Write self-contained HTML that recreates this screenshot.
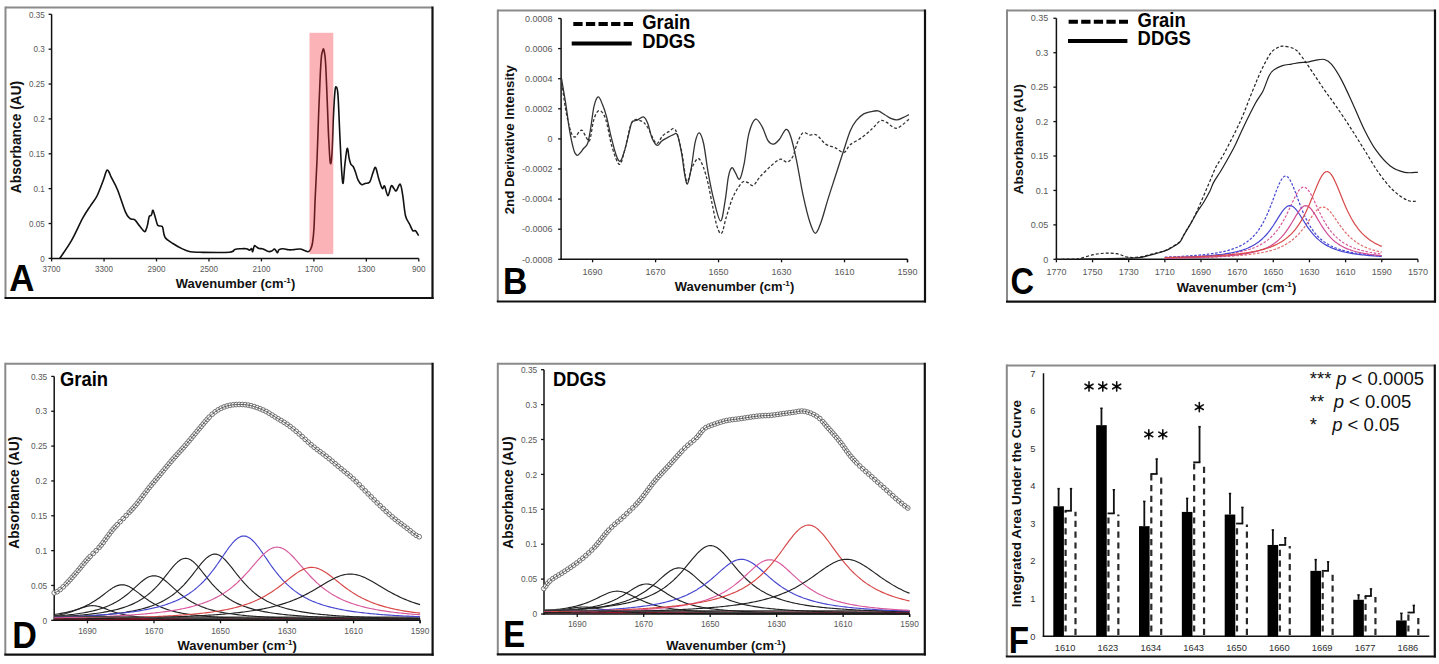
<!DOCTYPE html>
<html><head><meta charset="utf-8"><title>Figure</title>
<style>
html,body{margin:0;padding:0;background:#fff;overflow:hidden;}
svg{display:block;}
text{font-family:"Liberation Sans", sans-serif;}
</style></head>
<body>
<svg width="1439" height="664" viewBox="0 0 1439 664">
<rect width="1439" height="664" fill="#fff"/>
<line x1="5.5" y1="7.5" x2="432.5" y2="7.5" stroke="#8a8a8a" stroke-width="2" stroke-linecap="butt"/>
<line x1="5.5" y1="6.5" x2="5.5" y2="298" stroke="#8a8a8a" stroke-width="2" stroke-linecap="butt"/>
<line x1="432.5" y1="6.5" x2="432.5" y2="299" stroke="#111" stroke-width="2.2" stroke-linecap="butt"/>
<line x1="4.5" y1="298" x2="433.5" y2="298" stroke="#111" stroke-width="2.2" stroke-linecap="butt"/>
<line x1="51.6" y1="14.31" x2="51.6" y2="259.15" stroke="#111" stroke-width="1.5" stroke-linecap="butt"/>
<line x1="50.85" y1="258.4" x2="418.8" y2="258.4" stroke="#111" stroke-width="1.5" stroke-linecap="butt"/>
<line x1="48.6" y1="258.4" x2="51.6" y2="258.4" stroke="#111" stroke-width="1.3" stroke-linecap="butt"/>
<text transform="translate(44.8 261.6) scale(0.9 1)" x="0" y="0" font-size="9" text-anchor="end" fill="#585858">0</text>
<line x1="48.6" y1="223.53" x2="51.6" y2="223.53" stroke="#111" stroke-width="1.3" stroke-linecap="butt"/>
<text transform="translate(44.8 226.73) scale(0.9 1)" x="0" y="0" font-size="9" text-anchor="end" fill="#585858">0.05</text>
<line x1="48.6" y1="188.66" x2="51.6" y2="188.66" stroke="#111" stroke-width="1.3" stroke-linecap="butt"/>
<text transform="translate(44.8 191.86) scale(0.9 1)" x="0" y="0" font-size="9" text-anchor="end" fill="#585858">0.1</text>
<line x1="48.6" y1="153.79" x2="51.6" y2="153.79" stroke="#111" stroke-width="1.3" stroke-linecap="butt"/>
<text transform="translate(44.8 156.99) scale(0.9 1)" x="0" y="0" font-size="9" text-anchor="end" fill="#585858">0.15</text>
<line x1="48.6" y1="118.92" x2="51.6" y2="118.92" stroke="#111" stroke-width="1.3" stroke-linecap="butt"/>
<text transform="translate(44.8 122.12) scale(0.9 1)" x="0" y="0" font-size="9" text-anchor="end" fill="#585858">0.2</text>
<line x1="48.6" y1="84.05" x2="51.6" y2="84.05" stroke="#111" stroke-width="1.3" stroke-linecap="butt"/>
<text transform="translate(44.8 87.25) scale(0.9 1)" x="0" y="0" font-size="9" text-anchor="end" fill="#585858">0.25</text>
<line x1="48.6" y1="49.18" x2="51.6" y2="49.18" stroke="#111" stroke-width="1.3" stroke-linecap="butt"/>
<text transform="translate(44.8 52.38) scale(0.9 1)" x="0" y="0" font-size="9" text-anchor="end" fill="#585858">0.3</text>
<line x1="48.6" y1="14.31" x2="51.6" y2="14.31" stroke="#111" stroke-width="1.3" stroke-linecap="butt"/>
<text transform="translate(44.8 17.51) scale(0.9 1)" x="0" y="0" font-size="9" text-anchor="end" fill="#585858">0.35</text>
<line x1="51.6" y1="258.4" x2="51.6" y2="261.4" stroke="#111" stroke-width="1.3" stroke-linecap="butt"/>
<text transform="translate(51.6 272.2) scale(0.9 1)" x="0" y="0" font-size="9" text-anchor="middle" fill="#585858">3700</text>
<line x1="104.06" y1="258.4" x2="104.06" y2="261.4" stroke="#111" stroke-width="1.3" stroke-linecap="butt"/>
<text transform="translate(104.06 272.2) scale(0.9 1)" x="0" y="0" font-size="9" text-anchor="middle" fill="#585858">3300</text>
<line x1="156.51" y1="258.4" x2="156.51" y2="261.4" stroke="#111" stroke-width="1.3" stroke-linecap="butt"/>
<text transform="translate(156.51 272.2) scale(0.9 1)" x="0" y="0" font-size="9" text-anchor="middle" fill="#585858">2900</text>
<line x1="208.97" y1="258.4" x2="208.97" y2="261.4" stroke="#111" stroke-width="1.3" stroke-linecap="butt"/>
<text transform="translate(208.97 272.2) scale(0.9 1)" x="0" y="0" font-size="9" text-anchor="middle" fill="#585858">2500</text>
<line x1="261.43" y1="258.4" x2="261.43" y2="261.4" stroke="#111" stroke-width="1.3" stroke-linecap="butt"/>
<text transform="translate(261.43 272.2) scale(0.9 1)" x="0" y="0" font-size="9" text-anchor="middle" fill="#585858">2100</text>
<line x1="313.89" y1="258.4" x2="313.89" y2="261.4" stroke="#111" stroke-width="1.3" stroke-linecap="butt"/>
<text transform="translate(313.89 272.2) scale(0.9 1)" x="0" y="0" font-size="9" text-anchor="middle" fill="#585858">1700</text>
<line x1="366.34" y1="258.4" x2="366.34" y2="261.4" stroke="#111" stroke-width="1.3" stroke-linecap="butt"/>
<text transform="translate(366.34 272.2) scale(0.9 1)" x="0" y="0" font-size="9" text-anchor="middle" fill="#585858">1300</text>
<line x1="418.8" y1="258.4" x2="418.8" y2="261.4" stroke="#111" stroke-width="1.3" stroke-linecap="butt"/>
<text transform="translate(418.8 272.2) scale(0.9 1)" x="0" y="0" font-size="9" text-anchor="middle" fill="#585858">900</text>
<text x="20.9" y="137" font-size="13.75" text-anchor="middle" font-weight="bold" fill="#111" transform="rotate(-90 20.9 137)" >Absorbance (AU)</text>
<text x="235.5" y="287.8" font-size="13" font-weight="bold" text-anchor="middle" fill="#111">Wavenumber (cm<tspan font-size="8.1" dy="-5">-1</tspan><tspan dy="5">)</tspan></text>
<text transform="translate(9.16 291.2) scale(0.947 1)" x="0" y="0" font-size="36.8" font-weight="bold" fill="#000">A</text>
<path d="M59.6,258.7 C61.6,255.65 67.75,247.15 71.6,240.4 C75.45,233.65 79.53,224 82.7,218.2 C85.87,212.4 88.22,209.3 90.6,205.6 C92.98,201.9 94.88,200.22 97,196 C99.12,191.78 101.88,184.05 103.3,180.3 C104.72,176.55 104.87,175.2 105.5,173.5 C106.13,171.8 106.52,170.35 107.1,170.1 C107.68,169.85 108.32,170.83 109,172 C109.68,173.17 109.78,174.15 111.2,177.1 C112.62,180.05 115.13,183.9 117.5,189.7 C119.87,195.5 123.4,207.18 125.4,211.9 C127.4,216.62 128.43,216.78 129.5,218 C130.57,219.22 130.9,218.9 131.8,219.2 C132.7,219.5 133.58,218.65 134.9,219.8 C136.22,220.95 138.12,224.15 139.7,226.1 C141.28,228.05 143.3,231.02 144.4,231.5 C145.5,231.98 145.77,230.15 146.3,229 C146.83,227.85 147.12,226.67 147.6,224.6 C148.08,222.53 148.67,218.08 149.2,216.6 C149.73,215.12 150.37,216.13 150.8,215.7 C151.23,215.27 151.43,214.9 151.8,214 C152.17,213.1 152.38,209.6 153,210.3 C153.62,211 154.72,215.72 155.5,218.2 C156.28,220.68 156.75,223.88 157.7,225.2 C158.65,226.52 160.35,225.68 161.2,226.1 C162.05,226.52 162.17,225.85 162.8,227.7 C163.43,229.55 163.32,234.57 165,237.2 C166.68,239.83 170,241.55 172.9,243.5 C175.8,245.45 179.5,247.52 182.4,248.9 C185.3,250.28 187.37,251.23 190.3,251.8 C193.23,252.37 193.47,252.23 200,252.3 C206.53,252.37 223.7,252.68 229.5,252.2 C235.3,251.72 232.87,249.98 234.8,249.4 C236.73,248.82 239.17,248.82 241.1,248.7 C243.03,248.58 245,248.47 246.4,248.7 C247.8,248.93 248.63,250.13 249.5,250.1 C250.37,250.07 251.07,248.23 251.6,248.5 C252.13,248.77 252.25,252.13 252.7,251.7 C253.15,251.27 253.68,246.7 254.3,245.9 C254.92,245.1 255.62,246.47 256.4,246.9 C257.18,247.33 258.03,248.2 259,248.5 C259.97,248.8 261.15,248.43 262.2,248.7 C263.25,248.97 264.25,249.63 265.3,250.1 C266.35,250.57 267.43,251.33 268.5,251.5 C269.57,251.67 270.73,251.52 271.7,251.1 C272.67,250.68 273.6,249.08 274.3,249 C275,248.92 275.37,249.98 275.9,250.6 C276.43,251.22 276.97,252.87 277.5,252.7 C278.03,252.53 278.13,250.27 279.1,249.6 C280.07,248.93 281.73,248.67 283.3,248.7 C284.87,248.73 286.75,249.65 288.5,249.8 C290.25,249.95 291.87,249.73 293.8,249.6 C295.73,249.47 298.33,248.87 300.1,249 C301.87,249.13 303.08,249.93 304.4,250.4 C305.72,250.87 306.98,251.95 308,251.8 C309.02,251.65 309.75,250.97 310.5,249.5 C311.25,248.03 311.92,246.58 312.5,243 C313.08,239.42 313.57,235.17 314,228 C314.43,220.83 314.6,211.25 315.1,200 C315.6,188.75 316.4,175.12 317,160.5 C317.6,145.88 318.17,126.37 318.7,112.3 C319.23,98.23 319.75,85.33 320.2,76.1 C320.65,66.87 321,61.08 321.4,56.9 C321.8,52.72 322.2,52.22 322.6,51 C323,49.78 323.32,47.82 323.8,49.6 C324.28,51.38 324.93,53.27 325.5,61.7 C326.07,70.13 326.68,87.75 327.2,100.2 C327.72,112.65 328.08,125.95 328.6,136.4 C329.12,146.85 329.73,160.08 330.3,162.9 C330.87,165.72 331.48,160.93 332,153.3 C332.52,145.67 332.92,127.35 333.4,117.1 C333.88,106.85 334.42,96.82 334.9,91.8 C335.38,86.78 335.78,86.4 336.3,87 C336.82,87.6 337.4,87.17 338,95.4 C338.6,103.63 339.3,123.95 339.9,136.4 C340.5,148.85 341.07,162.27 341.6,170.1 C342.13,177.93 342.57,184.2 343.1,183.4 C343.63,182.6 344.12,171.13 344.8,165.3 C345.48,159.47 346.48,149.6 347.2,148.4 C347.92,147.2 348.5,155.48 349.1,158.1 C349.7,160.72 350.12,162.7 350.8,164.1 C351.48,165.5 352.4,165.1 353.2,166.5 C354,167.9 354.8,170.28 355.6,172.5 C356.4,174.72 357,177.78 358,179.8 C359,181.82 360.43,184 361.6,184.6 C362.77,185.2 363.65,183.85 365,183.4 C366.35,182.95 368.37,183.7 369.7,181.9 C371.03,180.1 372.02,174.98 373,172.6 C373.98,170.22 374.62,166.48 375.6,167.6 C376.58,168.72 377.78,175.82 378.9,179.3 C380.02,182.78 381.35,187.4 382.3,188.5 C383.25,189.6 383.67,184.68 384.6,185.9 C385.53,187.12 386.8,195.8 387.9,195.8 C389,195.8 390.2,187.12 391.2,185.9 C392.2,184.68 393.07,187.67 393.9,188.5 C394.73,189.33 395.15,191.62 396.2,190.9 C397.25,190.18 399.1,183.38 400.2,184.2 C401.3,185.02 401.92,190.55 402.8,195.8 C403.68,201.05 404.38,211 405.5,215.7 C406.62,220.4 408.28,221.5 409.5,224 C410.72,226.5 411.82,229.58 412.8,230.7 C413.78,231.82 414.42,229.88 415.4,230.7 C416.38,231.52 418.15,234.78 418.7,235.6" fill="none" stroke="#111" stroke-width="1.6" stroke-linejoin="round" />
<rect x="309.5" y="32.8" width="23.8" height="221.3" fill="#f5323d" fill-opacity="0.37"/>
<line x1="497.8" y1="10.5" x2="925" y2="10.5" stroke="#8a8a8a" stroke-width="2" stroke-linecap="butt"/>
<line x1="497.8" y1="9.5" x2="497.8" y2="301.5" stroke="#8a8a8a" stroke-width="2" stroke-linecap="butt"/>
<line x1="925" y1="9.5" x2="925" y2="302.5" stroke="#111" stroke-width="2.2" stroke-linecap="butt"/>
<line x1="496.8" y1="301.5" x2="926" y2="301.5" stroke="#111" stroke-width="2.2" stroke-linecap="butt"/>
<line x1="561.1" y1="18.5" x2="561.1" y2="260.05" stroke="#111" stroke-width="1.5" stroke-linecap="butt"/>
<line x1="560.35" y1="259.3" x2="907.5" y2="259.3" stroke="#111" stroke-width="1.5" stroke-linecap="butt"/>
<line x1="558.1" y1="259.3" x2="561.1" y2="259.3" stroke="#111" stroke-width="1.3" stroke-linecap="butt"/>
<text transform="translate(552.6 262.5) scale(1.0 1)" x="0" y="0" font-size="9" text-anchor="end" fill="#585858">-0.0008</text>
<line x1="558.1" y1="229.2" x2="561.1" y2="229.2" stroke="#111" stroke-width="1.3" stroke-linecap="butt"/>
<text transform="translate(552.6 232.4) scale(1.0 1)" x="0" y="0" font-size="9" text-anchor="end" fill="#585858">-0.0006</text>
<line x1="558.1" y1="199.1" x2="561.1" y2="199.1" stroke="#111" stroke-width="1.3" stroke-linecap="butt"/>
<text transform="translate(552.6 202.3) scale(1.0 1)" x="0" y="0" font-size="9" text-anchor="end" fill="#585858">-0.0004</text>
<line x1="558.1" y1="169" x2="561.1" y2="169" stroke="#111" stroke-width="1.3" stroke-linecap="butt"/>
<text transform="translate(552.6 172.2) scale(1.0 1)" x="0" y="0" font-size="9" text-anchor="end" fill="#585858">-0.0002</text>
<line x1="558.1" y1="138.9" x2="561.1" y2="138.9" stroke="#111" stroke-width="1.3" stroke-linecap="butt"/>
<text transform="translate(552.6 142.1) scale(1.0 1)" x="0" y="0" font-size="9" text-anchor="end" fill="#585858">0</text>
<line x1="558.1" y1="108.8" x2="561.1" y2="108.8" stroke="#111" stroke-width="1.3" stroke-linecap="butt"/>
<text transform="translate(552.6 112) scale(1.0 1)" x="0" y="0" font-size="9" text-anchor="end" fill="#585858">0.0002</text>
<line x1="558.1" y1="78.7" x2="561.1" y2="78.7" stroke="#111" stroke-width="1.3" stroke-linecap="butt"/>
<text transform="translate(552.6 81.9) scale(1.0 1)" x="0" y="0" font-size="9" text-anchor="end" fill="#585858">0.0004</text>
<line x1="558.1" y1="48.6" x2="561.1" y2="48.6" stroke="#111" stroke-width="1.3" stroke-linecap="butt"/>
<text transform="translate(552.6 51.8) scale(1.0 1)" x="0" y="0" font-size="9" text-anchor="end" fill="#585858">0.0006</text>
<line x1="558.1" y1="18.5" x2="561.1" y2="18.5" stroke="#111" stroke-width="1.3" stroke-linecap="butt"/>
<text transform="translate(552.6 21.7) scale(1.0 1)" x="0" y="0" font-size="9" text-anchor="end" fill="#585858">0.0008</text>
<line x1="592.59" y1="259.3" x2="592.59" y2="262.3" stroke="#111" stroke-width="1.3" stroke-linecap="butt"/>
<text transform="translate(592.59 275) scale(1.0 1)" x="0" y="0" font-size="9" text-anchor="middle" fill="#585858">1690</text>
<line x1="655.57" y1="259.3" x2="655.57" y2="262.3" stroke="#111" stroke-width="1.3" stroke-linecap="butt"/>
<text transform="translate(655.57 275) scale(1.0 1)" x="0" y="0" font-size="9" text-anchor="middle" fill="#585858">1670</text>
<line x1="718.55" y1="259.3" x2="718.55" y2="262.3" stroke="#111" stroke-width="1.3" stroke-linecap="butt"/>
<text transform="translate(718.55 275) scale(1.0 1)" x="0" y="0" font-size="9" text-anchor="middle" fill="#585858">1650</text>
<line x1="781.54" y1="259.3" x2="781.54" y2="262.3" stroke="#111" stroke-width="1.3" stroke-linecap="butt"/>
<text transform="translate(781.54 275) scale(1.0 1)" x="0" y="0" font-size="9" text-anchor="middle" fill="#585858">1630</text>
<line x1="844.52" y1="259.3" x2="844.52" y2="262.3" stroke="#111" stroke-width="1.3" stroke-linecap="butt"/>
<text transform="translate(844.52 275) scale(1.0 1)" x="0" y="0" font-size="9" text-anchor="middle" fill="#585858">1610</text>
<line x1="907.5" y1="259.3" x2="907.5" y2="262.3" stroke="#111" stroke-width="1.3" stroke-linecap="butt"/>
<text transform="translate(907.5 275) scale(1.0 1)" x="0" y="0" font-size="9" text-anchor="middle" fill="#585858">1590</text>
<line x1="907.5" y1="259.3" x2="907.5" y2="262.3" stroke="#111" stroke-width="1.3" stroke-linecap="butt"/>
<text x="514.3" y="139.7" font-size="13.3" text-anchor="middle" font-weight="bold" fill="#111" transform="rotate(-90 514.3 139.7)" >2nd Derivative Intensity</text>
<text x="734.5" y="291.3" font-size="13" font-weight="bold" text-anchor="middle" fill="#111">Wavenumber (cm<tspan font-size="8.1" dy="-5">-1</tspan><tspan dy="5">)</tspan></text>
<text transform="translate(502.9 294) scale(0.925 1)" x="0" y="0" font-size="36.5" font-weight="bold" fill="#000">B</text>
<line x1="573.3" y1="24.1" x2="633" y2="24.1" stroke="#000" stroke-width="4" stroke-dasharray="9.3 3.3" stroke-linecap="butt"/>
<line x1="571.7" y1="43.4" x2="631.7" y2="43.4" stroke="#000" stroke-width="4" stroke-linecap="butt"/>
<text transform="translate(642.2 28.8) scale(1 1.06)" x="0" y="0" font-size="18.4" font-weight="bold" fill="#000">Grain</text>
<text transform="translate(642.2 47.7) scale(1 1.06)" x="0" y="0" font-size="18.4" font-weight="bold" fill="#000">DDGS</text>
<path d="M561.3,77.9 C562,81.95 564.08,93.23 565.5,102.2 C566.92,111.17 568.38,123.63 569.8,131.7 C571.22,139.77 572.78,146.67 574,150.6 C575.22,154.53 576.05,154.95 577.1,155.3 C578.15,155.65 579.23,153.83 580.3,152.7 C581.37,151.57 582.27,150.07 583.5,148.5 C584.73,146.93 586.48,146.8 587.7,143.3 C588.92,139.8 589.75,133.65 590.8,127.5 C591.85,121.35 592.77,111.5 594,106.4 C595.23,101.3 596.8,97.25 598.2,96.9 C599.6,96.55 601,100.97 602.4,104.3 C603.8,107.63 605.18,111.63 606.6,116.9 C608.02,122.17 609.32,129.57 610.9,135.9 C612.48,142.23 614.53,150.68 616.1,154.9 C617.67,159.12 618.88,161.92 620.3,161.2 C621.72,160.48 623.18,155.17 624.6,150.6 C626.02,146.03 627.57,138.53 628.8,133.8 C630.03,129.07 630.6,124.48 632,122.2 C633.4,119.92 635.28,120.98 637.2,120.1 C639.12,119.22 641.75,116.38 643.5,116.9 C645.25,117.42 646.28,119.68 647.7,123.2 C649.12,126.72 650.42,134.3 652,138 C653.58,141.7 655.62,144.87 657.2,145.4 C658.78,145.93 659.92,142.43 661.5,141.2 C663.08,139.97 664.78,139.07 666.7,138 C668.62,136.93 671.23,135.33 673,134.8 C674.77,134.27 675.88,131.82 677.3,134.8 C678.72,137.78 680.28,146.2 681.5,152.7 C682.72,159.2 683.62,168.58 684.6,173.8 C685.58,179.02 686.33,184.7 687.4,184 C688.47,183.3 689.7,176.57 691,169.6 C692.3,162.63 693.83,148.33 695.2,142.2 C696.57,136.07 697.8,132.58 699.2,132.8 C700.6,133.02 702.12,136.92 703.6,143.5 C705.08,150.08 706.42,162.98 708.1,172.3 C709.78,181.62 711.63,191.3 713.7,199.4 C715.77,207.5 718.62,220.52 720.5,220.9 C722.38,221.28 723.68,209.05 725,201.7 C726.32,194.35 727.27,182.45 728.4,176.8 C729.53,171.15 730.67,168.55 731.8,167.8 C732.93,167.05 733.88,170.42 735.2,172.3 C736.52,174.18 738.2,180.6 739.7,179.1 C741.2,177.6 742.68,170.83 744.2,163.3 C745.72,155.77 746.92,141.25 748.8,133.9 C750.68,126.55 753.25,120.33 755.5,119.2 C757.75,118.07 760.22,123.52 762.3,127.1 C764.38,130.68 766.12,137.87 768,140.7 C769.88,143.53 771.72,144.3 773.6,144.1 C775.48,143.9 777.23,141.95 779.3,139.5 C781.37,137.05 784.12,129.95 786,129.4 C787.88,128.85 788.9,131.3 790.6,136.2 C792.3,141.1 794.13,149.02 796.2,158.8 C798.27,168.58 800.73,184.37 803,194.9 C805.27,205.43 807.73,215.6 809.8,222 C811.87,228.4 813.52,233.3 815.4,233.3 C817.28,233.3 819.02,227.65 821.1,222 C823.18,216.35 825.57,206.9 827.9,199.4 C830.23,191.9 832.65,184.6 835.1,177 C837.55,169.4 840.1,161.43 842.6,153.8 C845.1,146.17 847.83,136.72 850.1,131.2 C852.37,125.68 853.93,123.58 856.2,120.7 C858.47,117.82 861.2,115.42 863.7,113.9 C866.2,112.38 868.82,112.1 871.2,111.6 C873.58,111.1 875.73,110.38 878,110.9 C880.27,111.42 882.67,113.45 884.8,114.7 C886.93,115.95 888.78,117.53 890.8,118.4 C892.82,119.27 894.88,120.02 896.9,119.9 C898.92,119.78 900.9,118.57 902.9,117.7 C904.9,116.83 907.9,115.2 908.9,114.7" fill="none" stroke="#333" stroke-width="1.3" stroke-linejoin="round" />
<path d="M561.3,77.9 C562,83 563.92,99.53 565.5,108.5 C567.08,117.47 569.22,126.95 570.8,131.7 C572.38,136.45 573.6,137 575,137 C576.4,137 577.97,132.77 579.2,131.7 C580.43,130.63 581.17,129.55 582.4,130.6 C583.63,131.65 585.37,136.42 586.6,138 C587.83,139.58 588.57,143.27 589.8,140.1 C591.03,136.93 592.42,123.92 594,119 C595.58,114.08 597.37,110.6 599.3,110.6 C601.23,110.6 603.5,113.03 605.6,119 C607.7,124.97 609.62,138.85 611.9,146.4 C614.18,153.95 617.18,163.6 619.3,164.3 C621.42,165 622.48,157.62 624.6,150.6 C626.72,143.58 629.2,127.12 632,122.2 C634.8,117.28 638.78,120.22 641.4,121.1 C644.02,121.98 645.23,123.8 647.7,127.5 C650.17,131.2 653.73,141.9 656.2,143.3 C658.67,144.7 660.4,137.83 662.5,135.9 C664.6,133.97 666.68,132.75 668.8,131.7 C670.92,130.65 673.08,126.45 675.2,129.6 C677.32,132.75 679.58,142 681.5,150.6 C683.42,159.2 684.95,178.38 686.7,181.2 C688.45,184.02 690.07,171.28 692,167.5 C693.93,163.72 696.37,158.45 698.3,158.5 C700.23,158.55 701.97,163.62 703.6,167.8 C705.23,171.98 706.6,177.2 708.1,183.6 C709.6,190 711.1,199.03 712.6,206.2 C714.1,213.37 715.6,222.08 717.1,226.6 C718.6,231.12 720.08,234.82 721.6,233.3 C723.12,231.78 724.32,223.52 726.2,217.5 C728.08,211.48 730.27,203.03 732.9,197.2 C735.53,191.37 739.55,184.95 742,182.5 C744.45,180.05 745.72,182.02 747.6,182.5 C749.48,182.98 751.23,186.35 753.3,185.4 C755.37,184.45 756.98,180.12 760,176.8 C763.02,173.48 768,168.43 771.4,165.5 C774.8,162.57 777.77,159.77 780.4,159.2 C783.03,158.63 785.13,162.55 787.2,162.1 C789.27,161.65 791.12,159.7 792.8,156.5 C794.48,153.3 795.6,146.85 797.3,142.9 C799,138.95 800.92,134.12 803,132.8 C805.08,131.48 807.53,134.63 809.8,135 C812.07,135.37 813.97,133.48 816.6,135 C819.23,136.52 822.6,142.02 825.6,144.1 C828.6,146.18 831.52,146.13 834.6,147.5 C837.68,148.87 841.52,152.75 844.1,152.3 C846.68,151.85 847.08,147.3 850.1,144.8 C853.12,142.3 858.43,140.07 862.2,137.3 C865.97,134.53 869.68,130.97 872.7,128.2 C875.72,125.43 878.03,121.7 880.3,120.7 C882.57,119.7 884.3,121.2 886.3,122.2 C888.3,123.2 890.53,125.7 892.3,126.7 C894.07,127.7 895.13,128.57 896.9,128.2 C898.67,127.83 900.9,126 902.9,124.5 C904.9,123 907.9,120.08 908.9,119.2" fill="none" stroke="#333" stroke-width="1.3" stroke-dasharray="3 2" stroke-linejoin="round" />
<line x1="1007" y1="10.5" x2="1435" y2="10.5" stroke="#8a8a8a" stroke-width="2" stroke-linecap="butt"/>
<line x1="1007" y1="9.5" x2="1007" y2="301.6" stroke="#8a8a8a" stroke-width="2" stroke-linecap="butt"/>
<line x1="1435" y1="9.5" x2="1435" y2="302.6" stroke="#111" stroke-width="2.2" stroke-linecap="butt"/>
<line x1="1006" y1="301.6" x2="1436" y2="301.6" stroke="#111" stroke-width="2.2" stroke-linecap="butt"/>
<line x1="1056.4" y1="18.29" x2="1056.4" y2="260.05" stroke="#111" stroke-width="1.5" stroke-linecap="butt"/>
<line x1="1055.65" y1="259.3" x2="1417.9" y2="259.3" stroke="#111" stroke-width="1.5" stroke-linecap="butt"/>
<line x1="1053.4" y1="259.3" x2="1056.4" y2="259.3" stroke="#111" stroke-width="1.3" stroke-linecap="butt"/>
<text transform="translate(1048.2 262.5) scale(1.0 1)" x="0" y="0" font-size="9" text-anchor="end" fill="#585858">0</text>
<line x1="1053.4" y1="224.87" x2="1056.4" y2="224.87" stroke="#111" stroke-width="1.3" stroke-linecap="butt"/>
<text transform="translate(1048.2 228.07) scale(1.0 1)" x="0" y="0" font-size="9" text-anchor="end" fill="#585858">0.05</text>
<line x1="1053.4" y1="190.44" x2="1056.4" y2="190.44" stroke="#111" stroke-width="1.3" stroke-linecap="butt"/>
<text transform="translate(1048.2 193.64) scale(1.0 1)" x="0" y="0" font-size="9" text-anchor="end" fill="#585858">0.1</text>
<line x1="1053.4" y1="156.01" x2="1056.4" y2="156.01" stroke="#111" stroke-width="1.3" stroke-linecap="butt"/>
<text transform="translate(1048.2 159.21) scale(1.0 1)" x="0" y="0" font-size="9" text-anchor="end" fill="#585858">0.15</text>
<line x1="1053.4" y1="121.58" x2="1056.4" y2="121.58" stroke="#111" stroke-width="1.3" stroke-linecap="butt"/>
<text transform="translate(1048.2 124.78) scale(1.0 1)" x="0" y="0" font-size="9" text-anchor="end" fill="#585858">0.2</text>
<line x1="1053.4" y1="87.15" x2="1056.4" y2="87.15" stroke="#111" stroke-width="1.3" stroke-linecap="butt"/>
<text transform="translate(1048.2 90.35) scale(1.0 1)" x="0" y="0" font-size="9" text-anchor="end" fill="#585858">0.25</text>
<line x1="1053.4" y1="52.72" x2="1056.4" y2="52.72" stroke="#111" stroke-width="1.3" stroke-linecap="butt"/>
<text transform="translate(1048.2 55.92) scale(1.0 1)" x="0" y="0" font-size="9" text-anchor="end" fill="#585858">0.3</text>
<line x1="1053.4" y1="18.29" x2="1056.4" y2="18.29" stroke="#111" stroke-width="1.3" stroke-linecap="butt"/>
<text transform="translate(1048.2 21.49) scale(1.0 1)" x="0" y="0" font-size="9" text-anchor="end" fill="#585858">0.35</text>
<line x1="1056.4" y1="259.3" x2="1056.4" y2="262.3" stroke="#111" stroke-width="1.3" stroke-linecap="butt"/>
<text transform="translate(1056.4 275.4) scale(1.0 1)" x="0" y="0" font-size="9" text-anchor="middle" fill="#585858">1770</text>
<line x1="1092.55" y1="259.3" x2="1092.55" y2="262.3" stroke="#111" stroke-width="1.3" stroke-linecap="butt"/>
<text transform="translate(1092.55 275.4) scale(1.0 1)" x="0" y="0" font-size="9" text-anchor="middle" fill="#585858">1750</text>
<line x1="1128.7" y1="259.3" x2="1128.7" y2="262.3" stroke="#111" stroke-width="1.3" stroke-linecap="butt"/>
<text transform="translate(1128.7 275.4) scale(1.0 1)" x="0" y="0" font-size="9" text-anchor="middle" fill="#585858">1730</text>
<line x1="1164.85" y1="259.3" x2="1164.85" y2="262.3" stroke="#111" stroke-width="1.3" stroke-linecap="butt"/>
<text transform="translate(1164.85 275.4) scale(1.0 1)" x="0" y="0" font-size="9" text-anchor="middle" fill="#585858">1710</text>
<line x1="1201" y1="259.3" x2="1201" y2="262.3" stroke="#111" stroke-width="1.3" stroke-linecap="butt"/>
<text transform="translate(1201 275.4) scale(1.0 1)" x="0" y="0" font-size="9" text-anchor="middle" fill="#585858">1690</text>
<line x1="1237.15" y1="259.3" x2="1237.15" y2="262.3" stroke="#111" stroke-width="1.3" stroke-linecap="butt"/>
<text transform="translate(1237.15 275.4) scale(1.0 1)" x="0" y="0" font-size="9" text-anchor="middle" fill="#585858">1670</text>
<line x1="1273.3" y1="259.3" x2="1273.3" y2="262.3" stroke="#111" stroke-width="1.3" stroke-linecap="butt"/>
<text transform="translate(1273.3 275.4) scale(1.0 1)" x="0" y="0" font-size="9" text-anchor="middle" fill="#585858">1650</text>
<line x1="1309.45" y1="259.3" x2="1309.45" y2="262.3" stroke="#111" stroke-width="1.3" stroke-linecap="butt"/>
<text transform="translate(1309.45 275.4) scale(1.0 1)" x="0" y="0" font-size="9" text-anchor="middle" fill="#585858">1630</text>
<line x1="1345.6" y1="259.3" x2="1345.6" y2="262.3" stroke="#111" stroke-width="1.3" stroke-linecap="butt"/>
<text transform="translate(1345.6 275.4) scale(1.0 1)" x="0" y="0" font-size="9" text-anchor="middle" fill="#585858">1610</text>
<line x1="1381.75" y1="259.3" x2="1381.75" y2="262.3" stroke="#111" stroke-width="1.3" stroke-linecap="butt"/>
<text transform="translate(1381.75 275.4) scale(1.0 1)" x="0" y="0" font-size="9" text-anchor="middle" fill="#585858">1590</text>
<line x1="1417.9" y1="259.3" x2="1417.9" y2="262.3" stroke="#111" stroke-width="1.3" stroke-linecap="butt"/>
<text transform="translate(1417.9 275.4) scale(1.0 1)" x="0" y="0" font-size="9" text-anchor="middle" fill="#585858">1570</text>
<text x="1022.8" y="139" font-size="13.5" text-anchor="middle" font-weight="bold" fill="#111" transform="rotate(-90 1022.8 139)" >Absorbance (AU)</text>
<text x="1236.5" y="291.5" font-size="13" font-weight="bold" text-anchor="middle" fill="#111">Wavenumber (cm<tspan font-size="8.1" dy="-5">-1</tspan><tspan dy="5">)</tspan></text>
<text transform="translate(1010.5 293.8) scale(0.9 1)" x="0" y="0" font-size="36.2" font-weight="bold" fill="#000">C</text>
<line x1="1068.6" y1="21.8" x2="1128" y2="21.8" stroke="#000" stroke-width="4" stroke-dasharray="9.3 3.3" stroke-linecap="butt"/>
<line x1="1068" y1="41" x2="1127.4" y2="41" stroke="#000" stroke-width="4" stroke-linecap="butt"/>
<text transform="translate(1137.6 26.8) scale(1 1.06)" x="0" y="0" font-size="18.4" font-weight="bold" fill="#000">Grain</text>
<text transform="translate(1137.6 45.4) scale(1 1.06)" x="0" y="0" font-size="18.4" font-weight="bold" fill="#000">DDGS</text>
<path d="M1164.85,257.1 L1166.66,257.03 L1168.47,256.97 L1170.27,256.89 L1172.08,256.82 L1173.89,256.74 L1175.7,256.66 L1177.5,256.57 L1179.31,256.48 L1181.12,256.39 L1182.93,256.29 L1184.73,256.18 L1186.54,256.07 L1188.35,255.96 L1190.16,255.83 L1191.96,255.7 L1193.77,255.57 L1195.58,255.42 L1197.39,255.27 L1199.19,255.11 L1201,254.94 L1202.81,254.76 L1204.62,254.56 L1206.42,254.36 L1208.23,254.14 L1210.04,253.9 L1211.85,253.65 L1213.65,253.39 L1215.46,253.1 L1217.27,252.79 L1219.08,252.47 L1220.88,252.11 L1222.69,251.73 L1224.5,251.32 L1226.31,250.88 L1228.11,250.4 L1229.92,249.87 L1231.73,249.31 L1233.54,248.69 L1235.34,248.02 L1237.15,247.29 L1238.96,246.48 L1240.77,245.6 L1242.57,244.63 L1244.38,243.57 L1246.19,242.39 L1248,241.09 L1249.8,239.65 L1251.61,238.05 L1253.42,236.27 L1255.23,234.3 L1257.03,232.1 L1258.84,229.65 L1260.65,226.93 L1262.46,223.91 L1264.26,220.56 L1266.07,216.88 L1267.88,212.85 L1269.69,208.49 L1271.49,203.86 L1273.3,199.02 L1275.11,194.1 L1276.91,189.31 L1278.72,184.86 L1280.53,181.05 L1282.34,178.15 L1284.14,176.42 L1285.95,176.01 L1287.76,176.96 L1289.57,179.18 L1291.38,182.48 L1293.18,186.58 L1294.99,191.2 L1296.8,196.07 L1298.61,200.97 L1300.41,205.74 L1302.22,210.27 L1304.03,214.5 L1305.84,218.39 L1307.64,221.94 L1309.45,225.15 L1311.26,228.05 L1313.07,230.66 L1314.87,233.01 L1316.68,235.11 L1318.49,237.01 L1320.3,238.71 L1322.1,240.24 L1323.91,241.63 L1325.72,242.88 L1327.53,244.01 L1329.33,245.03 L1331.14,245.97 L1332.95,246.81 L1334.76,247.59 L1336.56,248.3 L1338.37,248.95 L1340.18,249.54 L1341.99,250.09 L1343.79,250.59 L1345.6,251.06 L1347.41,251.49 L1349.22,251.89 L1351.02,252.26 L1352.83,252.6 L1354.64,252.92 L1356.45,253.22 L1358.25,253.5 L1360.06,253.76 L1361.87,254 L1363.68,254.23 L1365.48,254.44 L1367.29,254.64 L1369.1,254.83 L1370.91,255.01 L1372.71,255.18 L1374.52,255.33 L1376.33,255.48 L1378.14,255.62 L1379.94,255.76 L1381.75,255.88" fill="none" stroke="#4646d2" stroke-width="1.2" stroke-dasharray="2.6 1.6" stroke-linejoin="round" />
<path d="M1164.85,257.58 L1166.66,257.53 L1168.47,257.49 L1170.27,257.44 L1172.08,257.39 L1173.89,257.34 L1175.7,257.28 L1177.5,257.22 L1179.31,257.17 L1181.12,257.1 L1182.93,257.04 L1184.73,256.97 L1186.54,256.9 L1188.35,256.83 L1190.16,256.75 L1191.96,256.67 L1193.77,256.59 L1195.58,256.5 L1197.39,256.41 L1199.19,256.31 L1201,256.21 L1202.81,256.1 L1204.62,255.99 L1206.42,255.87 L1208.23,255.75 L1210.04,255.62 L1211.85,255.48 L1213.65,255.33 L1215.46,255.18 L1217.27,255.01 L1219.08,254.84 L1220.88,254.66 L1222.69,254.46 L1224.5,254.25 L1226.31,254.03 L1228.11,253.79 L1229.92,253.54 L1231.73,253.27 L1233.54,252.99 L1235.34,252.68 L1237.15,252.35 L1238.96,252 L1240.77,251.62 L1242.57,251.21 L1244.38,250.76 L1246.19,250.29 L1248,249.77 L1249.8,249.21 L1251.61,248.6 L1253.42,247.94 L1255.23,247.22 L1257.03,246.44 L1258.84,245.58 L1260.65,244.64 L1262.46,243.62 L1264.26,242.49 L1266.07,241.24 L1267.88,239.88 L1269.69,238.37 L1271.49,236.71 L1273.3,234.87 L1275.11,232.85 L1276.91,230.62 L1278.72,228.17 L1280.53,225.48 L1282.34,222.54 L1284.14,219.35 L1285.95,215.93 L1287.76,212.28 L1289.57,208.47 L1291.38,204.57 L1293.18,200.69 L1294.99,196.97 L1296.8,193.59 L1298.61,190.73 L1300.41,188.59 L1302.22,187.32 L1304.03,187.02 L1305.84,187.71 L1307.64,189.35 L1309.45,191.8 L1311.26,194.89 L1313.07,198.43 L1314.87,202.23 L1316.68,206.14 L1318.49,210.01 L1320.3,213.76 L1322.1,217.32 L1323.91,220.66 L1325.72,223.75 L1327.53,226.58 L1329.33,229.18 L1331.14,231.54 L1332.95,233.68 L1334.76,235.63 L1336.56,237.39 L1338.37,238.99 L1340.18,240.44 L1341.99,241.76 L1343.79,242.95 L1345.6,244.04 L1347.41,245.03 L1349.22,245.94 L1351.02,246.76 L1352.83,247.52 L1354.64,248.21 L1356.45,248.85 L1358.25,249.44 L1360.06,249.98 L1361.87,250.48 L1363.68,250.95 L1365.48,251.37 L1367.29,251.77 L1369.1,252.14 L1370.91,252.49 L1372.71,252.81 L1374.52,253.1 L1376.33,253.38 L1378.14,253.65 L1379.94,253.89 L1381.75,254.12" fill="none" stroke="#d8559a" stroke-width="1.2" stroke-dasharray="2.6 1.6" stroke-linejoin="round" />
<path d="M1164.85,258.18 L1166.66,258.16 L1168.47,258.13 L1170.27,258.11 L1172.08,258.08 L1173.89,258.05 L1175.7,258.02 L1177.5,257.99 L1179.31,257.95 L1181.12,257.92 L1182.93,257.89 L1184.73,257.85 L1186.54,257.81 L1188.35,257.77 L1190.16,257.73 L1191.96,257.69 L1193.77,257.65 L1195.58,257.6 L1197.39,257.55 L1199.19,257.5 L1201,257.45 L1202.81,257.4 L1204.62,257.34 L1206.42,257.28 L1208.23,257.22 L1210.04,257.16 L1211.85,257.09 L1213.65,257.02 L1215.46,256.94 L1217.27,256.87 L1219.08,256.78 L1220.88,256.7 L1222.69,256.61 L1224.5,256.51 L1226.31,256.41 L1228.11,256.31 L1229.92,256.2 L1231.73,256.08 L1233.54,255.96 L1235.34,255.83 L1237.15,255.69 L1238.96,255.55 L1240.77,255.39 L1242.57,255.23 L1244.38,255.05 L1246.19,254.87 L1248,254.67 L1249.8,254.46 L1251.61,254.23 L1253.42,253.99 L1255.23,253.74 L1257.03,253.46 L1258.84,253.17 L1260.65,252.85 L1262.46,252.51 L1264.26,252.14 L1266.07,251.74 L1267.88,251.31 L1269.69,250.85 L1271.49,250.35 L1273.3,249.8 L1275.11,249.21 L1276.91,248.57 L1278.72,247.87 L1280.53,247.1 L1282.34,246.27 L1284.14,245.35 L1285.95,244.35 L1287.76,243.25 L1289.57,242.05 L1291.38,240.74 L1293.18,239.3 L1294.99,237.72 L1296.8,236 L1298.61,234.13 L1300.41,232.1 L1302.22,229.91 L1304.03,227.58 L1305.84,225.12 L1307.64,222.55 L1309.45,219.92 L1311.26,217.3 L1313.07,214.77 L1314.87,212.42 L1316.68,210.37 L1318.49,208.72 L1320.3,207.58 L1322.1,207.02 L1323.91,207.08 L1325.72,207.76 L1327.53,209.01 L1329.33,210.75 L1331.14,212.87 L1332.95,215.26 L1334.76,217.82 L1336.56,220.45 L1338.37,223.07 L1340.18,225.62 L1341.99,228.06 L1343.79,230.36 L1345.6,232.52 L1347.41,234.51 L1349.22,236.36 L1351.02,238.05 L1352.83,239.6 L1354.64,241.01 L1356.45,242.3 L1358.25,243.48 L1360.06,244.56 L1361.87,245.54 L1363.68,246.44 L1365.48,247.26 L1367.29,248.01 L1369.1,248.7 L1370.91,249.34 L1372.71,249.92 L1374.52,250.45 L1376.33,250.95 L1378.14,251.4 L1379.94,251.82 L1381.75,252.21" fill="none" stroke="#e06a6a" stroke-width="1.2" stroke-dasharray="2.6 1.6" stroke-linejoin="round" />
<path d="M1164.85,257.73 L1166.66,257.69 L1168.47,257.64 L1170.27,257.59 L1172.08,257.54 L1173.89,257.49 L1175.7,257.43 L1177.5,257.37 L1179.31,257.31 L1181.12,257.25 L1182.93,257.18 L1184.73,257.11 L1186.54,257.04 L1188.35,256.96 L1190.16,256.88 L1191.96,256.79 L1193.77,256.7 L1195.58,256.6 L1197.39,256.5 L1199.19,256.4 L1201,256.28 L1202.81,256.17 L1204.62,256.04 L1206.42,255.91 L1208.23,255.76 L1210.04,255.61 L1211.85,255.45 L1213.65,255.28 L1215.46,255.1 L1217.27,254.91 L1219.08,254.7 L1220.88,254.48 L1222.69,254.24 L1224.5,253.98 L1226.31,253.71 L1228.11,253.41 L1229.92,253.09 L1231.73,252.75 L1233.54,252.38 L1235.34,251.98 L1237.15,251.54 L1238.96,251.07 L1240.77,250.55 L1242.57,249.99 L1244.38,249.37 L1246.19,248.7 L1248,247.96 L1249.8,247.16 L1251.61,246.27 L1253.42,245.29 L1255.23,244.21 L1257.03,243.03 L1258.84,241.72 L1260.65,240.27 L1262.46,238.68 L1264.26,236.92 L1266.07,235 L1267.88,232.89 L1269.69,230.59 L1271.49,228.12 L1273.3,225.47 L1275.11,222.69 L1276.91,219.81 L1278.72,216.91 L1280.53,214.08 L1282.34,211.45 L1284.14,209.16 L1285.95,207.34 L1287.76,206.12 L1289.57,205.6 L1291.38,205.83 L1293.18,206.77 L1294.99,208.36 L1296.8,210.48 L1298.61,213 L1300.41,215.76 L1302.22,218.64 L1304.03,221.54 L1305.84,224.37 L1307.64,227.08 L1309.45,229.63 L1311.26,231.99 L1313.07,234.18 L1314.87,236.17 L1316.68,238 L1318.49,239.65 L1320.3,241.15 L1322.1,242.52 L1323.91,243.75 L1325.72,244.87 L1327.53,245.89 L1329.33,246.81 L1331.14,247.65 L1332.95,248.41 L1334.76,249.11 L1336.56,249.75 L1338.37,250.33 L1340.18,250.86 L1341.99,251.35 L1343.79,251.81 L1345.6,252.22 L1347.41,252.6 L1349.22,252.96 L1351.02,253.29 L1352.83,253.59 L1354.64,253.87 L1356.45,254.14 L1358.25,254.38 L1360.06,254.61 L1361.87,254.82 L1363.68,255.02 L1365.48,255.21 L1367.29,255.39 L1369.1,255.55 L1370.91,255.7 L1372.71,255.85 L1374.52,255.99 L1376.33,256.12 L1378.14,256.24 L1379.94,256.35 L1381.75,256.46" fill="none" stroke="#4646d2" stroke-width="1.2" stroke-linejoin="round" />
<path d="M1164.85,258.2 L1166.66,258.17 L1168.47,258.14 L1170.27,258.11 L1172.08,258.08 L1173.89,258.04 L1175.7,258.01 L1177.5,257.97 L1179.31,257.94 L1181.12,257.9 L1182.93,257.86 L1184.73,257.81 L1186.54,257.77 L1188.35,257.72 L1190.16,257.68 L1191.96,257.63 L1193.77,257.57 L1195.58,257.52 L1197.39,257.46 L1199.19,257.4 L1201,257.34 L1202.81,257.27 L1204.62,257.2 L1206.42,257.12 L1208.23,257.05 L1210.04,256.96 L1211.85,256.88 L1213.65,256.79 L1215.46,256.69 L1217.27,256.59 L1219.08,256.48 L1220.88,256.36 L1222.69,256.24 L1224.5,256.11 L1226.31,255.98 L1228.11,255.83 L1229.92,255.67 L1231.73,255.51 L1233.54,255.33 L1235.34,255.14 L1237.15,254.94 L1238.96,254.72 L1240.77,254.48 L1242.57,254.23 L1244.38,253.96 L1246.19,253.66 L1248,253.34 L1249.8,253 L1251.61,252.63 L1253.42,252.22 L1255.23,251.78 L1257.03,251.29 L1258.84,250.77 L1260.65,250.19 L1262.46,249.55 L1264.26,248.86 L1266.07,248.09 L1267.88,247.24 L1269.69,246.3 L1271.49,245.27 L1273.3,244.12 L1275.11,242.84 L1276.91,241.43 L1278.72,239.85 L1280.53,238.11 L1282.34,236.18 L1284.14,234.06 L1285.95,231.72 L1287.76,229.18 L1289.57,226.44 L1291.38,223.52 L1293.18,220.48 L1294.99,217.4 L1296.8,214.38 L1298.61,211.57 L1300.41,209.13 L1302.22,207.22 L1304.03,206.01 L1305.84,205.59 L1307.64,206.01 L1309.45,207.22 L1311.26,209.13 L1313.07,211.57 L1314.87,214.38 L1316.68,217.4 L1318.49,220.48 L1320.3,223.52 L1322.1,226.44 L1323.91,229.18 L1325.72,231.72 L1327.53,234.06 L1329.33,236.18 L1331.14,238.11 L1332.95,239.85 L1334.76,241.43 L1336.56,242.84 L1338.37,244.12 L1340.18,245.27 L1341.99,246.3 L1343.79,247.24 L1345.6,248.09 L1347.41,248.86 L1349.22,249.55 L1351.02,250.19 L1352.83,250.77 L1354.64,251.29 L1356.45,251.78 L1358.25,252.22 L1360.06,252.63 L1361.87,253 L1363.68,253.34 L1365.48,253.66 L1367.29,253.96 L1369.1,254.23 L1370.91,254.48 L1372.71,254.72 L1374.52,254.94 L1376.33,255.14 L1378.14,255.33 L1379.94,255.51 L1381.75,255.67" fill="none" stroke="#d04a94" stroke-width="1.2" stroke-linejoin="round" />
<path d="M1164.85,257.6 L1166.66,257.56 L1168.47,257.52 L1170.27,257.48 L1172.08,257.44 L1173.89,257.4 L1175.7,257.35 L1177.5,257.31 L1179.31,257.26 L1181.12,257.21 L1182.93,257.16 L1184.73,257.11 L1186.54,257.05 L1188.35,256.99 L1190.16,256.93 L1191.96,256.87 L1193.77,256.81 L1195.58,256.74 L1197.39,256.67 L1199.19,256.6 L1201,256.52 L1202.81,256.44 L1204.62,256.36 L1206.42,256.27 L1208.23,256.19 L1210.04,256.09 L1211.85,255.99 L1213.65,255.89 L1215.46,255.79 L1217.27,255.67 L1219.08,255.56 L1220.88,255.43 L1222.69,255.3 L1224.5,255.17 L1226.31,255.03 L1228.11,254.88 L1229.92,254.72 L1231.73,254.55 L1233.54,254.38 L1235.34,254.19 L1237.15,254 L1238.96,253.79 L1240.77,253.57 L1242.57,253.34 L1244.38,253.1 L1246.19,252.84 L1248,252.56 L1249.8,252.27 L1251.61,251.95 L1253.42,251.62 L1255.23,251.27 L1257.03,250.89 L1258.84,250.48 L1260.65,250.04 L1262.46,249.57 L1264.26,249.07 L1266.07,248.53 L1267.88,247.95 L1269.69,247.32 L1271.49,246.64 L1273.3,245.91 L1275.11,245.11 L1276.91,244.25 L1278.72,243.31 L1280.53,242.29 L1282.34,241.17 L1284.14,239.95 L1285.95,238.62 L1287.76,237.16 L1289.57,235.56 L1291.38,233.81 L1293.18,231.89 L1294.99,229.77 L1296.8,227.45 L1298.61,224.91 L1300.41,222.12 L1302.22,219.07 L1304.03,215.75 L1305.84,212.15 L1307.64,208.29 L1309.45,204.17 L1311.26,199.85 L1313.07,195.38 L1314.87,190.86 L1316.68,186.42 L1318.49,182.23 L1320.3,178.47 L1322.1,175.36 L1323.91,173.07 L1325.72,171.77 L1327.53,171.55 L1329.33,172.43 L1331.14,174.33 L1332.95,177.14 L1334.76,180.66 L1336.56,184.7 L1338.37,189.06 L1340.18,193.57 L1341.99,198.07 L1343.79,202.47 L1345.6,206.67 L1347.41,210.64 L1349.22,214.34 L1351.02,217.77 L1352.83,220.93 L1354.64,223.82 L1356.45,226.46 L1358.25,228.87 L1360.06,231.06 L1361.87,233.06 L1363.68,234.88 L1365.48,236.54 L1367.29,238.05 L1369.1,239.43 L1370.91,240.7 L1372.71,241.85 L1374.52,242.91 L1376.33,243.88 L1378.14,244.78 L1379.94,245.6 L1381.75,246.36" fill="none" stroke="#d84848" stroke-width="1.2" stroke-linejoin="round" />
<path d="M1080,259.2 C1084,259.13 1095.87,258.97 1104,258.8 C1112.13,258.63 1122.63,258.45 1128.8,258.2 C1134.97,257.95 1136.93,257.95 1141,257.3 C1145.07,256.65 1150.03,255.1 1153.2,254.3 C1156.37,253.5 1157.62,253.23 1160,252.5 C1162.38,251.77 1164.98,251.05 1167.5,249.9 C1170.02,248.75 1172.97,246.98 1175.1,245.6 C1177.23,244.22 1178.92,243.22 1180.3,241.6 C1181.68,239.98 1182.27,237.9 1183.4,235.9 C1184.53,233.9 1185.73,231.9 1187.1,229.6 C1188.47,227.3 1189.83,225.17 1191.6,222.1 C1193.37,219.03 1195.68,214.52 1197.7,211.2 C1199.72,207.88 1201.7,205.47 1203.7,202.2 C1205.7,198.93 1208.07,194.87 1209.7,191.6 C1211.33,188.33 1211.75,185.87 1213.5,182.6 C1215.25,179.33 1218.07,175.52 1220.2,172 C1222.33,168.48 1223.83,165.92 1226.3,161.5 C1228.77,157.08 1232.17,151.18 1235,145.5 C1237.83,139.82 1239.9,134.43 1243.3,127.4 C1246.7,120.37 1252.13,109.32 1255.4,103.3 C1258.67,97.28 1260.65,95.82 1262.9,91.3 C1265.15,86.78 1267.13,79.73 1268.9,76.2 C1270.67,72.67 1271.23,71.87 1273.5,70.1 C1275.77,68.33 1279.5,66.6 1282.5,65.6 C1285.5,64.6 1288.58,64.6 1291.5,64.1 C1294.42,63.6 1297.37,62.92 1300,62.6 C1302.63,62.28 1304.65,62.62 1307.3,62.2 C1309.95,61.78 1313.03,60.55 1315.9,60.1 C1318.77,59.65 1321.88,58.78 1324.5,59.5 C1327.12,60.22 1328.75,60.97 1331.6,64.4 C1334.45,67.83 1338.02,73.43 1341.6,80.1 C1345.18,86.77 1349.27,96.05 1353.1,104.4 C1356.93,112.75 1360.78,122.57 1364.6,130.2 C1368.42,137.83 1371.72,144.23 1376,150.2 C1380.28,156.17 1385.53,162.32 1390.3,166 C1395.07,169.68 1400,171.25 1404.6,172.3 C1409.2,173.35 1415.68,172.3 1417.9,172.3" fill="none" stroke="#222" stroke-width="1.2" stroke-linejoin="round" />
<path d="M1056.4,259.3 C1059.5,259.25 1071.07,259.13 1075,259 C1078.93,258.87 1077.13,259.18 1080,258.5 C1082.87,257.82 1088.13,255.78 1092.2,254.9 C1096.27,254.02 1100.33,253.4 1104.4,253.2 C1108.47,253 1112.53,253.02 1116.6,253.7 C1120.67,254.38 1124.73,256.78 1128.8,257.3 C1132.87,257.82 1136.93,257.4 1141,256.8 C1145.07,256.2 1150.03,254.47 1153.2,253.7 C1156.37,252.93 1157.62,252.88 1160,252.2 C1162.38,251.52 1164.98,250.78 1167.5,249.6 C1170.02,248.42 1172.97,246.48 1175.1,245.1 C1177.23,243.72 1178.92,242.88 1180.3,241.3 C1181.68,239.72 1182.27,237.6 1183.4,235.6 C1184.53,233.6 1185.73,231.6 1187.1,229.3 C1188.47,227 1190.03,224.68 1191.6,221.8 C1193.17,218.92 1194.73,215.77 1196.5,212 C1198.27,208.23 1200.5,203.1 1202.2,199.2 C1203.9,195.3 1205.2,192.12 1206.7,188.6 C1208.2,185.08 1209.7,181.62 1211.2,178.1 C1212.7,174.58 1214.2,170.52 1215.7,167.5 C1217.2,164.48 1218.62,162.67 1220.2,160 C1221.78,157.33 1221.85,157.93 1225.2,151.5 C1228.55,145.07 1235.77,131.43 1240.3,121.4 C1244.83,111.37 1248.88,99.85 1252.4,91.3 C1255.92,82.75 1258.4,76.38 1261.4,70.1 C1264.4,63.82 1267.97,57.18 1270.4,53.6 C1272.83,50.02 1273.98,49.83 1276,48.6 C1278.02,47.37 1279.4,46.13 1282.5,46.2 C1285.6,46.27 1291.42,47.28 1294.6,49 C1297.78,50.72 1298.53,52.52 1301.6,56.5 C1304.67,60.48 1309.18,67.3 1313,72.9 C1316.82,78.5 1320.68,84.6 1324.5,90.1 C1328.32,95.6 1331.62,99.7 1335.9,105.9 C1340.18,112.1 1345.42,119.92 1350.2,127.3 C1354.98,134.68 1359.82,142.57 1364.6,150.2 C1369.38,157.83 1374.13,166.42 1378.9,173.1 C1383.67,179.78 1388.43,185.77 1393.2,190.3 C1397.97,194.83 1403.38,198.48 1407.5,200.3 C1411.62,202.12 1416.17,201.05 1417.9,201.2" fill="none" stroke="#222" stroke-width="1.2" stroke-dasharray="3 2" stroke-linejoin="round" />
<line x1="5.3" y1="363.8" x2="432.6" y2="363.8" stroke="#8a8a8a" stroke-width="2" stroke-linecap="butt"/>
<line x1="5.3" y1="362.8" x2="5.3" y2="654.7" stroke="#8a8a8a" stroke-width="2" stroke-linecap="butt"/>
<line x1="432.6" y1="362.8" x2="432.6" y2="655.7" stroke="#111" stroke-width="2.2" stroke-linecap="butt"/>
<line x1="4.3" y1="654.7" x2="433.6" y2="654.7" stroke="#111" stroke-width="2.2" stroke-linecap="butt"/>
<line x1="54.2" y1="376.42" x2="54.2" y2="621.05" stroke="#111" stroke-width="1.5" stroke-linecap="butt"/>
<line x1="51.2" y1="620.3" x2="54.2" y2="620.3" stroke="#111" stroke-width="1.3" stroke-linecap="butt"/>
<text transform="translate(47.2 623.5) scale(0.93 1)" x="0" y="0" font-size="9" text-anchor="end" fill="#585858">0</text>
<line x1="51.2" y1="585.46" x2="54.2" y2="585.46" stroke="#111" stroke-width="1.3" stroke-linecap="butt"/>
<text transform="translate(47.2 588.66) scale(0.93 1)" x="0" y="0" font-size="9" text-anchor="end" fill="#585858">0.05</text>
<line x1="51.2" y1="550.62" x2="54.2" y2="550.62" stroke="#111" stroke-width="1.3" stroke-linecap="butt"/>
<text transform="translate(47.2 553.82) scale(0.93 1)" x="0" y="0" font-size="9" text-anchor="end" fill="#585858">0.1</text>
<line x1="51.2" y1="515.78" x2="54.2" y2="515.78" stroke="#111" stroke-width="1.3" stroke-linecap="butt"/>
<text transform="translate(47.2 518.98) scale(0.93 1)" x="0" y="0" font-size="9" text-anchor="end" fill="#585858">0.15</text>
<line x1="51.2" y1="480.94" x2="54.2" y2="480.94" stroke="#111" stroke-width="1.3" stroke-linecap="butt"/>
<text transform="translate(47.2 484.14) scale(0.93 1)" x="0" y="0" font-size="9" text-anchor="end" fill="#585858">0.2</text>
<line x1="51.2" y1="446.1" x2="54.2" y2="446.1" stroke="#111" stroke-width="1.3" stroke-linecap="butt"/>
<text transform="translate(47.2 449.3) scale(0.93 1)" x="0" y="0" font-size="9" text-anchor="end" fill="#585858">0.25</text>
<line x1="51.2" y1="411.26" x2="54.2" y2="411.26" stroke="#111" stroke-width="1.3" stroke-linecap="butt"/>
<text transform="translate(47.2 414.46) scale(0.93 1)" x="0" y="0" font-size="9" text-anchor="end" fill="#585858">0.3</text>
<line x1="51.2" y1="376.42" x2="54.2" y2="376.42" stroke="#111" stroke-width="1.3" stroke-linecap="butt"/>
<text transform="translate(47.2 379.62) scale(0.93 1)" x="0" y="0" font-size="9" text-anchor="end" fill="#585858">0.35</text>
<line x1="87.46" y1="620.3" x2="87.46" y2="623.3" stroke="#111" stroke-width="1.3" stroke-linecap="butt"/>
<text transform="translate(87.46 633.7) scale(0.93 1)" x="0" y="0" font-size="9" text-anchor="middle" fill="#585858">1690</text>
<line x1="153.99" y1="620.3" x2="153.99" y2="623.3" stroke="#111" stroke-width="1.3" stroke-linecap="butt"/>
<text transform="translate(153.99 633.7) scale(0.93 1)" x="0" y="0" font-size="9" text-anchor="middle" fill="#585858">1670</text>
<line x1="220.52" y1="620.3" x2="220.52" y2="623.3" stroke="#111" stroke-width="1.3" stroke-linecap="butt"/>
<text transform="translate(220.52 633.7) scale(0.93 1)" x="0" y="0" font-size="9" text-anchor="middle" fill="#585858">1650</text>
<line x1="287.05" y1="620.3" x2="287.05" y2="623.3" stroke="#111" stroke-width="1.3" stroke-linecap="butt"/>
<text transform="translate(287.05 633.7) scale(0.93 1)" x="0" y="0" font-size="9" text-anchor="middle" fill="#585858">1630</text>
<line x1="353.57" y1="620.3" x2="353.57" y2="623.3" stroke="#111" stroke-width="1.3" stroke-linecap="butt"/>
<text transform="translate(353.57 633.7) scale(0.93 1)" x="0" y="0" font-size="9" text-anchor="middle" fill="#585858">1610</text>
<line x1="420.1" y1="620.3" x2="420.1" y2="623.3" stroke="#111" stroke-width="1.3" stroke-linecap="butt"/>
<text transform="translate(420.1 633.7) scale(0.93 1)" x="0" y="0" font-size="9" text-anchor="middle" fill="#585858">1590</text>
<line x1="420.1" y1="620.3" x2="420.1" y2="623.3" stroke="#111" stroke-width="1.3" stroke-linecap="butt"/>
<text x="19.4" y="492.6" font-size="13.75" text-anchor="middle" font-weight="bold" fill="#111" transform="rotate(-90 19.4 492.6)" >Absorbance (AU)</text>
<text x="237.2" y="650" font-size="13" font-weight="bold" text-anchor="middle" fill="#111">Wavenumber (cm<tspan font-size="8.1" dy="-5">-1</tspan><tspan dy="5">)</tspan></text>
<text transform="translate(12.2 648.1) scale(0.93 1)" x="0" y="0" font-size="36.7" font-weight="bold" fill="#000">D</text>
<text transform="translate(60 385.8) scale(1 1.06)" x="0" y="0" font-size="18.4" font-weight="bold" fill="#000">Grain</text>
<line x1="54.2" y1="618.8" x2="420.1" y2="618.8" stroke="#c01030" stroke-width="2.2" stroke-linecap="butt"/>
<line x1="54.2" y1="617.1" x2="420.1" y2="617.1" stroke="#333" stroke-width="1.2" stroke-linecap="butt"/>
<path d="M54.2,615.93 L55.86,615.66 L57.53,615.36 L59.19,615.03 L60.85,614.68 L62.52,614.3 L64.18,613.89 L65.84,613.46 L67.51,612.98 L69.17,612.48 L70.83,611.94 L72.5,611.38 L74.16,610.78 L75.82,610.17 L77.48,609.54 L79.15,608.91 L80.81,608.28 L82.47,607.69 L84.14,607.13 L85.8,606.64 L87.46,606.23 L89.13,605.92 L90.79,605.73 L92.45,605.67 L94.12,605.73 L95.78,605.92 L97.44,606.23 L99.11,606.64 L100.77,607.13 L102.43,607.69 L104.1,608.28 L105.76,608.91 L107.42,609.54 L109.09,610.17 L110.75,610.78 L112.41,611.38 L114.07,611.94 L115.74,612.48 L117.4,612.98 L119.06,613.46 L120.73,613.89 L122.39,614.3 L124.05,614.68 L125.72,615.03 L127.38,615.36 L129.04,615.66 L130.71,615.93 L132.37,616.19 L134.03,616.43 L135.7,616.65 L137.36,616.85 L139.02,617.04 L140.69,617.21 L142.35,617.37 L144.01,617.52 L145.68,617.66 L147.34,617.79 L149,617.92 L150.66,618.03 L152.33,618.14 L153.99,618.23 L155.65,618.33 L157.32,618.41 L158.98,618.5 L160.64,618.57 L162.31,618.64 L163.97,618.71 L165.63,618.78 L167.3,618.84 L168.96,618.89 L170.62,618.95 L172.29,619 L173.95,619.05 L175.61,619.09 L177.28,619.13 L178.94,619.18 L180.6,619.21 L182.27,619.25 L183.93,619.29 L185.59,619.32 L187.25,619.35 L188.92,619.38 L190.58,619.41 L192.24,619.44 L193.91,619.47 L195.57,619.49 L197.23,619.51 L198.9,619.54 L200.56,619.56 L202.22,619.58 L203.89,619.6 L205.55,619.62 L207.21,619.64 L208.88,619.66 L210.54,619.67 L212.2,619.69 L213.87,619.71 L215.53,619.72 L217.19,619.74 L218.86,619.75 L220.52,619.77 L222.18,619.78 L223.84,619.79 L225.51,619.8 L227.17,619.81 L228.83,619.83 L230.5,619.84 L232.16,619.85 L233.82,619.86 L235.49,619.87 L237.15,619.88 L238.81,619.89 L240.48,619.9 L242.14,619.9 L243.8,619.91 L245.47,619.92 L247.13,619.93 L248.79,619.94 L250.46,619.94 L252.12,619.95 L253.78,619.96 L255.44,619.97 L257.11,619.97 L258.77,619.98 L260.43,619.98 L262.1,619.99 L263.76,620 L265.42,620 L267.09,620.01 L268.75,620.01 L270.41,620.02 L272.08,620.02 L273.74,620.03 L275.4,620.03 L277.07,620.04 L278.73,620.04 L280.39,620.05 L282.06,620.05 L283.72,620.06 L285.38,620.06 L287.05,620.06 L288.71,620.07 L290.37,620.07 L292.04,620.07 L293.7,620.08 L295.36,620.08 L297.02,620.09 L298.69,620.09 L300.35,620.09 L302.01,620.1 L303.68,620.1 L305.34,620.1 L307,620.1 L308.67,620.11 L310.33,620.11 L311.99,620.11 L313.66,620.12 L315.32,620.12 L316.98,620.12 L318.65,620.12 L320.31,620.13 L321.97,620.13 L323.64,620.13 L325.3,620.13 L326.96,620.14 L328.62,620.14 L330.29,620.14 L331.95,620.14 L333.61,620.15 L335.28,620.15 L336.94,620.15 L338.6,620.15 L340.27,620.15 L341.93,620.16 L343.59,620.16 L345.26,620.16 L346.92,620.16 L348.58,620.16 L350.25,620.16 L351.91,620.17 L353.57,620.17 L355.24,620.17 L356.9,620.17 L358.56,620.17 L360.23,620.17 L361.89,620.18 L363.55,620.18 L365.21,620.18 L366.88,620.18 L368.54,620.18 L370.2,620.18 L371.87,620.18 L373.53,620.19 L375.19,620.19 L376.86,620.19 L378.52,620.19 L380.18,620.19 L381.85,620.19 L383.51,620.19 L385.17,620.19 L386.84,620.2 L388.5,620.2 L390.16,620.2 L391.83,620.2 L393.49,620.2 L395.15,620.2 L396.82,620.2 L398.48,620.2 L400.14,620.2 L401.81,620.21 L403.47,620.21 L405.13,620.21 L406.79,620.21 L408.46,620.21 L410.12,620.21 L411.78,620.21 L413.45,620.21 L415.11,620.21 L416.77,620.21 L418.44,620.21 L420.1,620.22" fill="none" stroke="#222" stroke-width="1.15" stroke-linejoin="round" />
<path d="M54.2,614.51 L55.86,614.27 L57.53,614.01 L59.19,613.73 L60.85,613.44 L62.52,613.13 L64.18,612.8 L65.84,612.45 L67.51,612.07 L69.17,611.68 L70.83,611.25 L72.5,610.8 L74.16,610.32 L75.82,609.8 L77.48,609.25 L79.15,608.67 L80.81,608.04 L82.47,607.37 L84.14,606.66 L85.8,605.89 L87.46,605.08 L89.13,604.22 L90.79,603.3 L92.45,602.33 L94.12,601.31 L95.78,600.23 L97.44,599.1 L99.11,597.92 L100.77,596.7 L102.43,595.44 L104.1,594.17 L105.76,592.89 L107.42,591.62 L109.09,590.38 L110.75,589.2 L112.41,588.11 L114.07,587.12 L115.74,586.28 L117.4,585.6 L119.06,585.12 L120.73,584.83 L122.39,584.77 L124.05,584.92 L125.72,585.29 L127.38,585.85 L129.04,586.6 L130.71,587.5 L132.37,588.53 L134.03,589.66 L135.7,590.87 L137.36,592.12 L139.02,593.4 L140.69,594.68 L142.35,595.95 L144.01,597.19 L145.68,598.4 L147.34,599.56 L149,600.67 L150.66,601.72 L152.33,602.73 L153.99,603.68 L155.65,604.57 L157.32,605.41 L158.98,606.2 L160.64,606.95 L162.31,607.64 L163.97,608.29 L165.63,608.91 L167.3,609.48 L168.96,610.01 L170.62,610.51 L172.29,610.98 L173.95,611.43 L175.61,611.84 L177.28,612.23 L178.94,612.59 L180.6,612.93 L182.27,613.26 L183.93,613.56 L185.59,613.84 L187.25,614.11 L188.92,614.37 L190.58,614.6 L192.24,614.83 L193.91,615.04 L195.57,615.24 L197.23,615.44 L198.9,615.62 L200.56,615.79 L202.22,615.95 L203.89,616.1 L205.55,616.25 L207.21,616.39 L208.88,616.52 L210.54,616.65 L212.2,616.77 L213.87,616.88 L215.53,616.99 L217.19,617.1 L218.86,617.2 L220.52,617.29 L222.18,617.38 L223.84,617.47 L225.51,617.55 L227.17,617.63 L228.83,617.71 L230.5,617.78 L232.16,617.85 L233.82,617.92 L235.49,617.99 L237.15,618.05 L238.81,618.11 L240.48,618.17 L242.14,618.22 L243.8,618.27 L245.47,618.32 L247.13,618.37 L248.79,618.42 L250.46,618.47 L252.12,618.51 L253.78,618.55 L255.44,618.6 L257.11,618.64 L258.77,618.67 L260.43,618.71 L262.1,618.75 L263.76,618.78 L265.42,618.82 L267.09,618.85 L268.75,618.88 L270.41,618.91 L272.08,618.94 L273.74,618.97 L275.4,619 L277.07,619.02 L278.73,619.05 L280.39,619.07 L282.06,619.1 L283.72,619.12 L285.38,619.14 L287.05,619.17 L288.71,619.19 L290.37,619.21 L292.04,619.23 L293.7,619.25 L295.36,619.27 L297.02,619.29 L298.69,619.31 L300.35,619.33 L302.01,619.34 L303.68,619.36 L305.34,619.38 L307,619.39 L308.67,619.41 L310.33,619.42 L311.99,619.44 L313.66,619.45 L315.32,619.47 L316.98,619.48 L318.65,619.49 L320.31,619.51 L321.97,619.52 L323.64,619.53 L325.3,619.55 L326.96,619.56 L328.62,619.57 L330.29,619.58 L331.95,619.59 L333.61,619.6 L335.28,619.61 L336.94,619.62 L338.6,619.63 L340.27,619.64 L341.93,619.65 L343.59,619.66 L345.26,619.67 L346.92,619.68 L348.58,619.69 L350.25,619.7 L351.91,619.71 L353.57,619.72 L355.24,619.72 L356.9,619.73 L358.56,619.74 L360.23,619.75 L361.89,619.75 L363.55,619.76 L365.21,619.77 L366.88,619.78 L368.54,619.78 L370.2,619.79 L371.87,619.8 L373.53,619.8 L375.19,619.81 L376.86,619.82 L378.52,619.82 L380.18,619.83 L381.85,619.83 L383.51,619.84 L385.17,619.85 L386.84,619.85 L388.5,619.86 L390.16,619.86 L391.83,619.87 L393.49,619.87 L395.15,619.88 L396.82,619.88 L398.48,619.89 L400.14,619.89 L401.81,619.9 L403.47,619.9 L405.13,619.91 L406.79,619.91 L408.46,619.92 L410.12,619.92 L411.78,619.92 L413.45,619.93 L415.11,619.93 L416.77,619.94 L418.44,619.94 L420.1,619.95" fill="none" stroke="#222" stroke-width="1.15" stroke-linejoin="round" />
<path d="M54.2,616.24 L55.86,616.11 L57.53,615.98 L59.19,615.84 L60.85,615.7 L62.52,615.55 L64.18,615.39 L65.84,615.22 L67.51,615.05 L69.17,614.86 L70.83,614.67 L72.5,614.47 L74.16,614.26 L75.82,614.04 L77.48,613.8 L79.15,613.55 L80.81,613.29 L82.47,613.02 L84.14,612.72 L85.8,612.42 L87.46,612.09 L89.13,611.75 L90.79,611.38 L92.45,610.99 L94.12,610.58 L95.78,610.15 L97.44,609.69 L99.11,609.2 L100.77,608.68 L102.43,608.12 L104.1,607.53 L105.76,606.91 L107.42,606.24 L109.09,605.53 L110.75,604.78 L112.41,603.97 L114.07,603.12 L115.74,602.21 L117.4,601.25 L119.06,600.23 L120.73,599.15 L122.39,598 L124.05,596.8 L125.72,595.53 L127.38,594.21 L129.04,592.83 L130.71,591.4 L132.37,589.92 L134.03,588.42 L135.7,586.9 L137.36,585.38 L139.02,583.88 L140.69,582.42 L142.35,581.03 L144.01,579.75 L145.68,578.59 L147.34,577.6 L149,576.79 L150.66,576.19 L152.33,575.83 L153.99,575.7 L155.65,575.83 L157.32,576.19 L158.98,576.79 L160.64,577.6 L162.31,578.59 L163.97,579.75 L165.63,581.03 L167.3,582.42 L168.96,583.88 L170.62,585.38 L172.29,586.9 L173.95,588.42 L175.61,589.92 L177.28,591.4 L178.94,592.83 L180.6,594.21 L182.27,595.53 L183.93,596.8 L185.59,598 L187.25,599.15 L188.92,600.23 L190.58,601.25 L192.24,602.21 L193.91,603.12 L195.57,603.97 L197.23,604.78 L198.9,605.53 L200.56,606.24 L202.22,606.91 L203.89,607.53 L205.55,608.12 L207.21,608.68 L208.88,609.2 L210.54,609.69 L212.2,610.15 L213.87,610.58 L215.53,610.99 L217.19,611.38 L218.86,611.75 L220.52,612.09 L222.18,612.42 L223.84,612.72 L225.51,613.02 L227.17,613.29 L228.83,613.55 L230.5,613.8 L232.16,614.04 L233.82,614.26 L235.49,614.47 L237.15,614.67 L238.81,614.86 L240.48,615.05 L242.14,615.22 L243.8,615.39 L245.47,615.55 L247.13,615.7 L248.79,615.84 L250.46,615.98 L252.12,616.11 L253.78,616.24 L255.44,616.36 L257.11,616.47 L258.77,616.58 L260.43,616.69 L262.1,616.79 L263.76,616.89 L265.42,616.98 L267.09,617.07 L268.75,617.16 L270.41,617.24 L272.08,617.32 L273.74,617.4 L275.4,617.47 L277.07,617.54 L278.73,617.61 L280.39,617.68 L282.06,617.74 L283.72,617.8 L285.38,617.86 L287.05,617.92 L288.71,617.97 L290.37,618.03 L292.04,618.08 L293.7,618.13 L295.36,618.18 L297.02,618.22 L298.69,618.27 L300.35,618.31 L302.01,618.36 L303.68,618.4 L305.34,618.44 L307,618.48 L308.67,618.51 L310.33,618.55 L311.99,618.58 L313.66,618.62 L315.32,618.65 L316.98,618.68 L318.65,618.72 L320.31,618.75 L321.97,618.78 L323.64,618.8 L325.3,618.83 L326.96,618.86 L328.62,618.89 L330.29,618.91 L331.95,618.94 L333.61,618.96 L335.28,618.98 L336.94,619.01 L338.6,619.03 L340.27,619.05 L341.93,619.07 L343.59,619.09 L345.26,619.12 L346.92,619.13 L348.58,619.15 L350.25,619.17 L351.91,619.19 L353.57,619.21 L355.24,619.23 L356.9,619.24 L358.56,619.26 L360.23,619.28 L361.89,619.29 L363.55,619.31 L365.21,619.32 L366.88,619.34 L368.54,619.35 L370.2,619.37 L371.87,619.38 L373.53,619.39 L375.19,619.41 L376.86,619.42 L378.52,619.43 L380.18,619.45 L381.85,619.46 L383.51,619.47 L385.17,619.48 L386.84,619.49 L388.5,619.5 L390.16,619.52 L391.83,619.53 L393.49,619.54 L395.15,619.55 L396.82,619.56 L398.48,619.57 L400.14,619.58 L401.81,619.59 L403.47,619.6 L405.13,619.6 L406.79,619.61 L408.46,619.62 L410.12,619.63 L411.78,619.64 L413.45,619.65 L415.11,619.66 L416.77,619.66 L418.44,619.67 L420.1,619.68" fill="none" stroke="#222" stroke-width="1.15" stroke-linejoin="round" />
<path d="M54.2,616.91 L55.86,616.83 L57.53,616.74 L59.19,616.65 L60.85,616.56 L62.52,616.46 L64.18,616.37 L65.84,616.26 L67.51,616.16 L69.17,616.04 L70.83,615.93 L72.5,615.81 L74.16,615.68 L75.82,615.55 L77.48,615.42 L79.15,615.28 L80.81,615.13 L82.47,614.98 L84.14,614.82 L85.8,614.65 L87.46,614.47 L89.13,614.29 L90.79,614.1 L92.45,613.9 L94.12,613.69 L95.78,613.47 L97.44,613.24 L99.11,613 L100.77,612.74 L102.43,612.47 L104.1,612.19 L105.76,611.9 L107.42,611.59 L109.09,611.26 L110.75,610.92 L112.41,610.55 L114.07,610.17 L115.74,609.76 L117.4,609.34 L119.06,608.88 L120.73,608.4 L122.39,607.9 L124.05,607.36 L125.72,606.79 L127.38,606.18 L129.04,605.54 L130.71,604.86 L132.37,604.14 L134.03,603.37 L135.7,602.55 L137.36,601.67 L139.02,600.75 L140.69,599.76 L142.35,598.71 L144.01,597.59 L145.68,596.41 L147.34,595.15 L149,593.81 L150.66,592.39 L152.33,590.88 L153.99,589.29 L155.65,587.62 L157.32,585.86 L158.98,584.02 L160.64,582.1 L162.31,580.11 L163.97,578.06 L165.63,575.97 L167.3,573.85 L168.96,571.74 L170.62,569.65 L172.29,567.62 L173.95,565.7 L175.61,563.91 L177.28,562.3 L178.94,560.92 L180.6,559.79 L182.27,558.96 L183.93,558.46 L185.59,558.28 L187.25,558.46 L188.92,558.96 L190.58,559.79 L192.24,560.92 L193.91,562.3 L195.57,563.91 L197.23,565.7 L198.9,567.62 L200.56,569.65 L202.22,571.74 L203.89,573.85 L205.55,575.97 L207.21,578.06 L208.88,580.11 L210.54,582.1 L212.2,584.02 L213.87,585.86 L215.53,587.62 L217.19,589.29 L218.86,590.88 L220.52,592.39 L222.18,593.81 L223.84,595.15 L225.51,596.41 L227.17,597.59 L228.83,598.71 L230.5,599.76 L232.16,600.75 L233.82,601.67 L235.49,602.55 L237.15,603.37 L238.81,604.14 L240.48,604.86 L242.14,605.54 L243.8,606.18 L245.47,606.79 L247.13,607.36 L248.79,607.9 L250.46,608.4 L252.12,608.88 L253.78,609.34 L255.44,609.76 L257.11,610.17 L258.77,610.55 L260.43,610.92 L262.1,611.26 L263.76,611.59 L265.42,611.9 L267.09,612.19 L268.75,612.47 L270.41,612.74 L272.08,613 L273.74,613.24 L275.4,613.47 L277.07,613.69 L278.73,613.9 L280.39,614.1 L282.06,614.29 L283.72,614.47 L285.38,614.65 L287.05,614.82 L288.71,614.98 L290.37,615.13 L292.04,615.28 L293.7,615.42 L295.36,615.55 L297.02,615.68 L298.69,615.81 L300.35,615.93 L302.01,616.04 L303.68,616.16 L305.34,616.26 L307,616.37 L308.67,616.46 L310.33,616.56 L311.99,616.65 L313.66,616.74 L315.32,616.83 L316.98,616.91 L318.65,616.99 L320.31,617.07 L321.97,617.14 L323.64,617.21 L325.3,617.28 L326.96,617.35 L328.62,617.41 L330.29,617.48 L331.95,617.54 L333.61,617.6 L335.28,617.65 L336.94,617.71 L338.6,617.76 L340.27,617.82 L341.93,617.87 L343.59,617.91 L345.26,617.96 L346.92,618.01 L348.58,618.05 L350.25,618.1 L351.91,618.14 L353.57,618.18 L355.24,618.22 L356.9,618.26 L358.56,618.3 L360.23,618.33 L361.89,618.37 L363.55,618.4 L365.21,618.44 L366.88,618.47 L368.54,618.5 L370.2,618.53 L371.87,618.57 L373.53,618.59 L375.19,618.62 L376.86,618.65 L378.52,618.68 L380.18,618.71 L381.85,618.73 L383.51,618.76 L385.17,618.78 L386.84,618.81 L388.5,618.83 L390.16,618.85 L391.83,618.88 L393.49,618.9 L395.15,618.92 L396.82,618.94 L398.48,618.96 L400.14,618.98 L401.81,619 L403.47,619.02 L405.13,619.04 L406.79,619.06 L408.46,619.08 L410.12,619.1 L411.78,619.11 L413.45,619.13 L415.11,619.15 L416.77,619.16 L418.44,619.18 L420.1,619.19" fill="none" stroke="#222" stroke-width="1.15" stroke-linejoin="round" />
<path d="M54.2,617.58 L55.86,617.52 L57.53,617.47 L59.19,617.41 L60.85,617.35 L62.52,617.29 L64.18,617.22 L65.84,617.16 L67.51,617.09 L69.17,617.02 L70.83,616.95 L72.5,616.87 L74.16,616.8 L75.82,616.72 L77.48,616.63 L79.15,616.55 L80.81,616.46 L82.47,616.37 L84.14,616.27 L85.8,616.18 L87.46,616.08 L89.13,615.97 L90.79,615.86 L92.45,615.75 L94.12,615.63 L95.78,615.51 L97.44,615.38 L99.11,615.25 L100.77,615.11 L102.43,614.97 L104.1,614.82 L105.76,614.67 L107.42,614.51 L109.09,614.34 L110.75,614.17 L112.41,613.99 L114.07,613.8 L115.74,613.6 L117.4,613.39 L119.06,613.18 L120.73,612.95 L122.39,612.72 L124.05,612.47 L125.72,612.21 L127.38,611.94 L129.04,611.65 L130.71,611.36 L132.37,611.04 L134.03,610.71 L135.7,610.37 L137.36,610 L139.02,609.62 L140.69,609.22 L142.35,608.79 L144.01,608.34 L145.68,607.87 L147.34,607.37 L149,606.85 L150.66,606.29 L152.33,605.7 L153.99,605.08 L155.65,604.42 L157.32,603.72 L158.98,602.98 L160.64,602.2 L162.31,601.37 L163.97,600.49 L165.63,599.55 L167.3,598.56 L168.96,597.51 L170.62,596.39 L172.29,595.21 L173.95,593.96 L175.61,592.63 L177.28,591.23 L178.94,589.74 L180.6,588.18 L182.27,586.53 L183.93,584.8 L185.59,582.99 L187.25,581.11 L188.92,579.14 L190.58,577.12 L192.24,575.03 L193.91,572.91 L195.57,570.77 L197.23,568.62 L198.9,566.5 L200.56,564.43 L202.22,562.46 L203.89,560.6 L205.55,558.92 L207.21,557.43 L208.88,556.18 L210.54,555.2 L212.2,554.52 L213.87,554.16 L215.53,554.13 L217.19,554.43 L218.86,555.04 L220.52,555.96 L222.18,557.16 L223.84,558.6 L225.51,560.25 L227.17,562.08 L228.83,564.03 L230.5,566.08 L232.16,568.19 L233.82,570.34 L235.49,572.48 L237.15,574.61 L238.81,576.7 L240.48,578.74 L242.14,580.72 L243.8,582.62 L245.47,584.45 L247.13,586.19 L248.79,587.86 L250.46,589.44 L252.12,590.94 L253.78,592.36 L255.44,593.7 L257.11,594.97 L258.77,596.16 L260.43,597.29 L262.1,598.35 L263.76,599.36 L265.42,600.3 L267.09,601.2 L268.75,602.04 L270.41,602.83 L272.08,603.58 L273.74,604.28 L275.4,604.95 L277.07,605.58 L278.73,606.17 L280.39,606.74 L282.06,607.27 L283.72,607.77 L285.38,608.25 L287.05,608.7 L288.71,609.13 L290.37,609.54 L292.04,609.93 L293.7,610.3 L295.36,610.65 L297.02,610.98 L298.69,611.29 L300.35,611.6 L302.01,611.88 L303.68,612.16 L305.34,612.42 L307,612.67 L308.67,612.91 L310.33,613.13 L311.99,613.35 L313.66,613.56 L315.32,613.76 L316.98,613.95 L318.65,614.13 L320.31,614.31 L321.97,614.48 L323.64,614.64 L325.3,614.79 L326.96,614.94 L328.62,615.09 L330.29,615.22 L331.95,615.36 L333.61,615.48 L335.28,615.61 L336.94,615.72 L338.6,615.84 L340.27,615.95 L341.93,616.05 L343.59,616.16 L345.26,616.26 L346.92,616.35 L348.58,616.44 L350.25,616.53 L351.91,616.62 L353.57,616.7 L355.24,616.78 L356.9,616.86 L358.56,616.93 L360.23,617.01 L361.89,617.08 L363.55,617.14 L365.21,617.21 L366.88,617.28 L368.54,617.34 L370.2,617.4 L371.87,617.46 L373.53,617.51 L375.19,617.57 L376.86,617.62 L378.52,617.67 L380.18,617.72 L381.85,617.77 L383.51,617.82 L385.17,617.87 L386.84,617.91 L388.5,617.96 L390.16,618 L391.83,618.04 L393.49,618.08 L395.15,618.12 L396.82,618.16 L398.48,618.2 L400.14,618.23 L401.81,618.27 L403.47,618.3 L405.13,618.34 L406.79,618.37 L408.46,618.4 L410.12,618.43 L411.78,618.46 L413.45,618.49 L415.11,618.52 L416.77,618.55 L418.44,618.58 L420.1,618.61" fill="none" stroke="#222" stroke-width="1.15" stroke-linejoin="round" />
<path d="M54.2,617.17 L55.86,617.11 L57.53,617.06 L59.19,617 L60.85,616.94 L62.52,616.88 L64.18,616.82 L65.84,616.76 L67.51,616.7 L69.17,616.63 L70.83,616.56 L72.5,616.49 L74.16,616.42 L75.82,616.35 L77.48,616.27 L79.15,616.19 L80.81,616.11 L82.47,616.03 L84.14,615.95 L85.8,615.86 L87.46,615.77 L89.13,615.68 L90.79,615.58 L92.45,615.48 L94.12,615.38 L95.78,615.28 L97.44,615.17 L99.11,615.06 L100.77,614.94 L102.43,614.82 L104.1,614.7 L105.76,614.58 L107.42,614.45 L109.09,614.31 L110.75,614.17 L112.41,614.03 L114.07,613.88 L115.74,613.72 L117.4,613.56 L119.06,613.4 L120.73,613.22 L122.39,613.04 L124.05,612.86 L125.72,612.67 L127.38,612.47 L129.04,612.26 L130.71,612.05 L132.37,611.82 L134.03,611.59 L135.7,611.35 L137.36,611.1 L139.02,610.84 L140.69,610.57 L142.35,610.28 L144.01,609.99 L145.68,609.68 L147.34,609.36 L149,609.02 L150.66,608.67 L152.33,608.3 L153.99,607.92 L155.65,607.52 L157.32,607.1 L158.98,606.67 L160.64,606.21 L162.31,605.73 L163.97,605.22 L165.63,604.69 L167.3,604.14 L168.96,603.56 L170.62,602.95 L172.29,602.3 L173.95,601.63 L175.61,600.92 L177.28,600.17 L178.94,599.39 L180.6,598.56 L182.27,597.69 L183.93,596.77 L185.59,595.8 L187.25,594.78 L188.92,593.71 L190.58,592.57 L192.24,591.38 L193.91,590.12 L195.57,588.79 L197.23,587.4 L198.9,585.93 L200.56,584.38 L202.22,582.75 L203.89,581.05 L205.55,579.26 L207.21,577.38 L208.88,575.43 L210.54,573.39 L212.2,571.27 L213.87,569.07 L215.53,566.8 L217.19,564.47 L218.86,562.09 L220.52,559.67 L222.18,557.23 L223.84,554.79 L225.51,552.37 L227.17,550 L228.83,547.71 L230.5,545.52 L232.16,543.49 L233.82,541.63 L235.49,539.99 L237.15,538.59 L238.81,537.47 L240.48,536.65 L242.14,536.15 L243.8,535.99 L245.47,536.15 L247.13,536.65 L248.79,537.47 L250.46,538.59 L252.12,539.99 L253.78,541.63 L255.44,543.49 L257.11,545.52 L258.77,547.71 L260.43,550 L262.1,552.37 L263.76,554.79 L265.42,557.23 L267.09,559.67 L268.75,562.09 L270.41,564.47 L272.08,566.8 L273.74,569.07 L275.4,571.27 L277.07,573.39 L278.73,575.43 L280.39,577.38 L282.06,579.26 L283.72,581.05 L285.38,582.75 L287.05,584.38 L288.71,585.93 L290.37,587.4 L292.04,588.79 L293.7,590.12 L295.36,591.38 L297.02,592.57 L298.69,593.71 L300.35,594.78 L302.01,595.8 L303.68,596.77 L305.34,597.69 L307,598.56 L308.67,599.39 L310.33,600.17 L311.99,600.92 L313.66,601.63 L315.32,602.3 L316.98,602.95 L318.65,603.56 L320.31,604.14 L321.97,604.69 L323.64,605.22 L325.3,605.73 L326.96,606.21 L328.62,606.67 L330.29,607.1 L331.95,607.52 L333.61,607.92 L335.28,608.3 L336.94,608.67 L338.6,609.02 L340.27,609.36 L341.93,609.68 L343.59,609.99 L345.26,610.28 L346.92,610.57 L348.58,610.84 L350.25,611.1 L351.91,611.35 L353.57,611.59 L355.24,611.82 L356.9,612.05 L358.56,612.26 L360.23,612.47 L361.89,612.67 L363.55,612.86 L365.21,613.04 L366.88,613.22 L368.54,613.4 L370.2,613.56 L371.87,613.72 L373.53,613.88 L375.19,614.03 L376.86,614.17 L378.52,614.31 L380.18,614.45 L381.85,614.58 L383.51,614.7 L385.17,614.82 L386.84,614.94 L388.5,615.06 L390.16,615.17 L391.83,615.28 L393.49,615.38 L395.15,615.48 L396.82,615.58 L398.48,615.68 L400.14,615.77 L401.81,615.86 L403.47,615.95 L405.13,616.03 L406.79,616.11 L408.46,616.19 L410.12,616.27 L411.78,616.35 L413.45,616.42 L415.11,616.49 L416.77,616.56 L418.44,616.63 L420.1,616.7" fill="none" stroke="#4646d0" stroke-width="1.15" stroke-linejoin="round" />
<path d="M54.2,617.91 L55.86,617.88 L57.53,617.84 L59.19,617.81 L60.85,617.77 L62.52,617.73 L64.18,617.69 L65.84,617.65 L67.51,617.61 L69.17,617.57 L70.83,617.53 L72.5,617.49 L74.16,617.44 L75.82,617.4 L77.48,617.35 L79.15,617.3 L80.81,617.25 L82.47,617.2 L84.14,617.15 L85.8,617.1 L87.46,617.04 L89.13,616.99 L90.79,616.93 L92.45,616.87 L94.12,616.82 L95.78,616.75 L97.44,616.69 L99.11,616.63 L100.77,616.56 L102.43,616.49 L104.1,616.42 L105.76,616.35 L107.42,616.28 L109.09,616.2 L110.75,616.13 L112.41,616.05 L114.07,615.96 L115.74,615.88 L117.4,615.79 L119.06,615.7 L120.73,615.61 L122.39,615.52 L124.05,615.42 L125.72,615.32 L127.38,615.21 L129.04,615.11 L130.71,615 L132.37,614.88 L134.03,614.77 L135.7,614.65 L137.36,614.52 L139.02,614.39 L140.69,614.26 L142.35,614.12 L144.01,613.98 L145.68,613.83 L147.34,613.68 L149,613.52 L150.66,613.36 L152.33,613.19 L153.99,613.02 L155.65,612.84 L157.32,612.65 L158.98,612.46 L160.64,612.26 L162.31,612.05 L163.97,611.83 L165.63,611.61 L167.3,611.38 L168.96,611.13 L170.62,610.88 L172.29,610.62 L173.95,610.35 L175.61,610.07 L177.28,609.77 L178.94,609.46 L180.6,609.15 L182.27,608.81 L183.93,608.47 L185.59,608.1 L187.25,607.73 L188.92,607.33 L190.58,606.92 L192.24,606.49 L193.91,606.04 L195.57,605.57 L197.23,605.08 L198.9,604.57 L200.56,604.03 L202.22,603.47 L203.89,602.88 L205.55,602.26 L207.21,601.61 L208.88,600.93 L210.54,600.22 L212.2,599.48 L213.87,598.69 L215.53,597.87 L217.19,597.01 L218.86,596.11 L220.52,595.16 L222.18,594.17 L223.84,593.12 L225.51,592.03 L227.17,590.88 L228.83,589.68 L230.5,588.43 L232.16,587.11 L233.82,585.74 L235.49,584.31 L237.15,582.81 L238.81,581.26 L240.48,579.65 L242.14,577.98 L243.8,576.25 L245.47,574.47 L247.13,572.65 L248.79,570.78 L250.46,568.89 L252.12,566.97 L253.78,565.04 L255.44,563.11 L257.11,561.2 L258.77,559.33 L260.43,557.51 L262.1,555.77 L263.76,554.13 L265.42,552.62 L267.09,551.24 L268.75,550.04 L270.41,549.02 L272.08,548.21 L273.74,547.62 L275.4,547.26 L277.07,547.14 L278.73,547.26 L280.39,547.62 L282.06,548.21 L283.72,549.02 L285.38,550.04 L287.05,551.24 L288.71,552.62 L290.37,554.13 L292.04,555.77 L293.7,557.51 L295.36,559.33 L297.02,561.2 L298.69,563.11 L300.35,565.04 L302.01,566.97 L303.68,568.89 L305.34,570.78 L307,572.65 L308.67,574.47 L310.33,576.25 L311.99,577.98 L313.66,579.65 L315.32,581.26 L316.98,582.81 L318.65,584.31 L320.31,585.74 L321.97,587.11 L323.64,588.43 L325.3,589.68 L326.96,590.88 L328.62,592.03 L330.29,593.12 L331.95,594.17 L333.61,595.16 L335.28,596.11 L336.94,597.01 L338.6,597.87 L340.27,598.69 L341.93,599.48 L343.59,600.22 L345.26,600.93 L346.92,601.61 L348.58,602.26 L350.25,602.88 L351.91,603.47 L353.57,604.03 L355.24,604.57 L356.9,605.08 L358.56,605.57 L360.23,606.04 L361.89,606.49 L363.55,606.92 L365.21,607.33 L366.88,607.73 L368.54,608.1 L370.2,608.47 L371.87,608.81 L373.53,609.15 L375.19,609.46 L376.86,609.77 L378.52,610.07 L380.18,610.35 L381.85,610.62 L383.51,610.88 L385.17,611.13 L386.84,611.38 L388.5,611.61 L390.16,611.83 L391.83,612.05 L393.49,612.26 L395.15,612.46 L396.82,612.65 L398.48,612.84 L400.14,613.02 L401.81,613.19 L403.47,613.36 L405.13,613.52 L406.79,613.68 L408.46,613.83 L410.12,613.98 L411.78,614.12 L413.45,614.26 L415.11,614.39 L416.77,614.52 L418.44,614.65 L420.1,614.77" fill="none" stroke="#d8589c" stroke-width="1.15" stroke-linejoin="round" />
<path d="M54.2,618.87 L55.86,618.85 L57.53,618.83 L59.19,618.81 L60.85,618.79 L62.52,618.77 L64.18,618.75 L65.84,618.73 L67.51,618.71 L69.17,618.69 L70.83,618.67 L72.5,618.65 L74.16,618.63 L75.82,618.6 L77.48,618.58 L79.15,618.56 L80.81,618.53 L82.47,618.51 L84.14,618.48 L85.8,618.46 L87.46,618.43 L89.13,618.4 L90.79,618.37 L92.45,618.35 L94.12,618.32 L95.78,618.29 L97.44,618.26 L99.11,618.23 L100.77,618.19 L102.43,618.16 L104.1,618.13 L105.76,618.1 L107.42,618.06 L109.09,618.03 L110.75,617.99 L112.41,617.95 L114.07,617.91 L115.74,617.88 L117.4,617.84 L119.06,617.8 L120.73,617.75 L122.39,617.71 L124.05,617.67 L125.72,617.62 L127.38,617.58 L129.04,617.53 L130.71,617.48 L132.37,617.43 L134.03,617.38 L135.7,617.33 L137.36,617.27 L139.02,617.22 L140.69,617.16 L142.35,617.1 L144.01,617.04 L145.68,616.98 L147.34,616.92 L149,616.85 L150.66,616.79 L152.33,616.72 L153.99,616.65 L155.65,616.58 L157.32,616.5 L158.98,616.42 L160.64,616.34 L162.31,616.26 L163.97,616.18 L165.63,616.09 L167.3,616 L168.96,615.91 L170.62,615.81 L172.29,615.71 L173.95,615.61 L175.61,615.51 L177.28,615.4 L178.94,615.29 L180.6,615.17 L182.27,615.05 L183.93,614.93 L185.59,614.8 L187.25,614.67 L188.92,614.53 L190.58,614.39 L192.24,614.24 L193.91,614.09 L195.57,613.93 L197.23,613.77 L198.9,613.6 L200.56,613.43 L202.22,613.24 L203.89,613.05 L205.55,612.86 L207.21,612.65 L208.88,612.44 L210.54,612.22 L212.2,611.99 L213.87,611.75 L215.53,611.5 L217.19,611.24 L218.86,610.97 L220.52,610.69 L222.18,610.4 L223.84,610.09 L225.51,609.77 L227.17,609.44 L228.83,609.09 L230.5,608.73 L232.16,608.35 L233.82,607.96 L235.49,607.54 L237.15,607.11 L238.81,606.66 L240.48,606.19 L242.14,605.69 L243.8,605.17 L245.47,604.63 L247.13,604.06 L248.79,603.47 L250.46,602.85 L252.12,602.2 L253.78,601.52 L255.44,600.8 L257.11,600.06 L258.77,599.28 L260.43,598.46 L262.1,597.61 L263.76,596.72 L265.42,595.79 L267.09,594.83 L268.75,593.82 L270.41,592.78 L272.08,591.69 L273.74,590.57 L275.4,589.4 L277.07,588.2 L278.73,586.97 L280.39,585.71 L282.06,584.42 L283.72,583.11 L285.38,581.79 L287.05,580.45 L288.71,579.12 L290.37,577.8 L292.04,576.5 L293.7,575.24 L295.36,574.02 L297.02,572.86 L298.69,571.78 L300.35,570.78 L302.01,569.89 L303.68,569.11 L305.34,568.47 L307,567.96 L308.67,567.6 L310.33,567.39 L311.99,567.35 L313.66,567.46 L315.32,567.73 L316.98,568.15 L318.65,568.71 L320.31,569.41 L321.97,570.23 L323.64,571.17 L325.3,572.2 L326.96,573.32 L328.62,574.5 L330.29,575.74 L331.95,577.02 L333.61,578.33 L335.28,579.66 L336.94,580.99 L338.6,582.32 L340.27,583.64 L341.93,584.94 L343.59,586.22 L345.26,587.47 L346.92,588.69 L348.58,589.87 L350.25,591.02 L351.91,592.13 L353.57,593.2 L355.24,594.23 L356.9,595.22 L358.56,596.17 L360.23,597.08 L361.89,597.96 L363.55,598.79 L365.21,599.59 L366.88,600.36 L368.54,601.09 L370.2,601.79 L371.87,602.46 L373.53,603.1 L375.19,603.71 L376.86,604.29 L378.52,604.85 L380.18,605.38 L381.85,605.89 L383.51,606.38 L385.17,606.84 L386.84,607.29 L388.5,607.71 L390.16,608.12 L391.83,608.51 L393.49,608.88 L395.15,609.23 L396.82,609.58 L398.48,609.9 L400.14,610.22 L401.81,610.52 L403.47,610.81 L405.13,611.08 L406.79,611.35 L408.46,611.6 L410.12,611.85 L411.78,612.08 L413.45,612.31 L415.11,612.53 L416.77,612.74 L418.44,612.94 L420.1,613.13" fill="none" stroke="#d84646" stroke-width="1.15" stroke-linejoin="round" />
<path d="M54.2,619.02 L55.86,619.01 L57.53,618.99 L59.19,618.98 L60.85,618.96 L62.52,618.95 L64.18,618.93 L65.84,618.92 L67.51,618.9 L69.17,618.89 L70.83,618.87 L72.5,618.85 L74.16,618.84 L75.82,618.82 L77.48,618.8 L79.15,618.78 L80.81,618.77 L82.47,618.75 L84.14,618.73 L85.8,618.71 L87.46,618.69 L89.13,618.67 L90.79,618.65 L92.45,618.63 L94.12,618.61 L95.78,618.59 L97.44,618.57 L99.11,618.54 L100.77,618.52 L102.43,618.5 L104.1,618.47 L105.76,618.45 L107.42,618.43 L109.09,618.4 L110.75,618.38 L112.41,618.35 L114.07,618.32 L115.74,618.3 L117.4,618.27 L119.06,618.24 L120.73,618.21 L122.39,618.18 L124.05,618.15 L125.72,618.12 L127.38,618.09 L129.04,618.06 L130.71,618.03 L132.37,617.99 L134.03,617.96 L135.7,617.93 L137.36,617.89 L139.02,617.85 L140.69,617.82 L142.35,617.78 L144.01,617.74 L145.68,617.7 L147.34,617.66 L149,617.62 L150.66,617.58 L152.33,617.54 L153.99,617.49 L155.65,617.45 L157.32,617.4 L158.98,617.35 L160.64,617.3 L162.31,617.25 L163.97,617.2 L165.63,617.15 L167.3,617.1 L168.96,617.04 L170.62,616.99 L172.29,616.93 L173.95,616.87 L175.61,616.81 L177.28,616.75 L178.94,616.68 L180.6,616.62 L182.27,616.55 L183.93,616.48 L185.59,616.41 L187.25,616.34 L188.92,616.26 L190.58,616.18 L192.24,616.1 L193.91,616.02 L195.57,615.94 L197.23,615.85 L198.9,615.76 L200.56,615.67 L202.22,615.58 L203.89,615.48 L205.55,615.38 L207.21,615.28 L208.88,615.17 L210.54,615.07 L212.2,614.95 L213.87,614.84 L215.53,614.72 L217.19,614.6 L218.86,614.47 L220.52,614.34 L222.18,614.2 L223.84,614.06 L225.51,613.92 L227.17,613.77 L228.83,613.62 L230.5,613.46 L232.16,613.29 L233.82,613.12 L235.49,612.94 L237.15,612.76 L238.81,612.57 L240.48,612.38 L242.14,612.17 L243.8,611.97 L245.47,611.75 L247.13,611.52 L248.79,611.29 L250.46,611.05 L252.12,610.8 L253.78,610.53 L255.44,610.26 L257.11,609.98 L258.77,609.69 L260.43,609.39 L262.1,609.07 L263.76,608.75 L265.42,608.41 L267.09,608.05 L268.75,607.69 L270.41,607.3 L272.08,606.91 L273.74,606.49 L275.4,606.06 L277.07,605.62 L278.73,605.15 L280.39,604.67 L282.06,604.17 L283.72,603.64 L285.38,603.1 L287.05,602.54 L288.71,601.95 L290.37,601.34 L292.04,600.7 L293.7,600.05 L295.36,599.36 L297.02,598.66 L298.69,597.92 L300.35,597.17 L302.01,596.38 L303.68,595.57 L305.34,594.74 L307,593.88 L308.67,592.99 L310.33,592.09 L311.99,591.16 L313.66,590.21 L315.32,589.25 L316.98,588.27 L318.65,587.28 L320.31,586.28 L321.97,585.28 L323.64,584.28 L325.3,583.29 L326.96,582.31 L328.62,581.35 L330.29,580.41 L331.95,579.52 L333.61,578.66 L335.28,577.85 L336.94,577.1 L338.6,576.42 L340.27,575.81 L341.93,575.28 L343.59,574.84 L345.26,574.49 L346.92,574.24 L348.58,574.08 L350.25,574.03 L351.91,574.08 L353.57,574.24 L355.24,574.49 L356.9,574.84 L358.56,575.28 L360.23,575.81 L361.89,576.42 L363.55,577.1 L365.21,577.85 L366.88,578.66 L368.54,579.52 L370.2,580.41 L371.87,581.35 L373.53,582.31 L375.19,583.29 L376.86,584.28 L378.52,585.28 L380.18,586.28 L381.85,587.28 L383.51,588.27 L385.17,589.25 L386.84,590.21 L388.5,591.16 L390.16,592.09 L391.83,592.99 L393.49,593.88 L395.15,594.74 L396.82,595.57 L398.48,596.38 L400.14,597.17 L401.81,597.92 L403.47,598.66 L405.13,599.36 L406.79,600.05 L408.46,600.7 L410.12,601.34 L411.78,601.95 L413.45,602.54 L415.11,603.1 L416.77,603.64 L418.44,604.17 L420.1,604.67" fill="none" stroke="#222" stroke-width="1.15" stroke-linejoin="round" />
<path d="M54.2,616.12 L55.86,616.12 L57.53,616.12 L59.19,616.13 L60.85,616.13 L62.52,616.14 L64.18,616.14 L65.84,616.15 L67.51,616.16 L69.17,616.17 L70.83,616.18 L72.5,616.2 L74.16,616.21 L75.82,616.23 L77.48,616.24 L79.15,616.26 L80.81,616.28 L82.47,616.3 L84.14,616.32 L85.8,616.34 L87.46,616.37 L89.13,616.39 L90.79,616.41 L92.45,616.44 L94.12,616.46 L95.78,616.49 L97.44,616.52 L99.11,616.55 L100.77,616.58 L102.43,616.6 L104.1,616.63 L105.76,616.67 L107.42,616.7 L109.09,616.73 L110.75,616.76 L112.41,616.79 L114.07,616.82 L115.74,616.86 L117.4,616.89 L119.06,616.92 L120.73,616.96 L122.39,616.99 L124.05,617.02 L125.72,617.06 L127.38,617.09 L129.04,617.12 L130.71,617.16 L132.37,617.19 L134.03,617.23 L135.7,617.26 L137.36,617.29 L139.02,617.33 L140.69,617.36 L142.35,617.39 L144.01,617.43 L145.68,617.46 L147.34,617.49 L149,617.53 L150.66,617.56 L152.33,617.59 L153.99,617.62 L155.65,617.66 L157.32,617.69 L158.98,617.72 L160.64,617.75 L162.31,617.78 L163.97,617.81 L165.63,617.84 L167.3,617.87 L168.96,617.9 L170.62,617.93 L172.29,617.96 L173.95,617.99 L175.61,618.02 L177.28,618.05 L178.94,618.07 L180.6,618.1 L182.27,618.13 L183.93,618.16 L185.59,618.18 L187.25,618.21 L188.92,618.24 L190.58,618.26 L192.24,618.29 L193.91,618.31 L195.57,618.34 L197.23,618.36 L198.9,618.38 L200.56,618.41 L202.22,618.43 L203.89,618.45 L205.55,618.48 L207.21,618.5 L208.88,618.52 L210.54,618.54 L212.2,618.57 L213.87,618.59 L215.53,618.61 L217.19,618.63 L218.86,618.65 L220.52,618.67 L222.18,618.69 L223.84,618.71 L225.51,618.73 L227.17,618.75 L228.83,618.76 L230.5,618.78 L232.16,618.8 L233.82,618.82 L235.49,618.84 L237.15,618.85 L238.81,618.87 L240.48,618.89 L242.14,618.9 L243.8,618.92 L245.47,618.94 L247.13,618.95 L248.79,618.97 L250.46,618.98 L252.12,619 L253.78,619.01 L255.44,619.03 L257.11,619.04 L258.77,619.06 L260.43,619.07 L262.1,619.09 L263.76,619.1 L265.42,619.11 L267.09,619.13 L268.75,619.14 L270.41,619.15 L272.08,619.16 L273.74,619.18 L275.4,619.19 L277.07,619.2 L278.73,619.21 L280.39,619.23 L282.06,619.24 L283.72,619.25 L285.38,619.26 L287.05,619.27 L288.71,619.28 L290.37,619.29 L292.04,619.3 L293.7,619.31 L295.36,619.32 L297.02,619.33 L298.69,619.34 L300.35,619.35 L302.01,619.36 L303.68,619.37 L305.34,619.38 L307,619.39 L308.67,619.4 L310.33,619.41 L311.99,619.42 L313.66,619.43 L315.32,619.44 L316.98,619.45 L318.65,619.46 L320.31,619.46 L321.97,619.47 L323.64,619.48 L325.3,619.49 L326.96,619.5 L328.62,619.5 L330.29,619.51 L331.95,619.52 L333.61,619.53 L335.28,619.53 L336.94,619.54 L338.6,619.55 L340.27,619.56 L341.93,619.56 L343.59,619.57 L345.26,619.58 L346.92,619.58 L348.58,619.59 L350.25,619.6 L351.91,619.6 L353.57,619.61 L355.24,619.62 L356.9,619.62 L358.56,619.63 L360.23,619.64 L361.89,619.64 L363.55,619.65 L365.21,619.65 L366.88,619.66 L368.54,619.66 L370.2,619.67 L371.87,619.68 L373.53,619.68 L375.19,619.69 L376.86,619.69 L378.52,619.7 L380.18,619.7 L381.85,619.71 L383.51,619.71 L385.17,619.72 L386.84,619.72 L388.5,619.73 L390.16,619.73 L391.83,619.74 L393.49,619.74 L395.15,619.75 L396.82,619.75 L398.48,619.76 L400.14,619.76 L401.81,619.77 L403.47,619.77 L405.13,619.77 L406.79,619.78 L408.46,619.78 L410.12,619.79 L411.78,619.79 L413.45,619.8 L415.11,619.8 L416.77,619.8 L418.44,619.81 L420.1,619.81" fill="none" stroke="#444" stroke-width="1.15" stroke-linejoin="round" />
<line x1="53.45" y1="620.3" x2="420.1" y2="620.3" stroke="#111" stroke-width="1.6" stroke-linecap="butt"/>
<path d="M54.2,592.88 L55.2,592.55 L56.2,592.13 L57.2,591.61 L58.2,591 L59.2,590.29 L60.2,589.51 L61.2,588.67 L62.2,587.78 L63.2,586.85 L64.2,585.89 L65.2,584.89 L66.2,583.86 L67.2,582.81 L68.2,581.73 L69.2,580.65 L70.2,579.55 L71.2,578.43 L72.2,577.31 L73.2,576.19 L74.2,575.05 L75.2,573.9 L76.2,572.74 L77.2,571.56 L78.2,570.37 L79.2,569.17 L80.2,567.96 L81.2,566.74 L82.2,565.53 L83.2,564.31 L84.2,563.11 L85.2,561.93 L86.2,560.76 L87.2,559.63 L88.2,558.52 L89.2,557.46 L90.2,556.42 L91.2,555.41 L92.2,554.43 L93.2,553.46 L94.2,552.5 L95.2,551.53 L96.2,550.54 L97.2,549.52 L98.2,548.46 L99.2,547.36 L100.2,546.2 L101.2,544.99 L102.2,543.73 L103.2,542.42 L104.2,541.07 L105.2,539.69 L106.2,538.3 L107.2,536.9 L108.2,535.51 L109.2,534.15 L110.2,532.82 L111.2,531.53 L112.2,530.29 L113.2,529.09 L114.2,527.94 L115.2,526.83 L116.2,525.76 L117.2,524.71 L118.2,523.68 L119.2,522.67 L120.2,521.66 L121.2,520.65 L122.2,519.63 L123.2,518.61 L124.2,517.58 L125.2,516.54 L126.2,515.5 L127.2,514.45 L128.2,513.4 L129.2,512.35 L130.2,511.28 L131.2,510.21 L132.2,509.12 L133.2,508.01 L134.2,506.88 L135.2,505.72 L136.2,504.53 L137.2,503.32 L138.2,502.07 L139.2,500.79 L140.2,499.49 L141.2,498.17 L142.2,496.84 L143.2,495.5 L144.2,494.16 L145.2,492.83 L146.2,491.51 L147.2,490.21 L148.2,488.93 L149.2,487.66 L150.2,486.42 L151.2,485.19 L152.2,483.98 L153.2,482.77 L154.2,481.58 L155.2,480.39 L156.2,479.2 L157.2,478.02 L158.2,476.83 L159.2,475.63 L160.2,474.44 L161.2,473.23 L162.2,472.02 L163.2,470.81 L164.2,469.59 L165.2,468.37 L166.2,467.15 L167.2,465.94 L168.2,464.73 L169.2,463.53 L170.2,462.34 L171.2,461.16 L172.2,460 L173.2,458.85 L174.2,457.71 L175.2,456.59 L176.2,455.48 L177.2,454.38 L178.2,453.29 L179.2,452.19 L180.2,451.1 L181.2,450 L182.2,448.89 L183.2,447.77 L184.2,446.64 L185.2,445.5 L186.2,444.34 L187.2,443.17 L188.2,441.99 L189.2,440.8 L190.2,439.6 L191.2,438.4 L192.2,437.19 L193.2,435.98 L194.2,434.77 L195.2,433.56 L196.2,432.35 L197.2,431.15 L198.2,429.95 L199.2,428.76 L200.2,427.57 L201.2,426.38 L202.2,425.2 L203.2,424.01 L204.2,422.82 L205.2,421.64 L206.2,420.48 L207.2,419.34 L208.2,418.22 L209.2,417.15 L210.2,416.12 L211.2,415.14 L212.2,414.22 L213.2,413.36 L214.2,412.55 L215.2,411.79 L216.2,411.08 L217.2,410.42 L218.2,409.81 L219.2,409.23 L220.2,408.69 L221.2,408.19 L222.2,407.72 L223.2,407.29 L224.2,406.89 L225.2,406.53 L226.2,406.2 L227.2,405.9 L228.2,405.64 L229.2,405.41 L230.2,405.22 L231.2,405.05 L232.2,404.91 L233.2,404.8 L234.2,404.7 L235.2,404.62 L236.2,404.56 L237.2,404.52 L238.2,404.48 L239.2,404.46 L240.2,404.46 L241.2,404.47 L242.2,404.5 L243.2,404.55 L244.2,404.62 L245.2,404.71 L246.2,404.82 L247.2,404.96 L248.2,405.12 L249.2,405.31 L250.2,405.53 L251.2,405.76 L252.2,406.03 L253.2,406.31 L254.2,406.62 L255.2,406.94 L256.2,407.28 L257.2,407.64 L258.2,408.01 L259.2,408.39 L260.2,408.79 L261.2,409.2 L262.2,409.63 L263.2,410.08 L264.2,410.54 L265.2,411.02 L266.2,411.53 L267.2,412.07 L268.2,412.63 L269.2,413.22 L270.2,413.83 L271.2,414.46 L272.2,415.09 L273.2,415.73 L274.2,416.37 L275.2,416.99 L276.2,417.61 L277.2,418.22 L278.2,418.81 L279.2,419.4 L280.2,419.98 L281.2,420.57 L282.2,421.16 L283.2,421.76 L284.2,422.38 L285.2,423.01 L286.2,423.66 L287.2,424.34 L288.2,425.04 L289.2,425.76 L290.2,426.5 L291.2,427.26 L292.2,428.04 L293.2,428.83 L294.2,429.64 L295.2,430.47 L296.2,431.3 L297.2,432.15 L298.2,433.01 L299.2,433.89 L300.2,434.77 L301.2,435.67 L302.2,436.59 L303.2,437.51 L304.2,438.44 L305.2,439.37 L306.2,440.3 L307.2,441.23 L308.2,442.14 L309.2,443.04 L310.2,443.93 L311.2,444.79 L312.2,445.64 L313.2,446.46 L314.2,447.26 L315.2,448.04 L316.2,448.81 L317.2,449.56 L318.2,450.3 L319.2,451.03 L320.2,451.76 L321.2,452.49 L322.2,453.23 L323.2,453.97 L324.2,454.73 L325.2,455.5 L326.2,456.28 L327.2,457.08 L328.2,457.89 L329.2,458.71 L330.2,459.54 L331.2,460.37 L332.2,461.21 L333.2,462.06 L334.2,462.9 L335.2,463.75 L336.2,464.59 L337.2,465.44 L338.2,466.28 L339.2,467.11 L340.2,467.94 L341.2,468.76 L342.2,469.58 L343.2,470.39 L344.2,471.2 L345.2,472.01 L346.2,472.83 L347.2,473.65 L348.2,474.48 L349.2,475.32 L350.2,476.17 L351.2,477.05 L352.2,477.94 L353.2,478.85 L354.2,479.79 L355.2,480.74 L356.2,481.72 L357.2,482.7 L358.2,483.71 L359.2,484.72 L360.2,485.74 L361.2,486.77 L362.2,487.8 L363.2,488.82 L364.2,489.85 L365.2,490.87 L366.2,491.88 L367.2,492.89 L368.2,493.9 L369.2,494.91 L370.2,495.91 L371.2,496.92 L372.2,497.92 L373.2,498.92 L374.2,499.91 L375.2,500.9 L376.2,501.89 L377.2,502.87 L378.2,503.85 L379.2,504.82 L380.2,505.78 L381.2,506.74 L382.2,507.7 L383.2,508.65 L384.2,509.6 L385.2,510.54 L386.2,511.47 L387.2,512.4 L388.2,513.32 L389.2,514.22 L390.2,515.12 L391.2,516 L392.2,516.86 L393.2,517.7 L394.2,518.53 L395.2,519.33 L396.2,520.12 L397.2,520.89 L398.2,521.65 L399.2,522.39 L400.2,523.13 L401.2,523.86 L402.2,524.59 L403.2,525.33 L404.2,526.07 L405.2,526.81 L406.2,527.57 L407.2,528.34 L408.2,529.13 L409.2,529.92 L410.2,530.72 L411.2,531.54 L412.2,532.35 L413.2,533.16 L414.2,533.94 L415.2,534.68 L416.2,535.34 L417.2,535.91 L418.2,536.38 L419.2,536.76" fill="none" stroke="#777" stroke-width="1.0" stroke-linejoin="round" />
<g fill="#fff" stroke="#5a5a5a" stroke-width="0.85"><circle cx="54.2" cy="592.88" r="2.35"/><circle cx="57.2" cy="591.61" r="2.35"/><circle cx="60.2" cy="589.51" r="2.35"/><circle cx="63.2" cy="586.85" r="2.35"/><circle cx="66.2" cy="583.86" r="2.35"/><circle cx="68.2" cy="581.73" r="2.35"/><circle cx="70.2" cy="579.55" r="2.35"/><circle cx="72.2" cy="577.31" r="2.35"/><circle cx="74.2" cy="575.05" r="2.35"/><circle cx="76.2" cy="572.74" r="2.35"/><circle cx="78.2" cy="570.37" r="2.35"/><circle cx="80.2" cy="567.96" r="2.35"/><circle cx="82.2" cy="565.53" r="2.35"/><circle cx="84.2" cy="563.11" r="2.35"/><circle cx="86.2" cy="560.76" r="2.35"/><circle cx="88.2" cy="558.52" r="2.35"/><circle cx="90.2" cy="556.42" r="2.35"/><circle cx="93.2" cy="553.46" r="2.35"/><circle cx="96.2" cy="550.54" r="2.35"/><circle cx="99.2" cy="547.36" r="2.35"/><circle cx="101.2" cy="544.99" r="2.35"/><circle cx="103.2" cy="542.42" r="2.35"/><circle cx="105.2" cy="539.69" r="2.35"/><circle cx="107.2" cy="536.9" r="2.35"/><circle cx="109.2" cy="534.15" r="2.35"/><circle cx="111.2" cy="531.53" r="2.35"/><circle cx="113.2" cy="529.09" r="2.35"/><circle cx="115.2" cy="526.83" r="2.35"/><circle cx="117.2" cy="524.71" r="2.35"/><circle cx="120.2" cy="521.66" r="2.35"/><circle cx="123.2" cy="518.61" r="2.35"/><circle cx="126.2" cy="515.5" r="2.35"/><circle cx="129.2" cy="512.35" r="2.35"/><circle cx="131.2" cy="510.21" r="2.35"/><circle cx="133.2" cy="508.01" r="2.35"/><circle cx="135.2" cy="505.72" r="2.35"/><circle cx="137.2" cy="503.32" r="2.35"/><circle cx="139.2" cy="500.79" r="2.35"/><circle cx="141.2" cy="498.17" r="2.35"/><circle cx="143.2" cy="495.5" r="2.35"/><circle cx="145.2" cy="492.83" r="2.35"/><circle cx="147.2" cy="490.21" r="2.35"/><circle cx="149.2" cy="487.66" r="2.35"/><circle cx="151.2" cy="485.19" r="2.35"/><circle cx="153.2" cy="482.77" r="2.35"/><circle cx="155.2" cy="480.39" r="2.35"/><circle cx="157.2" cy="478.02" r="2.35"/><circle cx="159.2" cy="475.63" r="2.35"/><circle cx="161.2" cy="473.23" r="2.35"/><circle cx="163.2" cy="470.81" r="2.35"/><circle cx="165.2" cy="468.37" r="2.35"/><circle cx="167.2" cy="465.94" r="2.35"/><circle cx="169.2" cy="463.53" r="2.35"/><circle cx="171.2" cy="461.16" r="2.35"/><circle cx="173.2" cy="458.85" r="2.35"/><circle cx="175.2" cy="456.59" r="2.35"/><circle cx="177.2" cy="454.38" r="2.35"/><circle cx="179.2" cy="452.19" r="2.35"/><circle cx="181.2" cy="450" r="2.35"/><circle cx="183.2" cy="447.77" r="2.35"/><circle cx="185.2" cy="445.5" r="2.35"/><circle cx="187.2" cy="443.17" r="2.35"/><circle cx="189.2" cy="440.8" r="2.35"/><circle cx="191.2" cy="438.4" r="2.35"/><circle cx="193.2" cy="435.98" r="2.35"/><circle cx="195.2" cy="433.56" r="2.35"/><circle cx="197.2" cy="431.15" r="2.35"/><circle cx="199.2" cy="428.76" r="2.35"/><circle cx="201.2" cy="426.38" r="2.35"/><circle cx="203.2" cy="424.01" r="2.35"/><circle cx="205.2" cy="421.64" r="2.35"/><circle cx="207.2" cy="419.34" r="2.35"/><circle cx="209.2" cy="417.15" r="2.35"/><circle cx="212.2" cy="414.22" r="2.35"/><circle cx="215.2" cy="411.79" r="2.35"/><circle cx="218.2" cy="409.81" r="2.35"/><circle cx="221.2" cy="408.19" r="2.35"/><circle cx="224.2" cy="406.89" r="2.35"/><circle cx="227.2" cy="405.9" r="2.35"/><circle cx="230.2" cy="405.22" r="2.35"/><circle cx="233.2" cy="404.8" r="2.35"/><circle cx="236.2" cy="404.56" r="2.35"/><circle cx="239.2" cy="404.46" r="2.35"/><circle cx="242.2" cy="404.5" r="2.35"/><circle cx="245.2" cy="404.71" r="2.35"/><circle cx="248.2" cy="405.12" r="2.35"/><circle cx="251.2" cy="405.76" r="2.35"/><circle cx="254.2" cy="406.62" r="2.35"/><circle cx="257.2" cy="407.64" r="2.35"/><circle cx="260.2" cy="408.79" r="2.35"/><circle cx="263.2" cy="410.08" r="2.35"/><circle cx="266.2" cy="411.53" r="2.35"/><circle cx="269.2" cy="413.22" r="2.35"/><circle cx="272.2" cy="415.09" r="2.35"/><circle cx="275.2" cy="416.99" r="2.35"/><circle cx="278.2" cy="418.81" r="2.35"/><circle cx="281.2" cy="420.57" r="2.35"/><circle cx="284.2" cy="422.38" r="2.35"/><circle cx="287.2" cy="424.34" r="2.35"/><circle cx="290.2" cy="426.5" r="2.35"/><circle cx="293.2" cy="428.83" r="2.35"/><circle cx="296.2" cy="431.3" r="2.35"/><circle cx="299.2" cy="433.89" r="2.35"/><circle cx="302.2" cy="436.59" r="2.35"/><circle cx="305.2" cy="439.37" r="2.35"/><circle cx="308.2" cy="442.14" r="2.35"/><circle cx="311.2" cy="444.79" r="2.35"/><circle cx="314.2" cy="447.26" r="2.35"/><circle cx="317.2" cy="449.56" r="2.35"/><circle cx="320.2" cy="451.76" r="2.35"/><circle cx="323.2" cy="453.97" r="2.35"/><circle cx="326.2" cy="456.28" r="2.35"/><circle cx="329.2" cy="458.71" r="2.35"/><circle cx="332.2" cy="461.21" r="2.35"/><circle cx="335.2" cy="463.75" r="2.35"/><circle cx="338.2" cy="466.28" r="2.35"/><circle cx="341.2" cy="468.76" r="2.35"/><circle cx="344.2" cy="471.2" r="2.35"/><circle cx="347.2" cy="473.65" r="2.35"/><circle cx="350.2" cy="476.17" r="2.35"/><circle cx="353.2" cy="478.85" r="2.35"/><circle cx="356.2" cy="481.72" r="2.35"/><circle cx="359.2" cy="484.72" r="2.35"/><circle cx="362.2" cy="487.8" r="2.35"/><circle cx="365.2" cy="490.87" r="2.35"/><circle cx="368.2" cy="493.9" r="2.35"/><circle cx="371.2" cy="496.92" r="2.35"/><circle cx="374.2" cy="499.91" r="2.35"/><circle cx="377.2" cy="502.87" r="2.35"/><circle cx="380.2" cy="505.78" r="2.35"/><circle cx="383.2" cy="508.65" r="2.35"/><circle cx="386.2" cy="511.47" r="2.35"/><circle cx="389.2" cy="514.22" r="2.35"/><circle cx="392.2" cy="516.86" r="2.35"/><circle cx="395.2" cy="519.33" r="2.35"/><circle cx="398.2" cy="521.65" r="2.35"/><circle cx="401.2" cy="523.86" r="2.35"/><circle cx="404.2" cy="526.07" r="2.35"/><circle cx="407.2" cy="528.34" r="2.35"/><circle cx="410.2" cy="530.72" r="2.35"/><circle cx="413.2" cy="533.16" r="2.35"/><circle cx="416.2" cy="535.34" r="2.35"/><circle cx="419.2" cy="536.76" r="2.35"/></g>
<path d="M54.2,592.88 L55.2,592.55 L56.2,592.13 L57.2,591.61 L58.2,591 L59.2,590.29 L60.2,589.51 L61.2,588.67 L62.2,587.78 L63.2,586.85 L64.2,585.89 L65.2,584.89 L66.2,583.86 L67.2,582.81 L68.2,581.73 L69.2,580.65 L70.2,579.55 L71.2,578.43 L72.2,577.31 L73.2,576.19 L74.2,575.05 L75.2,573.9 L76.2,572.74 L77.2,571.56 L78.2,570.37 L79.2,569.17 L80.2,567.96 L81.2,566.74 L82.2,565.53 L83.2,564.31 L84.2,563.11 L85.2,561.93 L86.2,560.76 L87.2,559.63 L88.2,558.52 L89.2,557.46 L90.2,556.42 L91.2,555.41 L92.2,554.43 L93.2,553.46 L94.2,552.5 L95.2,551.53 L96.2,550.54 L97.2,549.52 L98.2,548.46 L99.2,547.36 L100.2,546.2 L101.2,544.99 L102.2,543.73 L103.2,542.42 L104.2,541.07 L105.2,539.69 L106.2,538.3 L107.2,536.9 L108.2,535.51 L109.2,534.15 L110.2,532.82 L111.2,531.53 L112.2,530.29 L113.2,529.09 L114.2,527.94 L115.2,526.83 L116.2,525.76 L117.2,524.71 L118.2,523.68 L119.2,522.67 L120.2,521.66 L121.2,520.65 L122.2,519.63 L123.2,518.61 L124.2,517.58 L125.2,516.54 L126.2,515.5 L127.2,514.45 L128.2,513.4 L129.2,512.35 L130.2,511.28 L131.2,510.21 L132.2,509.12 L133.2,508.01 L134.2,506.88 L135.2,505.72 L136.2,504.53 L137.2,503.32 L138.2,502.07 L139.2,500.79 L140.2,499.49 L141.2,498.17 L142.2,496.84 L143.2,495.5 L144.2,494.16 L145.2,492.83 L146.2,491.51 L147.2,490.21 L148.2,488.93 L149.2,487.66 L150.2,486.42 L151.2,485.19 L152.2,483.98 L153.2,482.77 L154.2,481.58 L155.2,480.39 L156.2,479.2 L157.2,478.02 L158.2,476.83 L159.2,475.63 L160.2,474.44 L161.2,473.23 L162.2,472.02 L163.2,470.81 L164.2,469.59 L165.2,468.37 L166.2,467.15 L167.2,465.94 L168.2,464.73 L169.2,463.53 L170.2,462.34 L171.2,461.16 L172.2,460 L173.2,458.85 L174.2,457.71 L175.2,456.59 L176.2,455.48 L177.2,454.38 L178.2,453.29 L179.2,452.19 L180.2,451.1 L181.2,450 L182.2,448.89 L183.2,447.77 L184.2,446.64 L185.2,445.5 L186.2,444.34 L187.2,443.17 L188.2,441.99 L189.2,440.8 L190.2,439.6 L191.2,438.4 L192.2,437.19 L193.2,435.98 L194.2,434.77 L195.2,433.56 L196.2,432.35 L197.2,431.15 L198.2,429.95 L199.2,428.76 L200.2,427.57 L201.2,426.38 L202.2,425.2 L203.2,424.01 L204.2,422.82 L205.2,421.64 L206.2,420.48 L207.2,419.34 L208.2,418.22 L209.2,417.15 L210.2,416.12 L211.2,415.14 L212.2,414.22 L213.2,413.36 L214.2,412.55 L215.2,411.79 L216.2,411.08 L217.2,410.42 L218.2,409.81 L219.2,409.23 L220.2,408.69 L221.2,408.19 L222.2,407.72 L223.2,407.29 L224.2,406.89 L225.2,406.53 L226.2,406.2 L227.2,405.9 L228.2,405.64 L229.2,405.41 L230.2,405.22 L231.2,405.05 L232.2,404.91 L233.2,404.8 L234.2,404.7 L235.2,404.62 L236.2,404.56 L237.2,404.52 L238.2,404.48 L239.2,404.46 L240.2,404.46 L241.2,404.47 L242.2,404.5 L243.2,404.55 L244.2,404.62 L245.2,404.71 L246.2,404.82 L247.2,404.96 L248.2,405.12 L249.2,405.31 L250.2,405.53 L251.2,405.76 L252.2,406.03 L253.2,406.31 L254.2,406.62 L255.2,406.94 L256.2,407.28 L257.2,407.64 L258.2,408.01 L259.2,408.39 L260.2,408.79 L261.2,409.2 L262.2,409.63 L263.2,410.08 L264.2,410.54 L265.2,411.02 L266.2,411.53 L267.2,412.07 L268.2,412.63 L269.2,413.22 L270.2,413.83 L271.2,414.46 L272.2,415.09 L273.2,415.73 L274.2,416.37 L275.2,416.99 L276.2,417.61 L277.2,418.22 L278.2,418.81 L279.2,419.4 L280.2,419.98 L281.2,420.57 L282.2,421.16 L283.2,421.76 L284.2,422.38 L285.2,423.01 L286.2,423.66 L287.2,424.34 L288.2,425.04 L289.2,425.76 L290.2,426.5 L291.2,427.26 L292.2,428.04 L293.2,428.83 L294.2,429.64 L295.2,430.47 L296.2,431.3 L297.2,432.15 L298.2,433.01 L299.2,433.89 L300.2,434.77 L301.2,435.67 L302.2,436.59 L303.2,437.51 L304.2,438.44 L305.2,439.37 L306.2,440.3 L307.2,441.23 L308.2,442.14 L309.2,443.04 L310.2,443.93 L311.2,444.79 L312.2,445.64 L313.2,446.46 L314.2,447.26 L315.2,448.04 L316.2,448.81 L317.2,449.56 L318.2,450.3 L319.2,451.03 L320.2,451.76 L321.2,452.49 L322.2,453.23 L323.2,453.97 L324.2,454.73 L325.2,455.5 L326.2,456.28 L327.2,457.08 L328.2,457.89 L329.2,458.71 L330.2,459.54 L331.2,460.37 L332.2,461.21 L333.2,462.06 L334.2,462.9 L335.2,463.75 L336.2,464.59 L337.2,465.44 L338.2,466.28 L339.2,467.11 L340.2,467.94 L341.2,468.76 L342.2,469.58 L343.2,470.39 L344.2,471.2 L345.2,472.01 L346.2,472.83 L347.2,473.65 L348.2,474.48 L349.2,475.32 L350.2,476.17 L351.2,477.05 L352.2,477.94 L353.2,478.85 L354.2,479.79 L355.2,480.74 L356.2,481.72 L357.2,482.7 L358.2,483.71 L359.2,484.72 L360.2,485.74 L361.2,486.77 L362.2,487.8 L363.2,488.82 L364.2,489.85 L365.2,490.87 L366.2,491.88 L367.2,492.89 L368.2,493.9 L369.2,494.91 L370.2,495.91 L371.2,496.92 L372.2,497.92 L373.2,498.92 L374.2,499.91 L375.2,500.9 L376.2,501.89 L377.2,502.87 L378.2,503.85 L379.2,504.82 L380.2,505.78 L381.2,506.74 L382.2,507.7 L383.2,508.65 L384.2,509.6 L385.2,510.54 L386.2,511.47 L387.2,512.4 L388.2,513.32 L389.2,514.22 L390.2,515.12 L391.2,516 L392.2,516.86 L393.2,517.7 L394.2,518.53 L395.2,519.33 L396.2,520.12 L397.2,520.89 L398.2,521.65 L399.2,522.39 L400.2,523.13 L401.2,523.86 L402.2,524.59 L403.2,525.33 L404.2,526.07 L405.2,526.81 L406.2,527.57 L407.2,528.34 L408.2,529.13 L409.2,529.92 L410.2,530.72 L411.2,531.54 L412.2,532.35 L413.2,533.16 L414.2,533.94 L415.2,534.68 L416.2,535.34 L417.2,535.91 L418.2,536.38 L419.2,536.76" fill="none" stroke="#222" stroke-width="0.7" stroke-linejoin="round" />
<line x1="497.8" y1="363.8" x2="924.8" y2="363.8" stroke="#8a8a8a" stroke-width="2" stroke-linecap="butt"/>
<line x1="497.8" y1="362.8" x2="497.8" y2="654.4" stroke="#8a8a8a" stroke-width="2" stroke-linecap="butt"/>
<line x1="924.8" y1="362.8" x2="924.8" y2="655.4" stroke="#111" stroke-width="2.2" stroke-linecap="butt"/>
<line x1="496.8" y1="654.4" x2="925.8" y2="654.4" stroke="#111" stroke-width="2.2" stroke-linecap="butt"/>
<line x1="544" y1="369.7" x2="544" y2="614.75" stroke="#111" stroke-width="1.5" stroke-linecap="butt"/>
<line x1="541" y1="614" x2="544" y2="614" stroke="#111" stroke-width="1.3" stroke-linecap="butt"/>
<text transform="translate(537.2 617.2) scale(0.93 1)" x="0" y="0" font-size="9" text-anchor="end" fill="#585858">0</text>
<line x1="541" y1="579.1" x2="544" y2="579.1" stroke="#111" stroke-width="1.3" stroke-linecap="butt"/>
<text transform="translate(537.2 582.3) scale(0.93 1)" x="0" y="0" font-size="9" text-anchor="end" fill="#585858">0.05</text>
<line x1="541" y1="544.2" x2="544" y2="544.2" stroke="#111" stroke-width="1.3" stroke-linecap="butt"/>
<text transform="translate(537.2 547.4) scale(0.93 1)" x="0" y="0" font-size="9" text-anchor="end" fill="#585858">0.1</text>
<line x1="541" y1="509.3" x2="544" y2="509.3" stroke="#111" stroke-width="1.3" stroke-linecap="butt"/>
<text transform="translate(537.2 512.5) scale(0.93 1)" x="0" y="0" font-size="9" text-anchor="end" fill="#585858">0.15</text>
<line x1="541" y1="474.4" x2="544" y2="474.4" stroke="#111" stroke-width="1.3" stroke-linecap="butt"/>
<text transform="translate(537.2 477.6) scale(0.93 1)" x="0" y="0" font-size="9" text-anchor="end" fill="#585858">0.2</text>
<line x1="541" y1="439.5" x2="544" y2="439.5" stroke="#111" stroke-width="1.3" stroke-linecap="butt"/>
<text transform="translate(537.2 442.7) scale(0.93 1)" x="0" y="0" font-size="9" text-anchor="end" fill="#585858">0.25</text>
<line x1="541" y1="404.6" x2="544" y2="404.6" stroke="#111" stroke-width="1.3" stroke-linecap="butt"/>
<text transform="translate(537.2 407.8) scale(0.93 1)" x="0" y="0" font-size="9" text-anchor="end" fill="#585858">0.3</text>
<line x1="541" y1="369.7" x2="544" y2="369.7" stroke="#111" stroke-width="1.3" stroke-linecap="butt"/>
<text transform="translate(537.2 372.9) scale(0.93 1)" x="0" y="0" font-size="9" text-anchor="end" fill="#585858">0.35</text>
<line x1="577.24" y1="614" x2="577.24" y2="617" stroke="#111" stroke-width="1.3" stroke-linecap="butt"/>
<text transform="translate(577.24 627.4) scale(0.93 1)" x="0" y="0" font-size="9" text-anchor="middle" fill="#585858">1690</text>
<line x1="643.71" y1="614" x2="643.71" y2="617" stroke="#111" stroke-width="1.3" stroke-linecap="butt"/>
<text transform="translate(643.71 627.4) scale(0.93 1)" x="0" y="0" font-size="9" text-anchor="middle" fill="#585858">1670</text>
<line x1="710.18" y1="614" x2="710.18" y2="617" stroke="#111" stroke-width="1.3" stroke-linecap="butt"/>
<text transform="translate(710.18 627.4) scale(0.93 1)" x="0" y="0" font-size="9" text-anchor="middle" fill="#585858">1650</text>
<line x1="776.65" y1="614" x2="776.65" y2="617" stroke="#111" stroke-width="1.3" stroke-linecap="butt"/>
<text transform="translate(776.65 627.4) scale(0.93 1)" x="0" y="0" font-size="9" text-anchor="middle" fill="#585858">1630</text>
<line x1="843.13" y1="614" x2="843.13" y2="617" stroke="#111" stroke-width="1.3" stroke-linecap="butt"/>
<text transform="translate(843.13 627.4) scale(0.93 1)" x="0" y="0" font-size="9" text-anchor="middle" fill="#585858">1610</text>
<line x1="909.6" y1="614" x2="909.6" y2="617" stroke="#111" stroke-width="1.3" stroke-linecap="butt"/>
<text transform="translate(909.6 627.4) scale(0.93 1)" x="0" y="0" font-size="9" text-anchor="middle" fill="#585858">1590</text>
<line x1="909.6" y1="614" x2="909.6" y2="617" stroke="#111" stroke-width="1.3" stroke-linecap="butt"/>
<text x="513.4" y="492.6" font-size="13.75" text-anchor="middle" font-weight="bold" fill="#111" transform="rotate(-90 513.4 492.6)" >Absorbance (AU)</text>
<text x="726" y="650" font-size="13" font-weight="bold" text-anchor="middle" fill="#111">Wavenumber (cm<tspan font-size="8.1" dy="-5">-1</tspan><tspan dy="5">)</tspan></text>
<text transform="translate(503.2 647.2) scale(0.896 1)" x="0" y="0" font-size="36.7" font-weight="bold" fill="#000">E</text>
<text transform="translate(553 385.8) scale(1 1.06)" x="0" y="0" font-size="18.4" font-weight="bold" fill="#000">DDGS</text>
<line x1="544" y1="612.5" x2="909.6" y2="612.5" stroke="#c01030" stroke-width="2.2" stroke-linecap="butt"/>
<line x1="544" y1="610.8" x2="909.6" y2="610.8" stroke="#333" stroke-width="1.2" stroke-linecap="butt"/>
<path d="M544,611.85 L545.66,611.72 L547.32,611.59 L548.99,611.44 L550.65,611.28 L552.31,611.1 L553.97,610.92 L555.63,610.72 L557.29,610.51 L558.96,610.29 L560.62,610.05 L562.28,609.8 L563.94,609.53 L565.6,609.26 L567.27,608.98 L568.93,608.7 L570.59,608.42 L572.25,608.14 L573.91,607.88 L575.57,607.64 L577.24,607.43 L578.9,607.26 L580.56,607.13 L582.22,607.05 L583.88,607.02 L585.55,607.05 L587.21,607.13 L588.87,607.26 L590.53,607.43 L592.19,607.64 L593.85,607.88 L595.52,608.14 L597.18,608.42 L598.84,608.7 L600.5,608.98 L602.16,609.26 L603.83,609.53 L605.49,609.8 L607.15,610.05 L608.81,610.29 L610.47,610.51 L612.13,610.72 L613.8,610.92 L615.46,611.1 L617.12,611.28 L618.78,611.44 L620.44,611.59 L622.11,611.72 L623.77,611.85 L625.43,611.97 L627.09,612.08 L628.75,612.19 L630.41,612.28 L632.08,612.37 L633.74,612.45 L635.4,612.53 L637.06,612.6 L638.72,612.67 L640.39,612.73 L642.05,612.79 L643.71,612.85 L645.37,612.9 L647.03,612.95 L648.69,612.99 L650.36,613.04 L652.02,613.08 L653.68,613.12 L655.34,613.15 L657,613.18 L658.67,613.22 L660.33,613.25 L661.99,613.28 L663.65,613.3 L665.31,613.33 L666.97,613.35 L668.64,613.37 L670.3,613.4 L671.96,613.42 L673.62,613.44 L675.28,613.46 L676.95,613.47 L678.61,613.49 L680.27,613.51 L681.93,613.52 L683.59,613.54 L685.25,613.55 L686.92,613.56 L688.58,613.58 L690.24,613.59 L691.9,613.6 L693.56,613.61 L695.23,613.62 L696.89,613.63 L698.55,613.64 L700.21,613.65 L701.87,613.66 L703.53,613.67 L705.2,613.68 L706.86,613.69 L708.52,613.7 L710.18,613.7 L711.84,613.71 L713.51,613.72 L715.17,613.72 L716.83,613.73 L718.49,613.74 L720.15,613.74 L721.81,613.75 L723.48,613.76 L725.14,613.76 L726.8,613.77 L728.46,613.77 L730.12,613.78 L731.79,613.78 L733.45,613.79 L735.11,613.79 L736.77,613.8 L738.43,613.8 L740.09,613.8 L741.76,613.81 L743.42,613.81 L745.08,613.82 L746.74,613.82 L748.4,613.82 L750.07,613.83 L751.73,613.83 L753.39,613.83 L755.05,613.84 L756.71,613.84 L758.37,613.84 L760.04,613.84 L761.7,613.85 L763.36,613.85 L765.02,613.85 L766.68,613.86 L768.35,613.86 L770.01,613.86 L771.67,613.86 L773.33,613.87 L774.99,613.87 L776.65,613.87 L778.32,613.87 L779.98,613.87 L781.64,613.88 L783.3,613.88 L784.96,613.88 L786.63,613.88 L788.29,613.88 L789.95,613.89 L791.61,613.89 L793.27,613.89 L794.93,613.89 L796.6,613.89 L798.26,613.89 L799.92,613.9 L801.58,613.9 L803.24,613.9 L804.91,613.9 L806.57,613.9 L808.23,613.9 L809.89,613.9 L811.55,613.91 L813.21,613.91 L814.88,613.91 L816.54,613.91 L818.2,613.91 L819.86,613.91 L821.52,613.91 L823.19,613.91 L824.85,613.92 L826.51,613.92 L828.17,613.92 L829.83,613.92 L831.49,613.92 L833.16,613.92 L834.82,613.92 L836.48,613.92 L838.14,613.92 L839.8,613.93 L841.47,613.93 L843.13,613.93 L844.79,613.93 L846.45,613.93 L848.11,613.93 L849.77,613.93 L851.44,613.93 L853.1,613.93 L854.76,613.93 L856.42,613.93 L858.08,613.93 L859.75,613.94 L861.41,613.94 L863.07,613.94 L864.73,613.94 L866.39,613.94 L868.05,613.94 L869.72,613.94 L871.38,613.94 L873.04,613.94 L874.7,613.94 L876.36,613.94 L878.03,613.94 L879.69,613.94 L881.35,613.94 L883.01,613.95 L884.67,613.95 L886.33,613.95 L888,613.95 L889.66,613.95 L891.32,613.95 L892.98,613.95 L894.64,613.95 L896.31,613.95 L897.97,613.95 L899.63,613.95 L901.29,613.95 L902.95,613.95 L904.61,613.95 L906.28,613.95 L907.94,613.95 L909.6,613.95" fill="none" stroke="#222" stroke-width="1.15" stroke-linejoin="round" />
<path d="M544,610.73 L545.66,610.6 L547.32,610.46 L548.99,610.31 L550.65,610.16 L552.31,609.99 L553.97,609.82 L555.63,609.63 L557.29,609.44 L558.96,609.23 L560.62,609 L562.28,608.77 L563.94,608.51 L565.6,608.25 L567.27,607.96 L568.93,607.65 L570.59,607.33 L572.25,606.98 L573.91,606.6 L575.57,606.21 L577.24,605.78 L578.9,605.33 L580.56,604.85 L582.22,604.33 L583.88,603.79 L585.55,603.2 L587.21,602.59 L588.87,601.94 L590.53,601.25 L592.19,600.53 L593.85,599.78 L595.52,599 L597.18,598.2 L598.84,597.38 L600.5,596.56 L602.16,595.74 L603.83,594.94 L605.49,594.17 L607.15,593.46 L608.81,592.81 L610.47,592.25 L612.13,591.79 L613.8,591.45 L615.46,591.25 L617.12,591.18 L618.78,591.25 L620.44,591.45 L622.11,591.79 L623.77,592.25 L625.43,592.81 L627.09,593.46 L628.75,594.17 L630.41,594.94 L632.08,595.74 L633.74,596.56 L635.4,597.38 L637.06,598.2 L638.72,599 L640.39,599.78 L642.05,600.53 L643.71,601.25 L645.37,601.94 L647.03,602.59 L648.69,603.2 L650.36,603.79 L652.02,604.33 L653.68,604.85 L655.34,605.33 L657,605.78 L658.67,606.21 L660.33,606.6 L661.99,606.98 L663.65,607.33 L665.31,607.65 L666.97,607.96 L668.64,608.25 L670.3,608.51 L671.96,608.77 L673.62,609 L675.28,609.23 L676.95,609.44 L678.61,609.63 L680.27,609.82 L681.93,609.99 L683.59,610.16 L685.25,610.31 L686.92,610.46 L688.58,610.6 L690.24,610.73 L691.9,610.85 L693.56,610.97 L695.23,611.08 L696.89,611.19 L698.55,611.29 L700.21,611.38 L701.87,611.47 L703.53,611.56 L705.2,611.64 L706.86,611.72 L708.52,611.79 L710.18,611.86 L711.84,611.93 L713.51,611.99 L715.17,612.06 L716.83,612.12 L718.49,612.17 L720.15,612.23 L721.81,612.28 L723.48,612.33 L725.14,612.37 L726.8,612.42 L728.46,612.46 L730.12,612.51 L731.79,612.55 L733.45,612.58 L735.11,612.62 L736.77,612.66 L738.43,612.69 L740.09,612.72 L741.76,612.76 L743.42,612.79 L745.08,612.82 L746.74,612.85 L748.4,612.87 L750.07,612.9 L751.73,612.93 L753.39,612.95 L755.05,612.97 L756.71,613 L758.37,613.02 L760.04,613.04 L761.7,613.06 L763.36,613.08 L765.02,613.1 L766.68,613.12 L768.35,613.14 L770.01,613.16 L771.67,613.18 L773.33,613.19 L774.99,613.21 L776.65,613.22 L778.32,613.24 L779.98,613.26 L781.64,613.27 L783.3,613.28 L784.96,613.3 L786.63,613.31 L788.29,613.32 L789.95,613.34 L791.61,613.35 L793.27,613.36 L794.93,613.37 L796.6,613.38 L798.26,613.39 L799.92,613.4 L801.58,613.42 L803.24,613.43 L804.91,613.44 L806.57,613.44 L808.23,613.45 L809.89,613.46 L811.55,613.47 L813.21,613.48 L814.88,613.49 L816.54,613.5 L818.2,613.51 L819.86,613.51 L821.52,613.52 L823.19,613.53 L824.85,613.54 L826.51,613.54 L828.17,613.55 L829.83,613.56 L831.49,613.56 L833.16,613.57 L834.82,613.58 L836.48,613.58 L838.14,613.59 L839.8,613.6 L841.47,613.6 L843.13,613.61 L844.79,613.61 L846.45,613.62 L848.11,613.62 L849.77,613.63 L851.44,613.63 L853.1,613.64 L854.76,613.64 L856.42,613.65 L858.08,613.65 L859.75,613.66 L861.41,613.66 L863.07,613.67 L864.73,613.67 L866.39,613.68 L868.05,613.68 L869.72,613.68 L871.38,613.69 L873.04,613.69 L874.7,613.7 L876.36,613.7 L878.03,613.7 L879.69,613.71 L881.35,613.71 L883.01,613.71 L884.67,613.72 L886.33,613.72 L888,613.73 L889.66,613.73 L891.32,613.73 L892.98,613.73 L894.64,613.74 L896.31,613.74 L897.97,613.74 L899.63,613.75 L901.29,613.75 L902.95,613.75 L904.61,613.76 L906.28,613.76 L907.94,613.76 L909.6,613.76" fill="none" stroke="#222" stroke-width="1.15" stroke-linejoin="round" />
<path d="M544,611.64 L545.66,611.57 L547.32,611.49 L548.99,611.41 L550.65,611.33 L552.31,611.24 L553.97,611.15 L555.63,611.06 L557.29,610.96 L558.96,610.85 L560.62,610.74 L562.28,610.63 L563.94,610.51 L565.6,610.38 L567.27,610.25 L568.93,610.1 L570.59,609.95 L572.25,609.8 L573.91,609.63 L575.57,609.45 L577.24,609.27 L578.9,609.07 L580.56,608.86 L582.22,608.64 L583.88,608.4 L585.55,608.15 L587.21,607.89 L588.87,607.61 L590.53,607.31 L592.19,606.99 L593.85,606.65 L595.52,606.28 L597.18,605.9 L598.84,605.48 L600.5,605.04 L602.16,604.57 L603.83,604.07 L605.49,603.53 L607.15,602.96 L608.81,602.35 L610.47,601.7 L612.13,601.01 L613.8,600.27 L615.46,599.48 L617.12,598.66 L618.78,597.78 L620.44,596.86 L622.11,595.9 L623.77,594.89 L625.43,593.86 L627.09,592.79 L628.75,591.71 L630.41,590.63 L632.08,589.56 L633.74,588.53 L635.4,587.54 L637.06,586.63 L638.72,585.83 L640.39,585.14 L642.05,584.6 L643.71,584.22 L645.37,584.02 L647.03,584 L648.69,584.17 L650.36,584.51 L652.02,585.02 L653.68,585.68 L655.34,586.46 L657,587.35 L658.67,588.33 L660.33,589.35 L661.99,590.42 L663.65,591.5 L665.31,592.58 L666.97,593.65 L668.64,594.69 L670.3,595.7 L671.96,596.67 L673.62,597.6 L675.28,598.48 L676.95,599.32 L678.61,600.11 L680.27,600.86 L681.93,601.56 L683.59,602.22 L685.25,602.84 L686.92,603.42 L688.58,603.97 L690.24,604.48 L691.9,604.95 L693.56,605.4 L695.23,605.82 L696.89,606.21 L698.55,606.58 L700.21,606.92 L701.87,607.24 L703.53,607.55 L705.2,607.83 L706.86,608.1 L708.52,608.36 L710.18,608.59 L711.84,608.82 L713.51,609.03 L715.17,609.23 L716.83,609.42 L718.49,609.59 L720.15,609.76 L721.81,609.92 L723.48,610.07 L725.14,610.22 L726.8,610.35 L728.46,610.48 L730.12,610.6 L731.79,610.72 L733.45,610.83 L735.11,610.94 L736.77,611.04 L738.43,611.13 L740.09,611.23 L741.76,611.31 L743.42,611.4 L745.08,611.48 L746.74,611.55 L748.4,611.62 L750.07,611.69 L751.73,611.76 L753.39,611.83 L755.05,611.89 L756.71,611.95 L758.37,612 L760.04,612.06 L761.7,612.11 L763.36,612.16 L765.02,612.21 L766.68,612.25 L768.35,612.3 L770.01,612.34 L771.67,612.38 L773.33,612.42 L774.99,612.46 L776.65,612.5 L778.32,612.53 L779.98,612.57 L781.64,612.6 L783.3,612.63 L784.96,612.66 L786.63,612.69 L788.29,612.72 L789.95,612.75 L791.61,612.78 L793.27,612.81 L794.93,612.83 L796.6,612.86 L798.26,612.88 L799.92,612.9 L801.58,612.93 L803.24,612.95 L804.91,612.97 L806.57,612.99 L808.23,613.01 L809.89,613.03 L811.55,613.05 L813.21,613.07 L814.88,613.08 L816.54,613.1 L818.2,613.12 L819.86,613.13 L821.52,613.15 L823.19,613.16 L824.85,613.18 L826.51,613.19 L828.17,613.21 L829.83,613.22 L831.49,613.24 L833.16,613.25 L834.82,613.26 L836.48,613.27 L838.14,613.29 L839.8,613.3 L841.47,613.31 L843.13,613.32 L844.79,613.33 L846.45,613.34 L848.11,613.35 L849.77,613.36 L851.44,613.37 L853.1,613.38 L854.76,613.39 L856.42,613.4 L858.08,613.41 L859.75,613.42 L861.41,613.43 L863.07,613.44 L864.73,613.45 L866.39,613.46 L868.05,613.46 L869.72,613.47 L871.38,613.48 L873.04,613.49 L874.7,613.49 L876.36,613.5 L878.03,613.51 L879.69,613.51 L881.35,613.52 L883.01,613.53 L884.67,613.53 L886.33,613.54 L888,613.55 L889.66,613.55 L891.32,613.56 L892.98,613.56 L894.64,613.57 L896.31,613.58 L897.97,613.58 L899.63,613.59 L901.29,613.59 L902.95,613.6 L904.61,613.6 L906.28,613.61 L907.94,613.61 L909.6,613.62" fill="none" stroke="#222" stroke-width="1.15" stroke-linejoin="round" />
<path d="M544,611.37 L545.66,611.3 L547.32,611.24 L548.99,611.17 L550.65,611.1 L552.31,611.03 L553.97,610.96 L555.63,610.88 L557.29,610.8 L558.96,610.72 L560.62,610.63 L562.28,610.54 L563.94,610.45 L565.6,610.35 L567.27,610.25 L568.93,610.15 L570.59,610.04 L572.25,609.92 L573.91,609.81 L575.57,609.68 L577.24,609.55 L578.9,609.42 L580.56,609.28 L582.22,609.13 L583.88,608.98 L585.55,608.82 L587.21,608.65 L588.87,608.48 L590.53,608.3 L592.19,608.1 L593.85,607.9 L595.52,607.69 L597.18,607.47 L598.84,607.23 L600.5,606.99 L602.16,606.73 L603.83,606.46 L605.49,606.17 L607.15,605.87 L608.81,605.55 L610.47,605.21 L612.13,604.86 L613.8,604.48 L615.46,604.09 L617.12,603.67 L618.78,603.23 L620.44,602.76 L622.11,602.26 L623.77,601.73 L625.43,601.18 L627.09,600.58 L628.75,599.96 L630.41,599.29 L632.08,598.58 L633.74,597.83 L635.4,597.04 L637.06,596.2 L638.72,595.3 L640.39,594.36 L642.05,593.36 L643.71,592.31 L645.37,591.2 L647.03,590.03 L648.69,588.8 L650.36,587.52 L652.02,586.18 L653.68,584.8 L655.34,583.37 L657,581.91 L658.67,580.43 L660.33,578.93 L661.99,577.44 L663.65,575.98 L665.31,574.56 L666.97,573.22 L668.64,571.97 L670.3,570.85 L671.96,569.88 L673.62,569.08 L675.28,568.48 L676.95,568.1 L678.61,567.94 L680.27,568.01 L681.93,568.3 L683.59,568.82 L685.25,569.54 L686.92,570.44 L688.58,571.51 L690.24,572.71 L691.9,574.01 L693.56,575.4 L695.23,576.85 L696.89,578.33 L698.55,579.83 L700.21,581.32 L701.87,582.79 L703.53,584.23 L705.2,585.63 L706.86,586.99 L708.52,588.29 L710.18,589.54 L711.84,590.73 L713.51,591.87 L715.17,592.95 L716.83,593.97 L718.49,594.93 L720.15,595.85 L721.81,596.71 L723.48,597.52 L725.14,598.29 L726.8,599.01 L728.46,599.69 L730.12,600.34 L731.79,600.94 L733.45,601.51 L735.11,602.05 L736.77,602.56 L738.43,603.04 L740.09,603.5 L741.76,603.92 L743.42,604.33 L745.08,604.71 L746.74,605.07 L748.4,605.42 L750.07,605.74 L751.73,606.05 L753.39,606.34 L755.05,606.62 L756.71,606.89 L758.37,607.14 L760.04,607.37 L761.7,607.6 L763.36,607.82 L765.02,608.02 L766.68,608.22 L768.35,608.41 L770.01,608.59 L771.67,608.76 L773.33,608.92 L774.99,609.07 L776.65,609.22 L778.32,609.37 L779.98,609.5 L781.64,609.63 L783.3,609.76 L784.96,609.88 L786.63,609.99 L788.29,610.1 L789.95,610.21 L791.61,610.31 L793.27,610.41 L794.93,610.5 L796.6,610.6 L798.26,610.68 L799.92,610.77 L801.58,610.85 L803.24,610.93 L804.91,611 L806.57,611.07 L808.23,611.14 L809.89,611.21 L811.55,611.28 L813.21,611.34 L814.88,611.4 L816.54,611.46 L818.2,611.52 L819.86,611.57 L821.52,611.63 L823.19,611.68 L824.85,611.73 L826.51,611.78 L828.17,611.82 L829.83,611.87 L831.49,611.91 L833.16,611.96 L834.82,612 L836.48,612.04 L838.14,612.08 L839.8,612.11 L841.47,612.15 L843.13,612.19 L844.79,612.22 L846.45,612.26 L848.11,612.29 L849.77,612.32 L851.44,612.35 L853.1,612.38 L854.76,612.41 L856.42,612.44 L858.08,612.47 L859.75,612.49 L861.41,612.52 L863.07,612.55 L864.73,612.57 L866.39,612.6 L868.05,612.62 L869.72,612.64 L871.38,612.67 L873.04,612.69 L874.7,612.71 L876.36,612.73 L878.03,612.75 L879.69,612.77 L881.35,612.79 L883.01,612.81 L884.67,612.83 L886.33,612.85 L888,612.86 L889.66,612.88 L891.32,612.9 L892.98,612.92 L894.64,612.93 L896.31,612.95 L897.97,612.96 L899.63,612.98 L901.29,612.99 L902.95,613.01 L904.61,613.02 L906.28,613.04 L907.94,613.05 L909.6,613.06" fill="none" stroke="#222" stroke-width="1.15" stroke-linejoin="round" />
<path d="M544,610.85 L545.66,610.79 L547.32,610.73 L548.99,610.67 L550.65,610.6 L552.31,610.53 L553.97,610.46 L555.63,610.39 L557.29,610.32 L558.96,610.24 L560.62,610.16 L562.28,610.08 L563.94,609.99 L565.6,609.91 L567.27,609.82 L568.93,609.72 L570.59,609.63 L572.25,609.53 L573.91,609.43 L575.57,609.32 L577.24,609.21 L578.9,609.1 L580.56,608.98 L582.22,608.86 L583.88,608.74 L585.55,608.61 L587.21,608.47 L588.87,608.33 L590.53,608.19 L592.19,608.04 L593.85,607.88 L595.52,607.72 L597.18,607.55 L598.84,607.38 L600.5,607.2 L602.16,607.01 L603.83,606.81 L605.49,606.61 L607.15,606.39 L608.81,606.17 L610.47,605.94 L612.13,605.7 L613.8,605.45 L615.46,605.19 L617.12,604.91 L618.78,604.62 L620.44,604.32 L622.11,604.01 L623.77,603.68 L625.43,603.34 L627.09,602.98 L628.75,602.6 L630.41,602.21 L632.08,601.79 L633.74,601.36 L635.4,600.9 L637.06,600.42 L638.72,599.91 L640.39,599.38 L642.05,598.82 L643.71,598.23 L645.37,597.62 L647.03,596.96 L648.69,596.27 L650.36,595.55 L652.02,594.79 L653.68,593.98 L655.34,593.13 L657,592.23 L658.67,591.28 L660.33,590.28 L661.99,589.23 L663.65,588.12 L665.31,586.95 L666.97,585.71 L668.64,584.41 L670.3,583.05 L671.96,581.61 L673.62,580.11 L675.28,578.53 L676.95,576.89 L678.61,575.17 L680.27,573.39 L681.93,571.55 L683.59,569.65 L685.25,567.7 L686.92,565.71 L688.58,563.7 L690.24,561.68 L691.9,559.68 L693.56,557.7 L695.23,555.78 L696.89,553.94 L698.55,552.21 L700.21,550.63 L701.87,549.22 L703.53,548 L705.2,547.01 L706.86,546.27 L708.52,545.8 L710.18,545.6 L711.84,545.69 L713.51,546.05 L715.17,546.69 L716.83,547.58 L718.49,548.7 L720.15,550.04 L721.81,551.56 L723.48,553.23 L725.14,555.03 L726.8,556.92 L728.46,558.88 L730.12,560.88 L731.79,562.9 L733.45,564.91 L735.11,566.91 L736.77,568.87 L738.43,570.79 L740.09,572.66 L741.76,574.47 L743.42,576.21 L745.08,577.88 L746.74,579.49 L748.4,581.02 L750.07,582.48 L751.73,583.88 L753.39,585.2 L755.05,586.46 L756.71,587.66 L758.37,588.79 L760.04,589.87 L761.7,590.89 L763.36,591.86 L765.02,592.78 L766.68,593.64 L768.35,594.47 L770.01,595.25 L771.67,595.99 L773.33,596.69 L774.99,597.36 L776.65,597.99 L778.32,598.59 L779.98,599.16 L781.64,599.7 L783.3,600.22 L784.96,600.71 L786.63,601.18 L788.29,601.62 L789.95,602.04 L791.61,602.45 L793.27,602.83 L794.93,603.2 L796.6,603.55 L798.26,603.88 L799.92,604.2 L801.58,604.51 L803.24,604.8 L804.91,605.08 L806.57,605.34 L808.23,605.6 L809.89,605.85 L811.55,606.08 L813.21,606.31 L814.88,606.52 L816.54,606.73 L818.2,606.93 L819.86,607.12 L821.52,607.31 L823.19,607.48 L824.85,607.65 L826.51,607.82 L828.17,607.98 L829.83,608.13 L831.49,608.28 L833.16,608.42 L834.82,608.55 L836.48,608.69 L838.14,608.81 L839.8,608.94 L841.47,609.05 L843.13,609.17 L844.79,609.28 L846.45,609.39 L848.11,609.49 L849.77,609.59 L851.44,609.69 L853.1,609.78 L854.76,609.87 L856.42,609.96 L858.08,610.04 L859.75,610.13 L861.41,610.21 L863.07,610.28 L864.73,610.36 L866.39,610.43 L868.05,610.5 L869.72,610.57 L871.38,610.64 L873.04,610.71 L874.7,610.77 L876.36,610.83 L878.03,610.89 L879.69,610.95 L881.35,611 L883.01,611.06 L884.67,611.11 L886.33,611.16 L888,611.22 L889.66,611.26 L891.32,611.31 L892.98,611.36 L894.64,611.41 L896.31,611.45 L897.97,611.49 L899.63,611.54 L901.29,611.58 L902.95,611.62 L904.61,611.66 L906.28,611.69 L907.94,611.73 L909.6,611.77" fill="none" stroke="#222" stroke-width="1.15" stroke-linejoin="round" />
<path d="M544,611.85 L545.66,611.82 L547.32,611.78 L548.99,611.75 L550.65,611.71 L552.31,611.67 L553.97,611.63 L555.63,611.59 L557.29,611.55 L558.96,611.5 L560.62,611.46 L562.28,611.42 L563.94,611.37 L565.6,611.32 L567.27,611.27 L568.93,611.22 L570.59,611.17 L572.25,611.12 L573.91,611.06 L575.57,611.01 L577.24,610.95 L578.9,610.89 L580.56,610.83 L582.22,610.77 L583.88,610.7 L585.55,610.64 L587.21,610.57 L588.87,610.5 L590.53,610.43 L592.19,610.35 L593.85,610.27 L595.52,610.2 L597.18,610.11 L598.84,610.03 L600.5,609.94 L602.16,609.85 L603.83,609.76 L605.49,609.66 L607.15,609.56 L608.81,609.46 L610.47,609.35 L612.13,609.24 L613.8,609.13 L615.46,609.01 L617.12,608.89 L618.78,608.77 L620.44,608.64 L622.11,608.5 L623.77,608.36 L625.43,608.21 L627.09,608.06 L628.75,607.91 L630.41,607.74 L632.08,607.57 L633.74,607.4 L635.4,607.22 L637.06,607.03 L638.72,606.83 L640.39,606.62 L642.05,606.41 L643.71,606.19 L645.37,605.95 L647.03,605.71 L648.69,605.46 L650.36,605.19 L652.02,604.92 L653.68,604.63 L655.34,604.33 L657,604.01 L658.67,603.69 L660.33,603.34 L661.99,602.98 L663.65,602.61 L665.31,602.21 L666.97,601.8 L668.64,601.36 L670.3,600.91 L671.96,600.43 L673.62,599.93 L675.28,599.41 L676.95,598.86 L678.61,598.28 L680.27,597.67 L681.93,597.03 L683.59,596.36 L685.25,595.66 L686.92,594.92 L688.58,594.14 L690.24,593.33 L691.9,592.47 L693.56,591.57 L695.23,590.63 L696.89,589.65 L698.55,588.61 L700.21,587.54 L701.87,586.41 L703.53,585.24 L705.2,584.02 L706.86,582.75 L708.52,581.44 L710.18,580.09 L711.84,578.7 L713.51,577.27 L715.17,575.82 L716.83,574.35 L718.49,572.87 L720.15,571.4 L721.81,569.93 L723.48,568.49 L725.14,567.1 L726.8,565.76 L728.46,564.5 L730.12,563.34 L731.79,562.3 L733.45,561.38 L735.11,560.62 L736.77,560.01 L738.43,559.58 L740.09,559.34 L741.76,559.28 L743.42,559.41 L745.08,559.73 L746.74,560.23 L748.4,560.9 L750.07,561.73 L751.73,562.7 L753.39,563.8 L755.05,565 L756.71,566.29 L758.37,567.65 L760.04,569.06 L761.7,570.51 L763.36,571.99 L765.02,573.47 L766.68,574.94 L768.35,576.41 L770.01,577.85 L771.67,579.26 L773.33,580.63 L774.99,581.97 L776.65,583.26 L778.32,584.51 L779.98,585.71 L781.64,586.87 L783.3,587.97 L784.96,589.03 L786.63,590.05 L788.29,591.01 L789.95,591.94 L791.61,592.82 L793.27,593.66 L794.93,594.46 L796.6,595.22 L798.26,595.94 L799.92,596.63 L801.58,597.29 L803.24,597.92 L804.91,598.51 L806.57,599.08 L808.23,599.62 L809.89,600.14 L811.55,600.63 L813.21,601.09 L814.88,601.54 L816.54,601.96 L818.2,602.37 L819.86,602.76 L821.52,603.13 L823.19,603.48 L824.85,603.82 L826.51,604.14 L828.17,604.45 L829.83,604.75 L831.49,605.03 L833.16,605.3 L834.82,605.56 L836.48,605.81 L838.14,606.05 L839.8,606.28 L841.47,606.5 L843.13,606.71 L844.79,606.91 L846.45,607.1 L848.11,607.29 L849.77,607.47 L851.44,607.64 L853.1,607.81 L854.76,607.97 L856.42,608.12 L858.08,608.27 L859.75,608.42 L861.41,608.55 L863.07,608.69 L864.73,608.82 L866.39,608.94 L868.05,609.06 L869.72,609.18 L871.38,609.29 L873.04,609.4 L874.7,609.5 L876.36,609.6 L878.03,609.7 L879.69,609.8 L881.35,609.89 L883.01,609.98 L884.67,610.06 L886.33,610.15 L888,610.23 L889.66,610.31 L891.32,610.38 L892.98,610.46 L894.64,610.53 L896.31,610.6 L897.97,610.66 L899.63,610.73 L901.29,610.79 L902.95,610.86 L904.61,610.92 L906.28,610.97 L907.94,611.03 L909.6,611.09" fill="none" stroke="#4646d0" stroke-width="1.15" stroke-linejoin="round" />
<path d="M544,612.54 L545.66,612.52 L547.32,612.5 L548.99,612.47 L550.65,612.45 L552.31,612.43 L553.97,612.4 L555.63,612.38 L557.29,612.36 L558.96,612.33 L560.62,612.3 L562.28,612.28 L563.94,612.25 L565.6,612.22 L567.27,612.19 L568.93,612.17 L570.59,612.14 L572.25,612.11 L573.91,612.07 L575.57,612.04 L577.24,612.01 L578.9,611.98 L580.56,611.94 L582.22,611.91 L583.88,611.87 L585.55,611.83 L587.21,611.8 L588.87,611.76 L590.53,611.72 L592.19,611.68 L593.85,611.63 L595.52,611.59 L597.18,611.55 L598.84,611.5 L600.5,611.45 L602.16,611.4 L603.83,611.35 L605.49,611.3 L607.15,611.25 L608.81,611.2 L610.47,611.14 L612.13,611.08 L613.8,611.02 L615.46,610.96 L617.12,610.9 L618.78,610.84 L620.44,610.77 L622.11,610.7 L623.77,610.63 L625.43,610.56 L627.09,610.48 L628.75,610.4 L630.41,610.32 L632.08,610.24 L633.74,610.15 L635.4,610.06 L637.06,609.97 L638.72,609.88 L640.39,609.78 L642.05,609.68 L643.71,609.57 L645.37,609.46 L647.03,609.35 L648.69,609.23 L650.36,609.11 L652.02,608.98 L653.68,608.85 L655.34,608.72 L657,608.58 L658.67,608.43 L660.33,608.28 L661.99,608.12 L663.65,607.95 L665.31,607.78 L666.97,607.6 L668.64,607.42 L670.3,607.22 L671.96,607.02 L673.62,606.81 L675.28,606.59 L676.95,606.36 L678.61,606.12 L680.27,605.87 L681.93,605.6 L683.59,605.33 L685.25,605.04 L686.92,604.74 L688.58,604.42 L690.24,604.09 L691.9,603.74 L693.56,603.38 L695.23,603 L696.89,602.6 L698.55,602.18 L700.21,601.73 L701.87,601.27 L703.53,600.78 L705.2,600.26 L706.86,599.72 L708.52,599.15 L710.18,598.55 L711.84,597.91 L713.51,597.24 L715.17,596.54 L716.83,595.8 L718.49,595.02 L720.15,594.2 L721.81,593.33 L723.48,592.42 L725.14,591.46 L726.8,590.45 L728.46,589.39 L730.12,588.28 L731.79,587.12 L733.45,585.91 L735.11,584.64 L736.77,583.32 L738.43,581.95 L740.09,580.53 L741.76,579.07 L743.42,577.57 L745.08,576.04 L746.74,574.5 L748.4,572.94 L750.07,571.38 L751.73,569.85 L753.39,568.35 L755.05,566.91 L756.71,565.54 L758.37,564.27 L760.04,563.12 L761.7,562.11 L763.36,561.26 L765.02,560.59 L766.68,560.11 L768.35,559.83 L770.01,559.77 L771.67,559.92 L773.33,560.27 L774.99,560.83 L776.65,561.58 L778.32,562.49 L779.98,563.56 L781.64,564.76 L783.3,566.07 L784.96,567.48 L786.63,568.94 L788.29,570.46 L789.95,572 L791.61,573.56 L793.27,575.12 L794.93,576.66 L796.6,578.17 L798.26,579.66 L799.92,581.1 L801.58,582.5 L803.24,583.85 L804.91,585.15 L806.57,586.4 L808.23,587.59 L809.89,588.73 L811.55,589.82 L813.21,590.86 L814.88,591.85 L816.54,592.79 L818.2,593.68 L819.86,594.53 L821.52,595.34 L823.19,596.1 L824.85,596.83 L826.51,597.52 L828.17,598.17 L829.83,598.79 L831.49,599.38 L833.16,599.94 L834.82,600.47 L836.48,600.98 L838.14,601.46 L839.8,601.91 L841.47,602.35 L843.13,602.76 L844.79,603.15 L846.45,603.53 L848.11,603.89 L849.77,604.23 L851.44,604.55 L853.1,604.86 L854.76,605.16 L856.42,605.44 L858.08,605.71 L859.75,605.97 L861.41,606.21 L863.07,606.45 L864.73,606.68 L866.39,606.89 L868.05,607.1 L869.72,607.3 L871.38,607.49 L873.04,607.68 L874.7,607.85 L876.36,608.02 L878.03,608.18 L879.69,608.34 L881.35,608.49 L883.01,608.63 L884.67,608.77 L886.33,608.91 L888,609.04 L889.66,609.16 L891.32,609.28 L892.98,609.4 L894.64,609.51 L896.31,609.62 L897.97,609.72 L899.63,609.82 L901.29,609.92 L902.95,610.01 L904.61,610.1 L906.28,610.19 L907.94,610.27 L909.6,610.36" fill="none" stroke="#d8589c" stroke-width="1.15" stroke-linejoin="round" />
<path d="M544,611.82 L545.66,611.8 L547.32,611.77 L548.99,611.74 L550.65,611.71 L552.31,611.68 L553.97,611.66 L555.63,611.63 L557.29,611.59 L558.96,611.56 L560.62,611.53 L562.28,611.5 L563.94,611.47 L565.6,611.43 L567.27,611.4 L568.93,611.36 L570.59,611.33 L572.25,611.29 L573.91,611.25 L575.57,611.21 L577.24,611.18 L578.9,611.14 L580.56,611.1 L582.22,611.05 L583.88,611.01 L585.55,610.97 L587.21,610.92 L588.87,610.88 L590.53,610.83 L592.19,610.79 L593.85,610.74 L595.52,610.69 L597.18,610.64 L598.84,610.59 L600.5,610.53 L602.16,610.48 L603.83,610.43 L605.49,610.37 L607.15,610.31 L608.81,610.25 L610.47,610.19 L612.13,610.13 L613.8,610.07 L615.46,610 L617.12,609.94 L618.78,609.87 L620.44,609.8 L622.11,609.73 L623.77,609.65 L625.43,609.58 L627.09,609.5 L628.75,609.42 L630.41,609.34 L632.08,609.26 L633.74,609.17 L635.4,609.08 L637.06,608.99 L638.72,608.9 L640.39,608.8 L642.05,608.71 L643.71,608.61 L645.37,608.5 L647.03,608.39 L648.69,608.29 L650.36,608.17 L652.02,608.06 L653.68,607.94 L655.34,607.81 L657,607.69 L658.67,607.56 L660.33,607.42 L661.99,607.28 L663.65,607.14 L665.31,606.99 L666.97,606.84 L668.64,606.68 L670.3,606.52 L671.96,606.35 L673.62,606.18 L675.28,606 L676.95,605.82 L678.61,605.63 L680.27,605.43 L681.93,605.23 L683.59,605.02 L685.25,604.8 L686.92,604.57 L688.58,604.34 L690.24,604.09 L691.9,603.84 L693.56,603.58 L695.23,603.31 L696.89,603.03 L698.55,602.74 L700.21,602.43 L701.87,602.12 L703.53,601.79 L705.2,601.45 L706.86,601.1 L708.52,600.73 L710.18,600.35 L711.84,599.95 L713.51,599.53 L715.17,599.1 L716.83,598.65 L718.49,598.18 L720.15,597.69 L721.81,597.18 L723.48,596.65 L725.14,596.09 L726.8,595.5 L728.46,594.9 L730.12,594.26 L731.79,593.59 L733.45,592.9 L735.11,592.17 L736.77,591.41 L738.43,590.61 L740.09,589.77 L741.76,588.89 L743.42,587.98 L745.08,587.01 L746.74,586.01 L748.4,584.95 L750.07,583.84 L751.73,582.68 L753.39,581.47 L755.05,580.2 L756.71,578.86 L758.37,577.47 L760.04,576.01 L761.7,574.49 L763.36,572.89 L765.02,571.23 L766.68,569.5 L768.35,567.7 L770.01,565.83 L771.67,563.89 L773.33,561.89 L774.99,559.82 L776.65,557.69 L778.32,555.51 L779.98,553.29 L781.64,551.03 L783.3,548.75 L784.96,546.45 L786.63,544.17 L788.29,541.9 L789.95,539.68 L791.61,537.53 L793.27,535.47 L794.93,533.53 L796.6,531.72 L798.26,530.08 L799.92,528.64 L801.58,527.41 L803.24,526.42 L804.91,525.68 L806.57,525.21 L808.23,525.01 L809.89,525.09 L811.55,525.46 L813.21,526.09 L814.88,526.98 L816.54,528.12 L818.2,529.48 L819.86,531.05 L821.52,532.79 L823.19,534.68 L824.85,536.7 L826.51,538.81 L828.17,541.01 L829.83,543.26 L831.49,545.54 L833.16,547.83 L834.82,550.12 L836.48,552.39 L838.14,554.63 L839.8,556.83 L841.47,558.97 L843.13,561.07 L844.79,563.1 L846.45,565.06 L848.11,566.96 L849.77,568.79 L851.44,570.55 L853.1,572.24 L854.76,573.86 L856.42,575.41 L858.08,576.89 L859.75,578.31 L861.41,579.67 L863.07,580.97 L864.73,582.2 L866.39,583.39 L868.05,584.51 L869.72,585.59 L871.38,586.62 L873.04,587.6 L874.7,588.53 L876.36,589.42 L878.03,590.28 L879.69,591.09 L881.35,591.87 L883.01,592.61 L884.67,593.32 L886.33,594 L888,594.64 L889.66,595.26 L891.32,595.86 L892.98,596.43 L894.64,596.97 L896.31,597.49 L897.97,597.99 L899.63,598.47 L901.29,598.92 L902.95,599.36 L904.61,599.79 L906.28,600.19 L907.94,600.58 L909.6,600.95" fill="none" stroke="#d84646" stroke-width="1.15" stroke-linejoin="round" />
<path d="M544,612.59 L545.66,612.57 L547.32,612.56 L548.99,612.54 L550.65,612.53 L552.31,612.51 L553.97,612.49 L555.63,612.48 L557.29,612.46 L558.96,612.44 L560.62,612.43 L562.28,612.41 L563.94,612.39 L565.6,612.37 L567.27,612.35 L568.93,612.33 L570.59,612.31 L572.25,612.29 L573.91,612.27 L575.57,612.25 L577.24,612.23 L578.9,612.21 L580.56,612.19 L582.22,612.17 L583.88,612.14 L585.55,612.12 L587.21,612.1 L588.87,612.07 L590.53,612.05 L592.19,612.03 L593.85,612 L595.52,611.97 L597.18,611.95 L598.84,611.92 L600.5,611.9 L602.16,611.87 L603.83,611.84 L605.49,611.81 L607.15,611.78 L608.81,611.75 L610.47,611.72 L612.13,611.69 L613.8,611.66 L615.46,611.63 L617.12,611.59 L618.78,611.56 L620.44,611.52 L622.11,611.49 L623.77,611.45 L625.43,611.42 L627.09,611.38 L628.75,611.34 L630.41,611.3 L632.08,611.26 L633.74,611.22 L635.4,611.18 L637.06,611.14 L638.72,611.09 L640.39,611.05 L642.05,611 L643.71,610.96 L645.37,610.91 L647.03,610.86 L648.69,610.81 L650.36,610.76 L652.02,610.71 L653.68,610.65 L655.34,610.6 L657,610.54 L658.67,610.49 L660.33,610.43 L661.99,610.37 L663.65,610.31 L665.31,610.24 L666.97,610.18 L668.64,610.11 L670.3,610.04 L671.96,609.97 L673.62,609.9 L675.28,609.83 L676.95,609.75 L678.61,609.67 L680.27,609.59 L681.93,609.51 L683.59,609.43 L685.25,609.34 L686.92,609.25 L688.58,609.16 L690.24,609.06 L691.9,608.97 L693.56,608.87 L695.23,608.76 L696.89,608.66 L698.55,608.55 L700.21,608.44 L701.87,608.32 L703.53,608.2 L705.2,608.08 L706.86,607.96 L708.52,607.83 L710.18,607.69 L711.84,607.55 L713.51,607.41 L715.17,607.26 L716.83,607.11 L718.49,606.95 L720.15,606.79 L721.81,606.62 L723.48,606.45 L725.14,606.27 L726.8,606.09 L728.46,605.9 L730.12,605.7 L731.79,605.49 L733.45,605.28 L735.11,605.06 L736.77,604.84 L738.43,604.6 L740.09,604.36 L741.76,604.1 L743.42,603.84 L745.08,603.57 L746.74,603.29 L748.4,603 L750.07,602.69 L751.73,602.38 L753.39,602.05 L755.05,601.71 L756.71,601.36 L758.37,600.99 L760.04,600.61 L761.7,600.21 L763.36,599.8 L765.02,599.37 L766.68,598.92 L768.35,598.46 L770.01,597.98 L771.67,597.47 L773.33,596.95 L774.99,596.41 L776.65,595.84 L778.32,595.25 L779.98,594.64 L781.64,594 L783.3,593.33 L784.96,592.64 L786.63,591.93 L788.29,591.18 L789.95,590.41 L791.61,589.6 L793.27,588.77 L794.93,587.9 L796.6,587.01 L798.26,586.08 L799.92,585.12 L801.58,584.13 L803.24,583.11 L804.91,582.06 L806.57,580.98 L808.23,579.88 L809.89,578.75 L811.55,577.6 L813.21,576.43 L814.88,575.24 L816.54,574.05 L818.2,572.85 L819.86,571.65 L821.52,570.46 L823.19,569.28 L824.85,568.13 L826.51,567 L828.17,565.92 L829.83,564.88 L831.49,563.91 L833.16,563 L834.82,562.18 L836.48,561.44 L838.14,560.79 L839.8,560.26 L841.47,559.83 L843.13,559.53 L844.79,559.34 L846.45,559.28 L848.11,559.34 L849.77,559.53 L851.44,559.83 L853.1,560.26 L854.76,560.79 L856.42,561.44 L858.08,562.18 L859.75,563 L861.41,563.91 L863.07,564.88 L864.73,565.92 L866.39,567 L868.05,568.13 L869.72,569.28 L871.38,570.46 L873.04,571.65 L874.7,572.85 L876.36,574.05 L878.03,575.24 L879.69,576.43 L881.35,577.6 L883.01,578.75 L884.67,579.88 L886.33,580.98 L888,582.06 L889.66,583.11 L891.32,584.13 L892.98,585.12 L894.64,586.08 L896.31,587.01 L897.97,587.9 L899.63,588.77 L901.29,589.6 L902.95,590.41 L904.61,591.18 L906.28,591.93 L907.94,592.64 L909.6,593.33" fill="none" stroke="#222" stroke-width="1.15" stroke-linejoin="round" />
<path d="M544,609.81 L545.66,609.81 L547.32,609.81 L548.99,609.82 L550.65,609.82 L552.31,609.83 L553.97,609.84 L555.63,609.84 L557.29,609.85 L558.96,609.86 L560.62,609.88 L562.28,609.89 L563.94,609.9 L565.6,609.92 L567.27,609.94 L568.93,609.95 L570.59,609.97 L572.25,609.99 L573.91,610.01 L575.57,610.04 L577.24,610.06 L578.9,610.08 L580.56,610.11 L582.22,610.13 L583.88,610.16 L585.55,610.18 L587.21,610.21 L588.87,610.24 L590.53,610.27 L592.19,610.3 L593.85,610.33 L595.52,610.36 L597.18,610.39 L598.84,610.42 L600.5,610.45 L602.16,610.48 L603.83,610.52 L605.49,610.55 L607.15,610.58 L608.81,610.62 L610.47,610.65 L612.13,610.68 L613.8,610.72 L615.46,610.75 L617.12,610.78 L618.78,610.82 L620.44,610.85 L622.11,610.89 L623.77,610.92 L625.43,610.95 L627.09,610.99 L628.75,611.02 L630.41,611.06 L632.08,611.09 L633.74,611.12 L635.4,611.16 L637.06,611.19 L638.72,611.22 L640.39,611.25 L642.05,611.29 L643.71,611.32 L645.37,611.35 L647.03,611.38 L648.69,611.42 L650.36,611.45 L652.02,611.48 L653.68,611.51 L655.34,611.54 L657,611.57 L658.67,611.6 L660.33,611.63 L661.99,611.66 L663.65,611.69 L665.31,611.71 L666.97,611.74 L668.64,611.77 L670.3,611.8 L671.96,611.83 L673.62,611.85 L675.28,611.88 L676.95,611.91 L678.61,611.93 L680.27,611.96 L681.93,611.98 L683.59,612.01 L685.25,612.03 L686.92,612.06 L688.58,612.08 L690.24,612.1 L691.9,612.13 L693.56,612.15 L695.23,612.17 L696.89,612.2 L698.55,612.22 L700.21,612.24 L701.87,612.26 L703.53,612.28 L705.2,612.3 L706.86,612.33 L708.52,612.35 L710.18,612.37 L711.84,612.39 L713.51,612.4 L715.17,612.42 L716.83,612.44 L718.49,612.46 L720.15,612.48 L721.81,612.5 L723.48,612.52 L725.14,612.53 L726.8,612.55 L728.46,612.57 L730.12,612.59 L731.79,612.6 L733.45,612.62 L735.11,612.63 L736.77,612.65 L738.43,612.67 L740.09,612.68 L741.76,612.7 L743.42,612.71 L745.08,612.73 L746.74,612.74 L748.4,612.76 L750.07,612.77 L751.73,612.78 L753.39,612.8 L755.05,612.81 L756.71,612.82 L758.37,612.84 L760.04,612.85 L761.7,612.86 L763.36,612.87 L765.02,612.89 L766.68,612.9 L768.35,612.91 L770.01,612.92 L771.67,612.94 L773.33,612.95 L774.99,612.96 L776.65,612.97 L778.32,612.98 L779.98,612.99 L781.64,613 L783.3,613.01 L784.96,613.02 L786.63,613.03 L788.29,613.04 L789.95,613.05 L791.61,613.06 L793.27,613.07 L794.93,613.08 L796.6,613.09 L798.26,613.1 L799.92,613.11 L801.58,613.12 L803.24,613.13 L804.91,613.14 L806.57,613.15 L808.23,613.15 L809.89,613.16 L811.55,613.17 L813.21,613.18 L814.88,613.19 L816.54,613.2 L818.2,613.2 L819.86,613.21 L821.52,613.22 L823.19,613.23 L824.85,613.23 L826.51,613.24 L828.17,613.25 L829.83,613.26 L831.49,613.26 L833.16,613.27 L834.82,613.28 L836.48,613.28 L838.14,613.29 L839.8,613.3 L841.47,613.3 L843.13,613.31 L844.79,613.32 L846.45,613.32 L848.11,613.33 L849.77,613.33 L851.44,613.34 L853.1,613.35 L854.76,613.35 L856.42,613.36 L858.08,613.36 L859.75,613.37 L861.41,613.37 L863.07,613.38 L864.73,613.39 L866.39,613.39 L868.05,613.4 L869.72,613.4 L871.38,613.41 L873.04,613.41 L874.7,613.42 L876.36,613.42 L878.03,613.43 L879.69,613.43 L881.35,613.44 L883.01,613.44 L884.67,613.45 L886.33,613.45 L888,613.46 L889.66,613.46 L891.32,613.46 L892.98,613.47 L894.64,613.47 L896.31,613.48 L897.97,613.48 L899.63,613.49 L901.29,613.49 L902.95,613.49 L904.61,613.5 L906.28,613.5 L907.94,613.51 L909.6,613.51" fill="none" stroke="#444" stroke-width="1.15" stroke-linejoin="round" />
<line x1="543.25" y1="614" x2="909.6" y2="614" stroke="#111" stroke-width="1.6" stroke-linecap="butt"/>
<path d="M543.8,588.62 L544.8,587.51 L545.8,586.03 L546.8,584.49 L547.8,583.11 L548.8,581.97 L549.8,580.99 L550.8,580.14 L551.8,579.38 L552.8,578.68 L553.8,578.02 L554.8,577.39 L555.8,576.78 L556.8,576.18 L557.8,575.59 L558.8,574.99 L559.8,574.39 L560.8,573.79 L561.8,573.17 L562.8,572.54 L563.8,571.89 L564.8,571.23 L565.8,570.57 L566.8,569.91 L567.8,569.24 L568.8,568.58 L569.8,567.9 L570.8,567.23 L571.8,566.54 L572.8,565.85 L573.8,565.14 L574.8,564.42 L575.8,563.69 L576.8,562.95 L577.8,562.19 L578.8,561.41 L579.8,560.61 L580.8,559.8 L581.8,558.99 L582.8,558.16 L583.8,557.32 L584.8,556.47 L585.8,555.6 L586.8,554.72 L587.8,553.82 L588.8,552.9 L589.8,551.97 L590.8,551.01 L591.8,550.03 L592.8,549.02 L593.8,547.99 L594.8,546.92 L595.8,545.82 L596.8,544.66 L597.8,543.47 L598.8,542.25 L599.8,541.01 L600.8,539.75 L601.8,538.49 L602.8,537.22 L603.8,535.96 L604.8,534.72 L605.8,533.51 L606.8,532.32 L607.8,531.17 L608.8,530.07 L609.8,529.01 L610.8,528 L611.8,527.03 L612.8,526.09 L613.8,525.18 L614.8,524.3 L615.8,523.43 L616.8,522.57 L617.8,521.72 L618.8,520.87 L619.8,520.01 L620.8,519.15 L621.8,518.27 L622.8,517.37 L623.8,516.46 L624.8,515.52 L625.8,514.58 L626.8,513.64 L627.8,512.69 L628.8,511.75 L629.8,510.79 L630.8,509.83 L631.8,508.86 L632.8,507.88 L633.8,506.88 L634.8,505.86 L635.8,504.83 L636.8,503.76 L637.8,502.68 L638.8,501.56 L639.8,500.4 L640.8,499.21 L641.8,497.98 L642.8,496.71 L643.8,495.41 L644.8,494.09 L645.8,492.75 L646.8,491.4 L647.8,490.04 L648.8,488.69 L649.8,487.34 L650.8,486.01 L651.8,484.71 L652.8,483.43 L653.8,482.18 L654.8,480.96 L655.8,479.78 L656.8,478.62 L657.8,477.48 L658.8,476.36 L659.8,475.26 L660.8,474.17 L661.8,473.08 L662.8,472.01 L663.8,470.94 L664.8,469.87 L665.8,468.8 L666.8,467.73 L667.8,466.65 L668.8,465.56 L669.8,464.46 L670.8,463.36 L671.8,462.24 L672.8,461.12 L673.8,460 L674.8,458.87 L675.8,457.74 L676.8,456.62 L677.8,455.5 L678.8,454.39 L679.8,453.29 L680.8,452.2 L681.8,451.12 L682.8,450.06 L683.8,449.03 L684.8,448.03 L685.8,447.06 L686.8,446.13 L687.8,445.24 L688.8,444.38 L689.8,443.53 L690.8,442.71 L691.8,441.88 L692.8,441.06 L693.8,440.22 L694.8,439.34 L695.8,438.42 L696.8,437.41 L697.8,436.29 L698.8,435.06 L699.8,433.74 L700.8,432.4 L701.8,431.12 L702.8,430 L703.8,429.05 L704.8,428.27 L705.8,427.62 L706.8,427.07 L707.8,426.6 L708.8,426.18 L709.8,425.79 L710.8,425.43 L711.8,425.09 L712.8,424.75 L713.8,424.41 L714.8,424.06 L715.8,423.71 L716.8,423.36 L717.8,423.02 L718.8,422.69 L719.8,422.37 L720.8,422.06 L721.8,421.76 L722.8,421.47 L723.8,421.2 L724.8,420.95 L725.8,420.71 L726.8,420.49 L727.8,420.3 L728.8,420.12 L729.8,419.96 L730.8,419.82 L731.8,419.69 L732.8,419.56 L733.8,419.45 L734.8,419.34 L735.8,419.22 L736.8,419.11 L737.8,418.99 L738.8,418.86 L739.8,418.72 L740.8,418.58 L741.8,418.43 L742.8,418.28 L743.8,418.13 L744.8,417.97 L745.8,417.82 L746.8,417.66 L747.8,417.5 L748.8,417.35 L749.8,417.19 L750.8,417.04 L751.8,416.89 L752.8,416.75 L753.8,416.6 L754.8,416.47 L755.8,416.33 L756.8,416.21 L757.8,416.1 L758.8,416 L759.8,415.91 L760.8,415.84 L761.8,415.78 L762.8,415.72 L763.8,415.68 L764.8,415.64 L765.8,415.6 L766.8,415.56 L767.8,415.51 L768.8,415.45 L769.8,415.38 L770.8,415.29 L771.8,415.19 L772.8,415.07 L773.8,414.95 L774.8,414.82 L775.8,414.69 L776.8,414.54 L777.8,414.4 L778.8,414.25 L779.8,414.11 L780.8,413.96 L781.8,413.81 L782.8,413.67 L783.8,413.53 L784.8,413.39 L785.8,413.26 L786.8,413.13 L787.8,412.99 L788.8,412.86 L789.8,412.73 L790.8,412.59 L791.8,412.46 L792.8,412.33 L793.8,412.2 L794.8,412.06 L795.8,411.91 L796.8,411.73 L797.8,411.54 L798.8,411.34 L799.8,411.16 L800.8,411.05 L801.8,411 L802.8,411.05 L803.8,411.16 L804.8,411.34 L805.8,411.57 L806.8,411.83 L807.8,412.13 L808.8,412.45 L809.8,412.81 L810.8,413.19 L811.8,413.6 L812.8,414.05 L813.8,414.53 L814.8,415.05 L815.8,415.61 L816.8,416.24 L817.8,416.94 L818.8,417.71 L819.8,418.57 L820.8,419.52 L821.8,420.55 L822.8,421.67 L823.8,422.84 L824.8,424.03 L825.8,425.23 L826.8,426.4 L827.8,427.54 L828.8,428.66 L829.8,429.77 L830.8,430.87 L831.8,431.98 L832.8,433.1 L833.8,434.24 L834.8,435.4 L835.8,436.59 L836.8,437.8 L837.8,439.03 L838.8,440.27 L839.8,441.54 L840.8,442.82 L841.8,444.13 L842.8,445.47 L843.8,446.85 L844.8,448.27 L845.8,449.71 L846.8,451.13 L847.8,452.52 L848.8,453.86 L849.8,455.13 L850.8,456.35 L851.8,457.52 L852.8,458.65 L853.8,459.76 L854.8,460.84 L855.8,461.91 L856.8,462.95 L857.8,463.98 L858.8,464.99 L859.8,465.97 L860.8,466.94 L861.8,467.87 L862.8,468.79 L863.8,469.68 L864.8,470.57 L865.8,471.45 L866.8,472.33 L867.8,473.21 L868.8,474.11 L869.8,475.01 L870.8,475.91 L871.8,476.82 L872.8,477.72 L873.8,478.63 L874.8,479.53 L875.8,480.44 L876.8,481.34 L877.8,482.24 L878.8,483.14 L879.8,484.03 L880.8,484.93 L881.8,485.82 L882.8,486.71 L883.8,487.6 L884.8,488.49 L885.8,489.39 L886.8,490.28 L887.8,491.19 L888.8,492.1 L889.8,493.01 L890.8,493.93 L891.8,494.85 L892.8,495.77 L893.8,496.68 L894.8,497.57 L895.8,498.45 L896.8,499.32 L897.8,500.16 L898.8,500.99 L899.8,501.81 L900.8,502.62 L901.8,503.43 L902.8,504.23 L903.8,505.03 L904.8,505.82 L905.8,506.62 L906.8,507.37 L907.8,508.02 L908.8,508.47" fill="none" stroke="#777" stroke-width="1.0" stroke-linejoin="round" />
<g fill="#fff" stroke="#5a5a5a" stroke-width="0.85"><circle cx="543.8" cy="588.62" r="2.35"/><circle cx="545.8" cy="586.03" r="2.35"/><circle cx="547.8" cy="583.11" r="2.35"/><circle cx="549.8" cy="580.99" r="2.35"/><circle cx="552.8" cy="578.68" r="2.35"/><circle cx="555.8" cy="576.78" r="2.35"/><circle cx="558.8" cy="574.99" r="2.35"/><circle cx="561.8" cy="573.17" r="2.35"/><circle cx="564.8" cy="571.23" r="2.35"/><circle cx="567.8" cy="569.24" r="2.35"/><circle cx="570.8" cy="567.23" r="2.35"/><circle cx="573.8" cy="565.14" r="2.35"/><circle cx="576.8" cy="562.95" r="2.35"/><circle cx="579.8" cy="560.61" r="2.35"/><circle cx="582.8" cy="558.16" r="2.35"/><circle cx="585.8" cy="555.6" r="2.35"/><circle cx="588.8" cy="552.9" r="2.35"/><circle cx="591.8" cy="550.03" r="2.35"/><circle cx="594.8" cy="546.92" r="2.35"/><circle cx="596.8" cy="544.66" r="2.35"/><circle cx="598.8" cy="542.25" r="2.35"/><circle cx="600.8" cy="539.75" r="2.35"/><circle cx="602.8" cy="537.22" r="2.35"/><circle cx="604.8" cy="534.72" r="2.35"/><circle cx="606.8" cy="532.32" r="2.35"/><circle cx="608.8" cy="530.07" r="2.35"/><circle cx="611.8" cy="527.03" r="2.35"/><circle cx="614.8" cy="524.3" r="2.35"/><circle cx="617.8" cy="521.72" r="2.35"/><circle cx="620.8" cy="519.15" r="2.35"/><circle cx="623.8" cy="516.46" r="2.35"/><circle cx="626.8" cy="513.64" r="2.35"/><circle cx="629.8" cy="510.79" r="2.35"/><circle cx="632.8" cy="507.88" r="2.35"/><circle cx="635.8" cy="504.83" r="2.35"/><circle cx="637.8" cy="502.68" r="2.35"/><circle cx="639.8" cy="500.4" r="2.35"/><circle cx="641.8" cy="497.98" r="2.35"/><circle cx="643.8" cy="495.41" r="2.35"/><circle cx="645.8" cy="492.75" r="2.35"/><circle cx="647.8" cy="490.04" r="2.35"/><circle cx="649.8" cy="487.34" r="2.35"/><circle cx="651.8" cy="484.71" r="2.35"/><circle cx="653.8" cy="482.18" r="2.35"/><circle cx="655.8" cy="479.78" r="2.35"/><circle cx="657.8" cy="477.48" r="2.35"/><circle cx="659.8" cy="475.26" r="2.35"/><circle cx="661.8" cy="473.08" r="2.35"/><circle cx="663.8" cy="470.94" r="2.35"/><circle cx="665.8" cy="468.8" r="2.35"/><circle cx="667.8" cy="466.65" r="2.35"/><circle cx="669.8" cy="464.46" r="2.35"/><circle cx="671.8" cy="462.24" r="2.35"/><circle cx="673.8" cy="460" r="2.35"/><circle cx="675.8" cy="457.74" r="2.35"/><circle cx="677.8" cy="455.5" r="2.35"/><circle cx="679.8" cy="453.29" r="2.35"/><circle cx="681.8" cy="451.12" r="2.35"/><circle cx="684.8" cy="448.03" r="2.35"/><circle cx="687.8" cy="445.24" r="2.35"/><circle cx="690.8" cy="442.71" r="2.35"/><circle cx="693.8" cy="440.22" r="2.35"/><circle cx="696.8" cy="437.41" r="2.35"/><circle cx="698.8" cy="435.06" r="2.35"/><circle cx="700.8" cy="432.4" r="2.35"/><circle cx="702.8" cy="430" r="2.35"/><circle cx="705.8" cy="427.62" r="2.35"/><circle cx="708.8" cy="426.18" r="2.35"/><circle cx="711.8" cy="425.09" r="2.35"/><circle cx="714.8" cy="424.06" r="2.35"/><circle cx="717.8" cy="423.02" r="2.35"/><circle cx="720.8" cy="422.06" r="2.35"/><circle cx="723.8" cy="421.2" r="2.35"/><circle cx="726.8" cy="420.49" r="2.35"/><circle cx="729.8" cy="419.96" r="2.35"/><circle cx="732.8" cy="419.56" r="2.35"/><circle cx="735.8" cy="419.22" r="2.35"/><circle cx="738.8" cy="418.86" r="2.35"/><circle cx="741.8" cy="418.43" r="2.35"/><circle cx="744.8" cy="417.97" r="2.35"/><circle cx="747.8" cy="417.5" r="2.35"/><circle cx="750.8" cy="417.04" r="2.35"/><circle cx="753.8" cy="416.6" r="2.35"/><circle cx="756.8" cy="416.21" r="2.35"/><circle cx="759.8" cy="415.91" r="2.35"/><circle cx="762.8" cy="415.72" r="2.35"/><circle cx="765.8" cy="415.6" r="2.35"/><circle cx="768.8" cy="415.45" r="2.35"/><circle cx="771.8" cy="415.19" r="2.35"/><circle cx="774.8" cy="414.82" r="2.35"/><circle cx="777.8" cy="414.4" r="2.35"/><circle cx="780.8" cy="413.96" r="2.35"/><circle cx="783.8" cy="413.53" r="2.35"/><circle cx="786.8" cy="413.13" r="2.35"/><circle cx="789.8" cy="412.73" r="2.35"/><circle cx="792.8" cy="412.33" r="2.35"/><circle cx="795.8" cy="411.91" r="2.35"/><circle cx="798.8" cy="411.34" r="2.35"/><circle cx="801.8" cy="411" r="2.35"/><circle cx="804.8" cy="411.34" r="2.35"/><circle cx="807.8" cy="412.13" r="2.35"/><circle cx="810.8" cy="413.19" r="2.35"/><circle cx="813.8" cy="414.53" r="2.35"/><circle cx="816.8" cy="416.24" r="2.35"/><circle cx="819.8" cy="418.57" r="2.35"/><circle cx="822.8" cy="421.67" r="2.35"/><circle cx="824.8" cy="424.03" r="2.35"/><circle cx="826.8" cy="426.4" r="2.35"/><circle cx="828.8" cy="428.66" r="2.35"/><circle cx="830.8" cy="430.87" r="2.35"/><circle cx="832.8" cy="433.1" r="2.35"/><circle cx="834.8" cy="435.4" r="2.35"/><circle cx="836.8" cy="437.8" r="2.35"/><circle cx="838.8" cy="440.27" r="2.35"/><circle cx="840.8" cy="442.82" r="2.35"/><circle cx="842.8" cy="445.47" r="2.35"/><circle cx="844.8" cy="448.27" r="2.35"/><circle cx="846.8" cy="451.13" r="2.35"/><circle cx="848.8" cy="453.86" r="2.35"/><circle cx="850.8" cy="456.35" r="2.35"/><circle cx="852.8" cy="458.65" r="2.35"/><circle cx="854.8" cy="460.84" r="2.35"/><circle cx="856.8" cy="462.95" r="2.35"/><circle cx="859.8" cy="465.97" r="2.35"/><circle cx="862.8" cy="468.79" r="2.35"/><circle cx="865.8" cy="471.45" r="2.35"/><circle cx="868.8" cy="474.11" r="2.35"/><circle cx="871.8" cy="476.82" r="2.35"/><circle cx="874.8" cy="479.53" r="2.35"/><circle cx="877.8" cy="482.24" r="2.35"/><circle cx="880.8" cy="484.93" r="2.35"/><circle cx="883.8" cy="487.6" r="2.35"/><circle cx="886.8" cy="490.28" r="2.35"/><circle cx="889.8" cy="493.01" r="2.35"/><circle cx="892.8" cy="495.77" r="2.35"/><circle cx="895.8" cy="498.45" r="2.35"/><circle cx="898.8" cy="500.99" r="2.35"/><circle cx="901.8" cy="503.43" r="2.35"/><circle cx="904.8" cy="505.82" r="2.35"/><circle cx="907.8" cy="508.02" r="2.35"/></g>
<path d="M543.8,588.62 L544.8,587.51 L545.8,586.03 L546.8,584.49 L547.8,583.11 L548.8,581.97 L549.8,580.99 L550.8,580.14 L551.8,579.38 L552.8,578.68 L553.8,578.02 L554.8,577.39 L555.8,576.78 L556.8,576.18 L557.8,575.59 L558.8,574.99 L559.8,574.39 L560.8,573.79 L561.8,573.17 L562.8,572.54 L563.8,571.89 L564.8,571.23 L565.8,570.57 L566.8,569.91 L567.8,569.24 L568.8,568.58 L569.8,567.9 L570.8,567.23 L571.8,566.54 L572.8,565.85 L573.8,565.14 L574.8,564.42 L575.8,563.69 L576.8,562.95 L577.8,562.19 L578.8,561.41 L579.8,560.61 L580.8,559.8 L581.8,558.99 L582.8,558.16 L583.8,557.32 L584.8,556.47 L585.8,555.6 L586.8,554.72 L587.8,553.82 L588.8,552.9 L589.8,551.97 L590.8,551.01 L591.8,550.03 L592.8,549.02 L593.8,547.99 L594.8,546.92 L595.8,545.82 L596.8,544.66 L597.8,543.47 L598.8,542.25 L599.8,541.01 L600.8,539.75 L601.8,538.49 L602.8,537.22 L603.8,535.96 L604.8,534.72 L605.8,533.51 L606.8,532.32 L607.8,531.17 L608.8,530.07 L609.8,529.01 L610.8,528 L611.8,527.03 L612.8,526.09 L613.8,525.18 L614.8,524.3 L615.8,523.43 L616.8,522.57 L617.8,521.72 L618.8,520.87 L619.8,520.01 L620.8,519.15 L621.8,518.27 L622.8,517.37 L623.8,516.46 L624.8,515.52 L625.8,514.58 L626.8,513.64 L627.8,512.69 L628.8,511.75 L629.8,510.79 L630.8,509.83 L631.8,508.86 L632.8,507.88 L633.8,506.88 L634.8,505.86 L635.8,504.83 L636.8,503.76 L637.8,502.68 L638.8,501.56 L639.8,500.4 L640.8,499.21 L641.8,497.98 L642.8,496.71 L643.8,495.41 L644.8,494.09 L645.8,492.75 L646.8,491.4 L647.8,490.04 L648.8,488.69 L649.8,487.34 L650.8,486.01 L651.8,484.71 L652.8,483.43 L653.8,482.18 L654.8,480.96 L655.8,479.78 L656.8,478.62 L657.8,477.48 L658.8,476.36 L659.8,475.26 L660.8,474.17 L661.8,473.08 L662.8,472.01 L663.8,470.94 L664.8,469.87 L665.8,468.8 L666.8,467.73 L667.8,466.65 L668.8,465.56 L669.8,464.46 L670.8,463.36 L671.8,462.24 L672.8,461.12 L673.8,460 L674.8,458.87 L675.8,457.74 L676.8,456.62 L677.8,455.5 L678.8,454.39 L679.8,453.29 L680.8,452.2 L681.8,451.12 L682.8,450.06 L683.8,449.03 L684.8,448.03 L685.8,447.06 L686.8,446.13 L687.8,445.24 L688.8,444.38 L689.8,443.53 L690.8,442.71 L691.8,441.88 L692.8,441.06 L693.8,440.22 L694.8,439.34 L695.8,438.42 L696.8,437.41 L697.8,436.29 L698.8,435.06 L699.8,433.74 L700.8,432.4 L701.8,431.12 L702.8,430 L703.8,429.05 L704.8,428.27 L705.8,427.62 L706.8,427.07 L707.8,426.6 L708.8,426.18 L709.8,425.79 L710.8,425.43 L711.8,425.09 L712.8,424.75 L713.8,424.41 L714.8,424.06 L715.8,423.71 L716.8,423.36 L717.8,423.02 L718.8,422.69 L719.8,422.37 L720.8,422.06 L721.8,421.76 L722.8,421.47 L723.8,421.2 L724.8,420.95 L725.8,420.71 L726.8,420.49 L727.8,420.3 L728.8,420.12 L729.8,419.96 L730.8,419.82 L731.8,419.69 L732.8,419.56 L733.8,419.45 L734.8,419.34 L735.8,419.22 L736.8,419.11 L737.8,418.99 L738.8,418.86 L739.8,418.72 L740.8,418.58 L741.8,418.43 L742.8,418.28 L743.8,418.13 L744.8,417.97 L745.8,417.82 L746.8,417.66 L747.8,417.5 L748.8,417.35 L749.8,417.19 L750.8,417.04 L751.8,416.89 L752.8,416.75 L753.8,416.6 L754.8,416.47 L755.8,416.33 L756.8,416.21 L757.8,416.1 L758.8,416 L759.8,415.91 L760.8,415.84 L761.8,415.78 L762.8,415.72 L763.8,415.68 L764.8,415.64 L765.8,415.6 L766.8,415.56 L767.8,415.51 L768.8,415.45 L769.8,415.38 L770.8,415.29 L771.8,415.19 L772.8,415.07 L773.8,414.95 L774.8,414.82 L775.8,414.69 L776.8,414.54 L777.8,414.4 L778.8,414.25 L779.8,414.11 L780.8,413.96 L781.8,413.81 L782.8,413.67 L783.8,413.53 L784.8,413.39 L785.8,413.26 L786.8,413.13 L787.8,412.99 L788.8,412.86 L789.8,412.73 L790.8,412.59 L791.8,412.46 L792.8,412.33 L793.8,412.2 L794.8,412.06 L795.8,411.91 L796.8,411.73 L797.8,411.54 L798.8,411.34 L799.8,411.16 L800.8,411.05 L801.8,411 L802.8,411.05 L803.8,411.16 L804.8,411.34 L805.8,411.57 L806.8,411.83 L807.8,412.13 L808.8,412.45 L809.8,412.81 L810.8,413.19 L811.8,413.6 L812.8,414.05 L813.8,414.53 L814.8,415.05 L815.8,415.61 L816.8,416.24 L817.8,416.94 L818.8,417.71 L819.8,418.57 L820.8,419.52 L821.8,420.55 L822.8,421.67 L823.8,422.84 L824.8,424.03 L825.8,425.23 L826.8,426.4 L827.8,427.54 L828.8,428.66 L829.8,429.77 L830.8,430.87 L831.8,431.98 L832.8,433.1 L833.8,434.24 L834.8,435.4 L835.8,436.59 L836.8,437.8 L837.8,439.03 L838.8,440.27 L839.8,441.54 L840.8,442.82 L841.8,444.13 L842.8,445.47 L843.8,446.85 L844.8,448.27 L845.8,449.71 L846.8,451.13 L847.8,452.52 L848.8,453.86 L849.8,455.13 L850.8,456.35 L851.8,457.52 L852.8,458.65 L853.8,459.76 L854.8,460.84 L855.8,461.91 L856.8,462.95 L857.8,463.98 L858.8,464.99 L859.8,465.97 L860.8,466.94 L861.8,467.87 L862.8,468.79 L863.8,469.68 L864.8,470.57 L865.8,471.45 L866.8,472.33 L867.8,473.21 L868.8,474.11 L869.8,475.01 L870.8,475.91 L871.8,476.82 L872.8,477.72 L873.8,478.63 L874.8,479.53 L875.8,480.44 L876.8,481.34 L877.8,482.24 L878.8,483.14 L879.8,484.03 L880.8,484.93 L881.8,485.82 L882.8,486.71 L883.8,487.6 L884.8,488.49 L885.8,489.39 L886.8,490.28 L887.8,491.19 L888.8,492.1 L889.8,493.01 L890.8,493.93 L891.8,494.85 L892.8,495.77 L893.8,496.68 L894.8,497.57 L895.8,498.45 L896.8,499.32 L897.8,500.16 L898.8,500.99 L899.8,501.81 L900.8,502.62 L901.8,503.43 L902.8,504.23 L903.8,505.03 L904.8,505.82 L905.8,506.62 L906.8,507.37 L907.8,508.02 L908.8,508.47" fill="none" stroke="#222" stroke-width="0.7" stroke-linejoin="round" />
<line x1="1006.8" y1="365.6" x2="1434.8" y2="365.6" stroke="#8a8a8a" stroke-width="2" stroke-linecap="butt"/>
<line x1="1006.8" y1="364.6" x2="1006.8" y2="656.5" stroke="#8a8a8a" stroke-width="2" stroke-linecap="butt"/>
<line x1="1434.8" y1="364.6" x2="1434.8" y2="657.5" stroke="#111" stroke-width="2.2" stroke-linecap="butt"/>
<line x1="1005.8" y1="656.5" x2="1435.8" y2="656.5" stroke="#111" stroke-width="2.2" stroke-linecap="butt"/>
<line x1="1043.5" y1="373.35" x2="1043.5" y2="636.95" stroke="#111" stroke-width="1.5" stroke-linecap="butt"/>
<line x1="1042.75" y1="636.2" x2="1429.3" y2="636.2" stroke="#111" stroke-width="1.5" stroke-linecap="butt"/>
<text transform="translate(1032.8 639.5) scale(1.0 1)" x="0" y="0" font-size="9.3" text-anchor="middle" fill="#333">0</text>
<text transform="translate(1032.8 601.95) scale(1.0 1)" x="0" y="0" font-size="9.3" text-anchor="middle" fill="#333">1</text>
<text transform="translate(1032.8 564.4) scale(1.0 1)" x="0" y="0" font-size="9.3" text-anchor="middle" fill="#333">2</text>
<text transform="translate(1032.8 526.85) scale(1.0 1)" x="0" y="0" font-size="9.3" text-anchor="middle" fill="#333">3</text>
<text transform="translate(1032.8 489.3) scale(1.0 1)" x="0" y="0" font-size="9.3" text-anchor="middle" fill="#333">4</text>
<text transform="translate(1032.8 451.75) scale(1.0 1)" x="0" y="0" font-size="9.3" text-anchor="middle" fill="#333">5</text>
<text transform="translate(1032.8 414.2) scale(1.0 1)" x="0" y="0" font-size="9.3" text-anchor="middle" fill="#333">6</text>
<text transform="translate(1032.8 376.65) scale(1.0 1)" x="0" y="0" font-size="9.3" text-anchor="middle" fill="#333">7</text>
<text x="1021.2" y="503.7" font-size="13.5" text-anchor="middle" font-weight="bold" fill="#111" transform="rotate(-90 1021.2 503.7)" >Integrated Area Under the Curve</text>
<text transform="translate(1008.7 652.8) scale(0.917 1)" x="0" y="0" font-size="36.2" font-weight="bold" fill="#000">F</text>
<rect x="1053.3" y="506.28" width="10.6" height="129.92" fill="#000"/>
<line x1="1058.6" y1="506.28" x2="1058.6" y2="488.63" stroke="#111" stroke-width="1.8" stroke-linecap="butt"/>
<line x1="1057.4" y1="488.63" x2="1059.8" y2="488.63" stroke="#111" stroke-width="1.5" stroke-linecap="butt"/>
<line x1="1065.6" y1="631.6" x2="1065.6" y2="510.78" stroke="#2a2a2a" stroke-width="2.2" stroke-dasharray="6.2 4.6" stroke-linecap="butt"/>
<line x1="1075.5" y1="635" x2="1075.5" y2="511.78" stroke="#2a2a2a" stroke-width="2.2" stroke-dasharray="6.2 4.6" stroke-linecap="butt"/>
<line x1="1064.7" y1="510.78" x2="1071.9" y2="510.78" stroke="#111" stroke-width="1.8" stroke-linecap="butt"/>
<line x1="1071" y1="510.78" x2="1071" y2="488.63" stroke="#111" stroke-width="1.8" stroke-linecap="butt"/>
<line x1="1069.8" y1="488.63" x2="1072.2" y2="488.63" stroke="#111" stroke-width="1.5" stroke-linecap="butt"/>
<text transform="translate(1065.1 651.2) scale(1.0 1)" x="0" y="0" font-size="9.3" text-anchor="middle" fill="#2a2a2a">1610</text>
<rect x="1096.15" y="425.17" width="10.6" height="211.03" fill="#000"/>
<line x1="1101.45" y1="425.17" x2="1101.45" y2="408.27" stroke="#111" stroke-width="1.8" stroke-linecap="butt"/>
<line x1="1100.25" y1="408.27" x2="1102.65" y2="408.27" stroke="#111" stroke-width="1.5" stroke-linecap="butt"/>
<line x1="1108.45" y1="631.6" x2="1108.45" y2="513.41" stroke="#2a2a2a" stroke-width="2.2" stroke-dasharray="6.2 4.6" stroke-linecap="butt"/>
<line x1="1118.35" y1="635" x2="1118.35" y2="514.41" stroke="#2a2a2a" stroke-width="2.2" stroke-dasharray="6.2 4.6" stroke-linecap="butt"/>
<line x1="1107.55" y1="513.41" x2="1114.75" y2="513.41" stroke="#111" stroke-width="1.8" stroke-linecap="butt"/>
<line x1="1113.85" y1="513.41" x2="1113.85" y2="489.76" stroke="#111" stroke-width="1.8" stroke-linecap="butt"/>
<line x1="1112.65" y1="489.76" x2="1115.05" y2="489.76" stroke="#111" stroke-width="1.5" stroke-linecap="butt"/>
<text transform="translate(1107.95 651.2) scale(1.0 1)" x="0" y="0" font-size="9.3" text-anchor="middle" fill="#2a2a2a">1623</text>
<rect x="1139" y="526.18" width="10.6" height="110.02" fill="#000"/>
<line x1="1144.3" y1="526.18" x2="1144.3" y2="501.4" stroke="#111" stroke-width="1.8" stroke-linecap="butt"/>
<line x1="1143.1" y1="501.4" x2="1145.5" y2="501.4" stroke="#111" stroke-width="1.5" stroke-linecap="butt"/>
<line x1="1151.3" y1="631.6" x2="1151.3" y2="473.98" stroke="#2a2a2a" stroke-width="2.2" stroke-dasharray="6.2 4.6" stroke-linecap="butt"/>
<line x1="1161.2" y1="635" x2="1161.2" y2="474.98" stroke="#2a2a2a" stroke-width="2.2" stroke-dasharray="6.2 4.6" stroke-linecap="butt"/>
<line x1="1150.4" y1="473.98" x2="1157.6" y2="473.98" stroke="#111" stroke-width="1.8" stroke-linecap="butt"/>
<line x1="1156.7" y1="473.98" x2="1156.7" y2="458.96" stroke="#111" stroke-width="1.8" stroke-linecap="butt"/>
<line x1="1155.5" y1="458.96" x2="1157.9" y2="458.96" stroke="#111" stroke-width="1.5" stroke-linecap="butt"/>
<text transform="translate(1150.8 651.2) scale(1.0 1)" x="0" y="0" font-size="9.3" text-anchor="middle" fill="#2a2a2a">1634</text>
<rect x="1181.85" y="511.91" width="10.6" height="124.29" fill="#000"/>
<line x1="1187.15" y1="511.91" x2="1187.15" y2="498.39" stroke="#111" stroke-width="1.8" stroke-linecap="butt"/>
<line x1="1185.95" y1="498.39" x2="1188.35" y2="498.39" stroke="#111" stroke-width="1.5" stroke-linecap="butt"/>
<line x1="1194.15" y1="631.6" x2="1194.15" y2="462.34" stroke="#2a2a2a" stroke-width="2.2" stroke-dasharray="6.2 4.6" stroke-linecap="butt"/>
<line x1="1204.05" y1="635" x2="1204.05" y2="463.34" stroke="#2a2a2a" stroke-width="2.2" stroke-dasharray="6.2 4.6" stroke-linecap="butt"/>
<line x1="1193.25" y1="462.34" x2="1200.45" y2="462.34" stroke="#111" stroke-width="1.8" stroke-linecap="butt"/>
<line x1="1199.55" y1="462.34" x2="1199.55" y2="426.67" stroke="#111" stroke-width="1.8" stroke-linecap="butt"/>
<line x1="1198.35" y1="426.67" x2="1200.75" y2="426.67" stroke="#111" stroke-width="1.5" stroke-linecap="butt"/>
<text transform="translate(1193.65 651.2) scale(1.0 1)" x="0" y="0" font-size="9.3" text-anchor="middle" fill="#2a2a2a">1643</text>
<rect x="1224.7" y="514.54" width="10.6" height="121.66" fill="#000"/>
<line x1="1230" y1="514.54" x2="1230" y2="493.51" stroke="#111" stroke-width="1.8" stroke-linecap="butt"/>
<line x1="1228.8" y1="493.51" x2="1231.2" y2="493.51" stroke="#111" stroke-width="1.5" stroke-linecap="butt"/>
<line x1="1237" y1="631.6" x2="1237" y2="523.55" stroke="#2a2a2a" stroke-width="2.2" stroke-dasharray="6.2 4.6" stroke-linecap="butt"/>
<line x1="1246.9" y1="635" x2="1246.9" y2="524.55" stroke="#2a2a2a" stroke-width="2.2" stroke-dasharray="6.2 4.6" stroke-linecap="butt"/>
<line x1="1236.1" y1="523.55" x2="1243.3" y2="523.55" stroke="#111" stroke-width="1.8" stroke-linecap="butt"/>
<line x1="1242.4" y1="523.55" x2="1242.4" y2="507.4" stroke="#111" stroke-width="1.8" stroke-linecap="butt"/>
<line x1="1241.2" y1="507.4" x2="1243.6" y2="507.4" stroke="#111" stroke-width="1.5" stroke-linecap="butt"/>
<text transform="translate(1236.5 651.2) scale(1.0 1)" x="0" y="0" font-size="9.3" text-anchor="middle" fill="#2a2a2a">1650</text>
<rect x="1267.55" y="544.95" width="10.6" height="91.25" fill="#000"/>
<line x1="1272.85" y1="544.95" x2="1272.85" y2="529.93" stroke="#111" stroke-width="1.8" stroke-linecap="butt"/>
<line x1="1271.65" y1="529.93" x2="1274.05" y2="529.93" stroke="#111" stroke-width="1.5" stroke-linecap="butt"/>
<line x1="1279.85" y1="631.6" x2="1279.85" y2="544.95" stroke="#2a2a2a" stroke-width="2.2" stroke-dasharray="6.2 4.6" stroke-linecap="butt"/>
<line x1="1289.75" y1="635" x2="1289.75" y2="545.95" stroke="#2a2a2a" stroke-width="2.2" stroke-dasharray="6.2 4.6" stroke-linecap="butt"/>
<line x1="1278.95" y1="544.95" x2="1286.15" y2="544.95" stroke="#111" stroke-width="1.8" stroke-linecap="butt"/>
<line x1="1285.25" y1="544.95" x2="1285.25" y2="537.82" stroke="#111" stroke-width="1.8" stroke-linecap="butt"/>
<line x1="1284.05" y1="537.82" x2="1286.45" y2="537.82" stroke="#111" stroke-width="1.5" stroke-linecap="butt"/>
<text transform="translate(1279.35 651.2) scale(1.0 1)" x="0" y="0" font-size="9.3" text-anchor="middle" fill="#2a2a2a">1660</text>
<rect x="1310.4" y="570.86" width="10.6" height="65.34" fill="#000"/>
<line x1="1315.7" y1="570.86" x2="1315.7" y2="559.6" stroke="#111" stroke-width="1.8" stroke-linecap="butt"/>
<line x1="1314.5" y1="559.6" x2="1316.9" y2="559.6" stroke="#111" stroke-width="1.5" stroke-linecap="butt"/>
<line x1="1322.7" y1="631.6" x2="1322.7" y2="570.86" stroke="#2a2a2a" stroke-width="2.2" stroke-dasharray="6.2 4.6" stroke-linecap="butt"/>
<line x1="1332.6" y1="635" x2="1332.6" y2="571.86" stroke="#2a2a2a" stroke-width="2.2" stroke-dasharray="6.2 4.6" stroke-linecap="butt"/>
<line x1="1321.8" y1="570.86" x2="1329" y2="570.86" stroke="#111" stroke-width="1.8" stroke-linecap="butt"/>
<line x1="1328.1" y1="570.86" x2="1328.1" y2="561.85" stroke="#111" stroke-width="1.8" stroke-linecap="butt"/>
<line x1="1326.9" y1="561.85" x2="1329.3" y2="561.85" stroke="#111" stroke-width="1.5" stroke-linecap="butt"/>
<text transform="translate(1322.2 651.2) scale(1.0 1)" x="0" y="0" font-size="9.3" text-anchor="middle" fill="#2a2a2a">1669</text>
<rect x="1353.25" y="599.78" width="10.6" height="36.42" fill="#000"/>
<line x1="1358.55" y1="599.78" x2="1358.55" y2="594.9" stroke="#111" stroke-width="1.8" stroke-linecap="butt"/>
<line x1="1357.35" y1="594.9" x2="1359.75" y2="594.9" stroke="#111" stroke-width="1.5" stroke-linecap="butt"/>
<line x1="1365.55" y1="631.6" x2="1365.55" y2="596.02" stroke="#2a2a2a" stroke-width="2.2" stroke-dasharray="6.2 4.6" stroke-linecap="butt"/>
<line x1="1375.45" y1="635" x2="1375.45" y2="597.02" stroke="#2a2a2a" stroke-width="2.2" stroke-dasharray="6.2 4.6" stroke-linecap="butt"/>
<line x1="1364.65" y1="596.02" x2="1371.85" y2="596.02" stroke="#111" stroke-width="1.8" stroke-linecap="butt"/>
<line x1="1370.95" y1="596.02" x2="1370.95" y2="588.89" stroke="#111" stroke-width="1.8" stroke-linecap="butt"/>
<line x1="1369.75" y1="588.89" x2="1372.15" y2="588.89" stroke="#111" stroke-width="1.5" stroke-linecap="butt"/>
<text transform="translate(1365.05 651.2) scale(1.0 1)" x="0" y="0" font-size="9.3" text-anchor="middle" fill="#2a2a2a">1677</text>
<rect x="1396.1" y="620.43" width="10.6" height="15.77" fill="#000"/>
<line x1="1401.4" y1="620.43" x2="1401.4" y2="613.29" stroke="#111" stroke-width="1.8" stroke-linecap="butt"/>
<line x1="1400.2" y1="613.29" x2="1402.6" y2="613.29" stroke="#111" stroke-width="1.5" stroke-linecap="butt"/>
<line x1="1408.4" y1="631.6" x2="1408.4" y2="612.54" stroke="#2a2a2a" stroke-width="2.2" stroke-dasharray="6.2 4.6" stroke-linecap="butt"/>
<line x1="1418.3" y1="635" x2="1418.3" y2="613.54" stroke="#2a2a2a" stroke-width="2.2" stroke-dasharray="6.2 4.6" stroke-linecap="butt"/>
<line x1="1407.5" y1="612.54" x2="1414.7" y2="612.54" stroke="#111" stroke-width="1.8" stroke-linecap="butt"/>
<line x1="1413.8" y1="612.54" x2="1413.8" y2="605.41" stroke="#111" stroke-width="1.8" stroke-linecap="butt"/>
<line x1="1412.6" y1="605.41" x2="1415" y2="605.41" stroke="#111" stroke-width="1.5" stroke-linecap="butt"/>
<text transform="translate(1407.9 651.2) scale(1.0 1)" x="0" y="0" font-size="9.3" text-anchor="middle" fill="#2a2a2a">1686</text>
<g stroke="#111" stroke-width="1.6" stroke-linecap="round"><line x1="1089" y1="381.9" x2="1089" y2="391.1"/><line x1="1085.02" y1="384.2" x2="1092.98" y2="388.8"/><line x1="1085.02" y1="388.8" x2="1092.98" y2="384.2"/></g><circle cx="1089" cy="386.5" r="1.5" fill="#000"/>
<g stroke="#111" stroke-width="1.6" stroke-linecap="round"><line x1="1102.8" y1="381.9" x2="1102.8" y2="391.1"/><line x1="1098.82" y1="384.2" x2="1106.78" y2="388.8"/><line x1="1098.82" y1="388.8" x2="1106.78" y2="384.2"/></g><circle cx="1102.8" cy="386.5" r="1.5" fill="#000"/>
<g stroke="#111" stroke-width="1.6" stroke-linecap="round"><line x1="1116.7" y1="381.9" x2="1116.7" y2="391.1"/><line x1="1112.72" y1="384.2" x2="1120.68" y2="388.8"/><line x1="1112.72" y1="388.8" x2="1120.68" y2="384.2"/></g><circle cx="1116.7" cy="386.5" r="1.5" fill="#000"/>
<g stroke="#111" stroke-width="1.6" stroke-linecap="round"><line x1="1148.8" y1="429.8" x2="1148.8" y2="439"/><line x1="1144.82" y1="432.1" x2="1152.78" y2="436.7"/><line x1="1144.82" y1="436.7" x2="1152.78" y2="432.1"/></g><circle cx="1148.8" cy="434.4" r="1.5" fill="#000"/>
<g stroke="#111" stroke-width="1.6" stroke-linecap="round"><line x1="1162.8" y1="429.8" x2="1162.8" y2="439"/><line x1="1158.82" y1="432.1" x2="1166.78" y2="436.7"/><line x1="1158.82" y1="436.7" x2="1166.78" y2="432.1"/></g><circle cx="1162.8" cy="434.4" r="1.5" fill="#000"/>
<g stroke="#111" stroke-width="1.6" stroke-linecap="round"><line x1="1199.3" y1="402.6" x2="1199.3" y2="411.8"/><line x1="1195.32" y1="404.9" x2="1203.28" y2="409.5"/><line x1="1195.32" y1="409.5" x2="1203.28" y2="404.9"/></g><circle cx="1199.3" cy="407.2" r="1.5" fill="#000"/>
<text font-size="18.5" fill="#111"><tspan x="1309.8" y="384.7">***</tspan><tspan x="1336.3" y="384.7" font-style="italic">p</tspan><tspan x="1346.4" y="384.7"> &lt; 0.0005</tspan><tspan x="1309.8" y="407.6">**</tspan><tspan x="1333.8" y="407.6" font-style="italic">p</tspan><tspan x="1343.9" y="407.6"> &lt; 0.005</tspan><tspan x="1309.8" y="430.5">*</tspan><tspan x="1332.3" y="430.5" font-style="italic">p</tspan><tspan x="1342.4" y="430.5"> &lt; 0.05</tspan></text>
</svg>
</body></html>
